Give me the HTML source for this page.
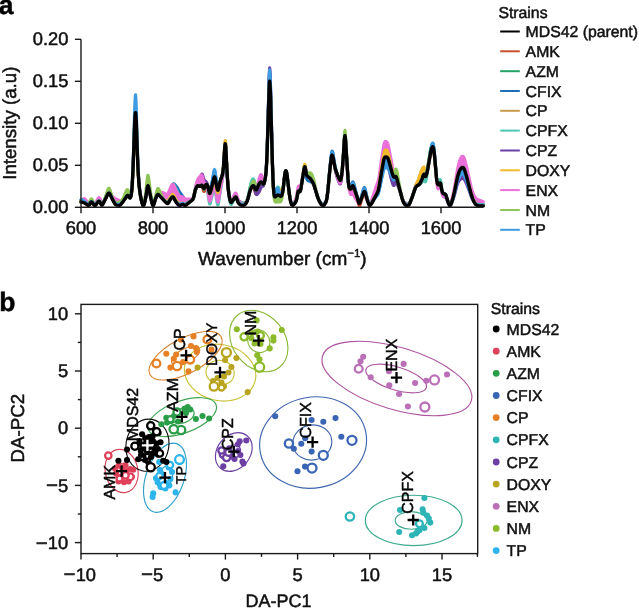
<!DOCTYPE html>
<html lang="en">
<head>
<meta charset="utf-8">
<title>Raman spectra and DAPC of resistant strains</title>
<style>
html,body{margin:0;padding:0;background:#fff;}
body{width:639px;height:608px;overflow:hidden;}
svg{display:block;will-change:transform;}
text{font-family:"Liberation Sans", Arial, Helvetica, sans-serif;text-rendering:geometricPrecision;stroke:#111;stroke-width:0.5px;stroke-linejoin:round;}
</style>
</head>
<body>
<svg width="639" height="608" viewBox="0 0 639 608">
<rect width="639" height="608" fill="#fff"/>
<g stroke-linejoin="round" stroke-linecap="round">
<path fill="#c8502a" stroke="none" d="M83.1,202.1 85.2,202.9 87.6,204.6 88.5,205 88.8,204.9 89.4,204.3 90.9,201.9 90.9,202.3 89.4,204.8 88.8,205.5 88.5,205.6 87.6,205.2 84.9,203.2 83.1,202.5ZM92.1,202 93.9,204.4 94.5,204.9 94.8,205 95.4,204.8 96,204.3 97.8,201.9 97.8,202.2 96,204.8 95.4,205.4 94.8,205.6 94.5,205.5 93.9,205 92.1,202.3ZM99.9,201.8 101.1,204 101.7,204.6 102,204.6 102.6,204.1 103.8,202 103.8,202.4 102.6,204.6 102,205.2 101.7,205.2 101.1,204.6 99.9,202.1ZM114,202 114.9,203.4 115.8,204.3 116.4,204.5 119.1,204.8 120,204.6 120.6,204.2 122.7,201.8 122.7,202.1 120.6,204.7 120,205.2 119.1,205.4 116.4,205.1 115.8,204.8 114.9,203.9 114,202.3ZM141.6,201.2 142.5,204 143.1,205.1 143.4,205.2 143.7,205 144,204.4 144.9,201.4 144.9,201.7 144,205 143.7,205.6 143.4,205.9 143.1,205.8 142.5,204.6 141.6,201.4ZM151.8,202.2 152.4,204.1 152.7,204.7 153,205 153.3,205 153.6,204.6 154.5,202 154.5,202.3 153.6,205.1 153.3,205.6 153,205.6 152.7,205.3 152.4,204.6 151.8,202.5ZM165.9,202.1 167.1,203 167.7,203.2 168.3,202.7 168.9,201.8 168.9,202.1 168.3,203.1 167.7,203.6 167.1,203.5 165.9,202.5ZM176.1,201.9 178.2,204.2 179.1,204.8 179.7,204.9 180.3,204.8 181.8,204 182.4,203.9 183,204 184.5,204.8 185.4,204.9 186.3,204.4 189.3,202.1 189.3,202.5 186.3,204.9 185.4,205.5 185.1,205.6 184.5,205.4 183,204.5 182.4,204.4 181.8,204.6 180.3,205.4 179.7,205.6 179.1,205.4 178.2,204.7 176.1,202.2ZM201.3,185.7 201.6,185.7 201.9,185.9 202.2,186.5 203.4,190.7 203.7,191.4 204,191.6 204.3,191.5 204.6,191 205.8,187.2 206.4,185.8 206.7,185.4 207,185.3 207.3,185.5 207.9,186.6 207.9,186.3 207.3,184.9 206.7,184.3 206.4,184.3 205.8,185 204.3,188.3 204,188.6 203.7,188.6 203.4,188.2 202.2,185.5 201.9,185.2 201.6,185.2 201.3,185.4ZM209.4,193.3 209.7,193.8 210,193.7 210.3,193.2 212.7,186.2 213.9,182.1 214.5,180.8 214.8,180.8 215.1,181.5 216.6,188 217.2,190.1 217.5,190.7 217.8,190.9 218.1,190.6 218.7,188.5 218.7,188.2 218.1,190.1 217.8,190.3 217.5,189.9 216.6,186.2 215.1,178.1 214.8,177.1 214.5,176.9 214.2,177.3 213.6,179.2 210.3,192.5 210,193.2 209.7,193.4 209.4,193ZM237.9,201.7 238.5,202.8 239.7,203.9 241.2,204.7 242.4,205 243.6,204.8 244.5,204.4 245.7,203.3 246.6,202 246.6,202.4 245.7,203.8 244.5,205 243.6,205.4 242.4,205.6 241.2,205.3 239.7,204.4 238.5,203.2 237.9,202ZM250.8,189 251.4,188 252,187.3 252.6,187 253.2,187.1 253.8,187.8 254.1,188.6 255.6,193.5 255.9,194 256.2,194.3 256.5,194.2 257.1,193.3 259.2,188.4 260.4,185.9 261,185 261.6,184.6 263.1,185.3 263.4,185.2 263.7,184.8 264.3,183.2 265.2,178.9 265.2,178.6 264.3,182.6 263.7,184 263.4,184.2 263.1,184.1 261.9,182.6 261.3,182 261,182 260.4,182.3 259.5,183.3 258.6,184.8 256.8,189.3 256.2,190.1 255.9,190.1 255.6,189.8 254.1,186.4 253.5,185.7 252.9,185.8 252.3,186.3 251.4,187.5 250.8,188.7ZM290.7,201.7 291.6,204.1 291.9,204.5 292.5,204.8 293.1,204.6 294,203.9 295.5,202.1 295.5,202.4 294.9,203.4 294,204.5 293.1,205.2 292.5,205.4 291.9,205.1 291.6,204.7 290.7,202ZM319.8,201.9 320.7,203.3 321.3,204 322.2,204.7 323.1,204.9 323.7,204.8 324.3,204.3 325.2,203.1 325.8,202 325.8,202.4 325.2,203.5 324.3,204.8 323.7,205.3 323.1,205.5 322.2,205.3 321.3,204.6 320.7,203.8 319.8,202.2ZM355.8,193.5 358.5,203.9 359.1,205.6 359.4,205.8 359.7,205.7 360,205.2 360.6,203.7 363.3,194 363.9,192.3 364.2,191.8 364.2,191.5 363.9,191.9 363.3,193.2 360.3,201.9 359.7,203.1 359.4,203.4 359.1,203.3 358.5,202 355.8,193.1ZM367.8,201.5 368.7,203.7 369.3,204.7 369.6,204.9 369.9,204.9 370.5,204.5 371.4,203.4 372.3,202 372.3,202.3 370.8,204.7 370.2,205.4 369.9,205.5 369.6,205.5 369.3,205.2 368.7,204.2 367.8,201.8ZM376.8,193.4 378,190.5 378.6,188.2 379.2,185 383.4,158.1 384,155.3 384.3,154.4 384.9,153.3 385.2,153.1 385.8,153 386.7,153.2 387.3,153.8 387.9,154.9 388.8,157.8 391.5,169.3 393,174.8 393.6,176.3 393.9,176.7 394.2,176.8 394.8,176.5 394.8,176.9 394.2,177.2 393.9,177.1 393.6,176.8 393,175.6 391.5,170.7 388.8,160.7 387.9,158.3 387.3,157.4 386.7,157.1 385.5,157 384.9,157.2 384.3,158.1 384,159 383.4,161.5 378.6,189 378,191.1 376.8,193.8ZM403.5,202 404.4,203.4 405.6,204.5 406.8,205 408,205 408.6,204.7 409.2,204 410.7,200.9 410.7,201.2 409.2,204.6 408.6,205.3 408,205.6 406.8,205.6 405.6,205.1 404.4,203.9 403.5,202.3ZM412.8,195.1 414.9,188.1 416.1,184.8 417,183.2 418.5,181.2 419.4,179.7 422.1,174.2 423.3,171.4 423.6,170.9 423.9,170.8 424.2,171 425.1,173.6 425.4,174.3 425.7,174.5 426,174.4 426.6,173 427.8,168.6 427.8,168.8 426.9,173 426,176 425.7,176.4 425.4,176.5 424.2,174.3 423.9,174.3 423.6,174.7 421.8,179.6 419.7,183.8 418.8,184.8 416.7,186 415.8,187.2 414.6,190 412.8,195.4ZM428.4,165.8 430.2,155.9 431.1,151.9 431.7,150.1 432.3,148.9 432.6,148.7 432.9,148.8 433.2,149.3 433.8,151.9 434.4,156.5 436.2,176 436.8,181.1 437.1,182.8 437.7,184.6 438,185 438.3,185.1 438.6,185.1 438.6,184.8 438.3,184.8 438,184.6 437.7,184.1 437.1,182.1 436.8,180.3 436.2,175 434.4,154.8 433.8,150 433.2,147.4 432.9,146.8 432.6,146.7 432.3,147 431.7,148.2 431.1,150.2 430.2,154.6 428.4,165.7ZM447.9,201.5 449.1,204.3 449.7,205 450,205.1 450.3,205 450.9,204.1 451.8,201.8 451.8,202.1 450.9,204.6 450.3,205.6 450,205.7 449.7,205.6 449.1,204.8 447.9,201.8ZM474.3,202 475.2,203.3 475.8,204 477,204.7 478.2,205.1 479.4,205.3 483.3,205.3 483.3,205.9 479.4,205.9 478.2,205.7 477,205.3 476.1,204.8 475.5,204.2 474.3,202.4Z"/>
<path fill="none" stroke="#c8502a" stroke-width="3.0" d="M81,201.7 82.5,202 84.6,202.6 85.5,203.1 87.6,204.6 88.2,205 88.5,205 88.8,204.9 89.4,204.3 90.3,202.8 90.9,201.9 91.2,201.7 91.5,201.7 91.8,201.8 92.4,202.3 93.9,204.4 94.5,204.9 94.8,205 95.1,205 95.7,204.6 98.1,201.5 98.7,201.1 99,201 99.3,201.1 99.9,201.8 101.1,204 101.4,204.4 101.7,204.6 102,204.6 102.3,204.4 102.9,203.6 104.7,200.4 105.9,198.1 107.7,194.2 108.3,193.4 108.6,193.1 108.9,193.1 109.2,193.2 109.8,193.8 112.5,199.4 114.3,202.5 115.2,203.8 115.8,204.3 116.4,204.5 119.1,204.8 119.7,204.7 120.3,204.4 121.5,203.3 123.9,200.3 126.6,196.3 127.2,195.6 127.5,195.5 127.8,195.5 128.1,195.7 129.3,197.5 129.6,197.9 129.9,198 130.2,197.8 130.5,197.4 131.1,195.5 131.4,193.8 132,188.1 132.3,183.8 133.2,165 134.7,122.4 135,116.6 135.3,113.2 135.6,112.7 135.9,115.1 136.2,120.1 137.4,154.7 138,169.5 138.9,183.3 139.8,191.6 140.7,197.1 141.3,200 141.9,202.2 142.5,204 142.8,204.7 143.1,205.1 143.4,205.2 143.7,205 144,204.4 144.9,201.4 145.8,197.2 147.3,187.4 147.6,186.2 147.9,185.7 148.2,186 148.8,188.1 150.9,198.3 151.8,202.2 152.4,204.1 152.7,204.7 153,205 153.3,205 153.6,204.6 153.9,203.9 155.4,199.2 156.6,196.1 157.2,194.9 157.5,194.6 157.8,194.4 158.1,194.4 158.7,194.8 165.3,201.6 166.5,202.6 167.4,203.1 167.7,203.2 168,203 168.3,202.7 170.1,199.7 171.6,197.5 172.2,197 172.5,196.9 172.8,196.9 173.1,197 173.7,197.7 175.5,201 176.1,201.9 177.6,203.6 178.8,204.6 179.4,204.9 180,204.9 180.6,204.7 181.8,204 182.4,203.9 183,204 184.5,204.8 185.1,205 185.4,204.9 186.3,204.4 192,200.1 192.9,199.3 193.5,197.9 195,191.3 195.6,189.3 196.2,187.7 196.8,186.6 197.4,185.9 197.7,185.7 198.3,185.8 199.2,186.3 199.8,186.5 200.4,186.3 201.3,185.7 201.6,185.7 201.9,185.9 202.2,186.5 202.5,187.4 203.4,190.7 203.7,191.4 204,191.6 204.3,191.5 204.6,191 205.8,187.2 206.4,185.8 206.7,185.4 207,185.3 207.3,185.5 207.6,185.8 207.9,186.6 208.2,187.7 209.1,192.2 209.4,193.3 209.7,193.8 210,193.7 210.6,192.4 212.7,186.2 213.9,182.1 214.2,181.2 214.5,180.8 214.8,180.8 215.1,181.5 216.9,189.1 217.5,190.7 217.8,190.9 218.1,190.6 218.4,189.7 219.9,182.4 220.5,180.3 222.3,175.1 222.9,172.1 223.5,166.4 224.7,148.3 225,144.9 225.3,143.8 225.6,145.5 225.9,149.8 227.1,173.3 228,186.6 228.9,194.2 229.5,197.7 230.1,200.3 230.7,201.8 231,202.1 231.3,202.1 231.9,201.6 234.9,197.5 235.5,197 235.8,197 236.1,197.2 236.4,197.8 237.6,201 238.2,202.3 239.1,203.4 240.6,204.4 241.5,204.8 242.1,205 243.3,204.9 243.9,204.7 244.5,204.4 245.4,203.6 246,202.9 246.6,202 247.2,200.9 248.1,198.2 249.6,192.4 250.2,190.4 250.8,189 251.7,187.6 252.3,187.1 252.6,187 252.9,186.9 253.2,187.1 253.5,187.3 254.1,188.6 255.6,193.5 255.9,194 256.2,194.3 256.5,194.2 257.1,193.3 259.2,188.4 260.4,185.9 261,185 261.3,184.7 261.6,184.6 261.9,184.7 262.8,185.2 263.1,185.3 263.4,185.2 263.7,184.8 264.3,183.2 264.9,180.5 265.5,177 266.1,171.6 266.7,162 267.3,146.9 269.1,89.8 269.4,83.5 269.7,81.2 270,83.6 270.6,98.2 272.4,163.5 273,180.3 273.3,186.1 273.9,193.2 274.2,195.1 274.5,196.2 274.8,196.8 275.1,196.9 275.4,196.8 276.9,195.4 277.5,195.1 277.8,195 278.1,195 278.7,195.2 280.2,196.2 280.8,196.4 281.1,196.3 281.4,196.1 281.7,195.6 282.3,193.7 282.9,190.6 283.5,186 284.4,177.6 285,173.3 285.3,171.9 285.6,171.1 285.9,170.8 286.2,171.1 286.5,172 287.1,175.2 289.2,193.1 290.1,198.9 290.7,201.7 291.3,203.5 291.6,204.1 291.9,204.5 292.2,204.8 292.5,204.8 293.1,204.6 294.3,203.6 295.5,202.1 296.1,200.9 296.4,200.1 297,197.5 297.9,192.4 298.2,191.3 298.5,190.9 298.8,190.9 299.7,191.7 300,191.6 300.3,191 300.6,189.9 301.2,186.7 303.9,170 304.5,167.2 304.8,166.8 305.1,167.2 305.4,168.5 306.3,173.6 306.6,174.8 306.9,175.5 307.5,176.3 309.3,177.6 310.2,178.5 312,181 313.2,183.2 314.1,185.3 314.7,187.2 317.4,196.4 318.3,198.8 319.2,200.8 320.4,202.9 321,203.7 321.6,204.3 322.2,204.7 322.8,204.9 323.4,204.9 324,204.6 324.9,203.5 325.8,202 326.4,200.5 327,197.8 327.9,190.5 329.4,174.3 330.6,163.1 331.5,156.8 331.8,155.6 332.1,155.1 332.4,155.3 332.7,156 333,157.1 334.8,166.6 335.4,169.1 336.3,171.9 338.1,176.6 339.6,179.8 339.9,180.2 340.2,180.4 340.5,180.3 340.8,179.6 341.4,176.9 342.3,169.5 343.2,158 344.4,139.4 344.7,136.5 345,135.7 345.3,137.3 345.6,140.8 348,178.7 348.3,182.1 348.9,186.5 349.2,187.6 349.5,188.3 349.8,188.7 350.4,189.2 350.7,189.1 351,188.9 351.3,188.5 352.5,185.9 352.8,185.7 353.1,185.9 353.4,186.3 354.3,188.7 355.8,193.5 357,197.8 358.5,203.9 359.1,205.6 359.4,205.8 359.7,205.7 360,205.2 360.6,203.7 363.3,194 363.9,192.3 364.2,191.8 364.5,191.7 364.8,191.9 365.1,192.5 366.6,197.8 368.1,202.3 369,204.3 369.3,204.7 369.6,204.9 369.9,204.9 370.5,204.5 371.7,203 373.5,199.8 376.2,194.7 377.4,192.1 378,190.5 378.9,186.7 382.2,165.4 383.7,156.6 384,155.3 384.6,153.7 384.9,153.3 385.2,153.1 385.8,153 386.7,153.2 387.3,153.8 387.9,154.9 388.2,155.7 389.1,159 391.8,170.5 392.7,173.8 393.3,175.6 393.6,176.3 393.9,176.7 394.2,176.8 394.5,176.7 395.4,176.2 395.7,176.3 396,176.6 396.6,178 401.7,196.9 402.6,199.8 403.2,201.3 403.8,202.5 404.4,203.4 405,204.1 405.6,204.5 406.5,204.9 407.4,205 408,205 408.6,204.7 409.2,204 409.8,203 411.3,199.4 412.8,195.1 415.2,187.2 416.1,184.8 417,183.2 418.5,181.2 419.4,179.7 422.1,174.2 423.3,171.4 423.6,170.9 423.9,170.8 424.2,171 425.1,173.6 425.4,174.3 425.7,174.5 426,174.4 426.3,173.8 427.2,171 428.1,167.3 430.2,155.9 430.8,153.1 431.7,150.1 432.3,148.9 432.6,148.7 432.9,148.8 433.2,149.3 433.5,150.3 434.1,154 434.7,159.3 436.5,178.8 436.8,181.1 437.4,183.9 437.7,184.6 438,185 438.3,185.1 438.6,185.1 438.9,184.8 439.8,183.3 440.1,183 440.4,183.1 440.7,183.9 441.6,189.1 442.2,191.7 442.8,192.9 443.4,193.6 444,193.9 444.9,194 445.2,194.1 445.5,194.4 445.8,195 447.9,201.5 448.8,203.7 449.4,204.7 449.7,205 450,205.1 450.3,205 450.6,204.6 451.5,202.7 452.4,199.9 453.3,196.7 454.5,191.7 457.5,177 458.7,172.9 459.6,170.7 460.8,168.6 461.7,167.7 462.3,167.4 462.6,167.4 463.2,167.6 463.8,168.3 464.4,169.5 465,171.2 466.8,177.3 470.1,190.3 471.3,194.6 472.8,199 474,201.5 474.9,202.9 475.5,203.7 476.1,204.2 477,204.7 478.2,205.1 479.4,205.3 481.5,205.3 483.3,205.3"/>
<path fill="#21a366" stroke="none" d="M81,201.5 82.5,201.7 84.6,202.4 85.5,202.8 87.6,204.3 88.5,204.6 88.8,204.5 89.4,203.9 90.9,201.7 91.5,201.5 91.8,201.6 92.4,202.1 94.2,204.3 94.8,204.6 95.1,204.5 95.7,204.2 98.1,201.3 98.7,200.9 99,200.9 99.3,200.9 99.9,201.5 101.4,203.9 101.7,204.1 102,204 102.3,203.8 102.9,202.8 104.4,199.8 105.6,196.9 107.7,191.4 108.3,190.4 108.6,190.1 108.9,190.1 109.5,190.5 110.1,191.6 112.2,197.2 114,201.1 114.9,202.7 115.8,203.7 116.7,204.1 118.8,204.4 119.4,204.4 120,204.2 121.2,203.3 123.6,200.5 123.6,200.9 121.2,204.1 120,205.2 119.4,205.4 118.8,205.4 116.4,205.1 115.8,204.8 114.9,203.9 114,202.3 111.9,198.3 109.8,193.8 109.2,193.2 108.9,193.1 108.3,193.4 107.7,194.2 105.6,198.8 103.5,202.9 102.6,204.6 102,205.2 101.7,205.2 101.4,205 99.9,202.1 99.3,201.4 99,201.3 98.7,201.3 98.1,201.8 95.7,205.1 95.1,205.6 94.8,205.6 94.5,205.5 93.9,205 92.4,202.7 91.8,202.1 91.5,202 90.9,202.3 89.4,204.8 88.8,205.5 88.5,205.6 87.6,205.2 85.5,203.6 84.6,203 82.5,202.3 81,202ZM141.3,199.9 142.5,203.7 143.1,204.7 143.4,204.8 143.7,204.6 144.3,203.3 145.2,200 145.2,200.3 144.3,204.1 143.7,205.6 143.4,205.9 143.1,205.8 142.5,204.6 141.3,200.1ZM151.2,199.6 152.1,202.9 152.7,204.3 153,204.6 153.3,204.6 153.9,203.5 155.1,199.9 155.1,200.2 153.9,204.4 153.3,205.6 153,205.6 152.7,205.3 152.1,203.7 151.2,199.8ZM164.4,200.5 166.5,202.4 167.1,202.7 167.7,202.9 168,202.7 168.6,202.1 169.8,200.1 169.8,200.3 168.6,202.7 168,203.5 167.7,203.6 167.1,203.5 166.5,203 164.4,200.9ZM175.2,200.3 176.1,201.7 177.6,203.3 178.8,204.2 179.7,204.5 180.3,204.4 181.8,203.7 182.4,203.5 183,203.6 184.5,204.4 185.4,204.5 186.3,204 191.4,200.4 191.4,200.8 186.3,204.9 185.4,205.5 185.1,205.6 184.5,205.4 183,204.5 182.4,204.4 181.8,204.6 180.3,205.4 179.7,205.6 178.8,205.2 177.6,204.1 176.1,202.2 175.2,200.6ZM202.8,187.1 203.4,188.7 203.7,189.1 204,189.3 204.3,189.2 204.6,188.8 205.8,186.8 206.1,186.7 206.4,186.8 206.7,187.1 207.3,188.2 207.9,190.2 209.4,197.9 209.7,198.4 210,198.2 210.6,196.4 211.2,193.7 213.9,180.3 214.5,178.5 214.8,178.5 215.4,180.5 217.2,189.2 217.2,189 215.1,178.1 214.8,177.1 214.5,176.9 214.2,177.3 213.9,178.1 210.6,191.5 210,193.2 209.7,193.4 209.4,193 207.9,186.3 207.6,185.4 207,184.5 206.7,184.3 206.4,184.3 206.1,184.5 205.5,185.6 204.6,187.8 204,188.6 203.7,188.6 203.4,188.2 202.8,186.8ZM229.8,199 230.4,200.9 230.7,201.4 231,201.7 231.3,201.7 232.2,200.8 235.2,196.2 235.5,195.9 235.8,195.8 236.1,196 236.4,196.4 237.9,199.8 238.8,200.9 240.9,202.2 242.4,202.9 243.6,203.1 244.8,202.8 245.7,202.2 246.3,201.5 246.9,200.5 247.5,199.1 248.4,195.7 249.9,188.3 250.8,184.6 251.7,181.8 252.6,180 252.9,179.8 253.2,179.7 253.5,179.8 253.8,180.3 254.4,182 255.6,186.3 256.2,187.5 256.5,187.5 257.1,187 258.3,184.8 259.2,183.5 259.2,183.8 258.3,185.4 256.8,189.3 256.2,190.1 255.9,190.1 255.6,189.8 254.1,186.4 253.5,185.7 253.2,185.7 252.6,186 251.7,187 250.8,188.7 250.2,190.3 248.1,198.2 247.2,201.1 246.6,202.4 245.7,203.8 244.8,204.7 243.9,205.3 242.7,205.6 241.5,205.4 240.3,204.8 239.1,203.9 238.2,202.7 236.4,197.8 235.8,197 235.5,197 234.9,197.5 231.9,201.9 231.3,202.5 231,202.4 230.7,202.1 230.4,201.4 229.8,199.2ZM290.4,200.3 291.3,203.2 291.9,204.1 292.5,204.4 293.4,204 294.9,202.7 295.8,201.4 296.4,200 296.4,200.3 295.8,201.8 294.6,203.8 293.4,205 292.5,205.4 291.9,205.1 291.3,204 290.4,200.6ZM318.9,200 320.1,202.2 321,203.4 321.9,204.1 322.5,204.4 323.1,204.5 324,204.2 324.9,203.2 325.8,201.8 326.4,200.3 326.4,200.7 325.8,202.4 324.9,204 324,205.1 323.7,205.3 323.1,205.5 322.5,205.4 321.9,205.1 321,204.2 320.1,202.8 318.9,200.3ZM357.9,199.7 358.8,202.2 359.1,202.6 359.4,202.7 360,202 360.9,199.9 360.9,200.2 360,202.6 359.7,203.1 359.4,203.4 359.1,203.3 358.8,202.8 357.9,199.9ZM367.5,200.5 368.4,202.8 369,203.9 369.6,204.4 369.9,204.5 370.5,204.1 371.7,202.6 374.4,197.9 374.4,198.3 371.4,203.9 370.5,205.1 369.9,205.5 369.6,205.5 369.3,205.2 369,204.8 368.4,203.5 367.5,200.8ZM374.4,197.9 377.4,191.8 378,190.2 378.6,187.9 383.4,158.8 384,156.1 384.3,155.2 384.9,154.3 385.2,154.1 385.8,154 386.7,154.1 387.3,154.6 387.9,155.6 388.8,158.3 391.8,170.3 393.3,175.4 393.9,176.4 394.2,176.5 395.4,176 395.7,176.1 396.3,177 396.3,177.3 396,176.7 395.7,176.5 395.4,176.5 394.2,177.2 393.9,177.1 393.6,176.8 393,175.6 392.1,172.8 389.1,161.8 388.2,159 387.6,157.8 387,157.2 386.4,157 385.8,157 384.9,157.2 384.3,158.1 384,159 383.4,161.5 378.6,189 378,191.1 377.4,192.6 374.4,198.3ZM402.6,199.7 403.5,201.7 404.7,203.4 405.9,204.3 407.4,204.6 408.3,204.5 408.9,204.1 409.8,202.7 411,200.1 411,200.4 410.1,202.7 409.2,204.6 408.9,205 408.3,205.5 407.4,205.7 405.9,205.3 405.3,204.9 404.7,204.3 403.5,202.3 402.6,200ZM419.1,184.8 422.4,181.7 423.9,178.9 424.2,178.8 425.1,179.5 425.4,179.3 426,177.6 426.6,174.4 426.6,174.2 426,176 425.7,176.4 425.4,176.5 425.1,176.1 424.2,174.3 423.9,174.3 423.6,174.7 422.4,178.1 421.5,180.3 420,183.3 419.1,184.5ZM426.6,174.4 429.9,153.7 430.8,149.2 431.4,147.3 432,146 432.3,145.7 432.6,145.7 432.9,145.9 433.2,146.6 433.8,149.6 434.4,154.5 434.4,154.8 433.8,150 433.2,147.4 432.9,146.8 432.6,146.7 432.3,147 431.7,148.2 431.1,150.2 430.5,153 428.1,167.3 426.6,174.2ZM447.6,200.5 449.1,203.9 449.7,204.6 450,204.7 450.3,204.5 450.9,203.7 451.5,202.4 452.4,199.8 452.4,200.1 451.5,203.1 450.9,204.6 450.3,205.6 450,205.7 449.7,205.6 449.1,204.8 448.5,203.4 447.6,200.8ZM473.4,200.2 474.9,202.6 475.8,203.6 476.7,204.2 477.9,204.6 479.4,204.8 483.3,204.9 483.3,205.9 481.2,206 479.1,205.9 477.9,205.6 476.7,205.2 475.8,204.5 475.2,203.8 474.3,202.4 473.4,200.5Z"/>
<path fill="none" stroke="#21a366" stroke-width="3.0" d="M81,201.5 82.5,201.7 84.6,202.4 85.5,202.8 87.6,204.3 88.2,204.5 88.5,204.6 88.8,204.5 89.4,203.9 90.3,202.5 90.9,201.7 91.2,201.5 91.5,201.5 91.8,201.6 92.4,202.1 93.6,203.7 94.2,204.3 94.8,204.6 95.1,204.5 95.7,204.2 98.1,201.3 98.7,200.9 99,200.9 99.3,200.9 99.9,201.5 100.8,203.1 101.4,203.9 101.7,204.1 102,204 102.3,203.8 102.9,202.8 104.4,199.8 105.6,196.9 107.7,191.4 108.3,190.4 108.6,190.1 108.9,190.1 109.2,190.2 109.5,190.5 110.1,191.6 112.2,197.2 114.3,201.7 114.9,202.7 115.5,203.5 115.8,203.7 116.4,204 119.1,204.4 120,204.2 120.6,203.8 121.8,202.6 123.3,200.9 124.5,199.3 126.9,195.9 127.5,195.5 127.8,195.5 128.1,195.7 129.3,197.5 129.6,197.8 129.9,197.9 130.2,197.8 130.5,197.4 131.1,195.5 131.4,193.8 132,188.1 132.3,183.8 133.2,165 134.7,122.4 135,116.6 135.3,113.2 135.6,112.7 135.9,115.1 136.2,120.1 137.4,154.7 138,169.5 138.9,183.3 139.8,191.6 140.7,197.1 141.3,199.9 141.9,202 142.5,203.7 143.1,204.7 143.4,204.8 143.7,204.6 144,204 144.9,201.2 145.8,197.1 147.3,187.4 147.6,186.2 147.9,185.7 148.2,186 148.8,188.1 150.6,196.9 151.5,200.8 152.4,203.7 152.7,204.3 153,204.6 153.3,204.6 153.6,204.2 154.2,202.7 155.4,199.1 156.6,196.1 157.2,194.9 157.5,194.6 157.8,194.4 158.1,194.4 158.7,194.8 165,201.1 166.5,202.4 167.4,202.8 167.7,202.9 168,202.7 168.3,202.5 170.1,199.6 171.6,197.5 172.2,197 172.5,196.8 172.8,196.8 173.1,197 173.7,197.6 175.5,200.8 176.1,201.7 177.6,203.3 178.8,204.2 179.4,204.5 180,204.5 180.6,204.3 181.8,203.7 182.4,203.5 183,203.6 184.8,204.5 185.1,204.5 185.7,204.4 192,200 192.9,199.2 193.5,197.8 195,191.3 195.6,189.3 196.2,187.7 196.8,186.6 197.4,185.9 197.7,185.7 198.3,185.8 199.2,186.3 199.8,186.5 200.4,186.2 201.3,185.4 201.6,185.3 201.9,185.3 202.2,185.7 202.5,186.3 203.4,188.7 203.7,189.1 204,189.3 204.3,189.2 204.6,188.8 205.5,187.2 205.8,186.8 206.1,186.7 206.4,186.8 206.7,187.1 207.3,188.2 207.9,190.2 209.1,196.7 209.4,197.9 209.7,198.4 210,198.2 210.6,196.4 211.2,193.7 213.9,180.3 214.2,179.1 214.5,178.5 214.8,178.5 215.1,179.3 216.9,188.1 217.5,190.1 217.8,190.5 218.1,190.3 218.4,189.5 219.9,182.4 220.5,180.3 222.3,175.1 222.9,172.1 223.5,166.4 224.7,148.3 225,144.9 225.3,143.8 225.6,145.5 225.9,149.7 227.1,173.3 228,186.5 228.9,194.1 229.5,197.6 230.1,200.1 230.7,201.4 231,201.7 231.3,201.7 231.6,201.5 232.5,200.3 234.9,196.5 235.5,195.9 235.8,195.8 236.1,196 236.4,196.4 237.6,199.2 238.2,200.3 239.1,201.1 241.2,202.4 242.7,203 243.9,203.1 244.5,202.9 245.1,202.6 246,201.9 246.6,201.1 247.5,199.1 248.4,195.7 249.9,188.3 250.8,184.6 251.7,181.8 252.3,180.5 252.6,180 252.9,179.8 253.2,179.7 253.5,179.8 253.8,180.3 254.4,182 255.6,186.3 255.9,187.1 256.2,187.5 256.5,187.5 256.8,187.4 257.1,187 258.3,184.8 258.9,183.9 259.8,182.8 260.7,182 261,181.9 261.3,182 261.6,182.2 262.8,183.9 263.1,184.1 263.4,184.2 263.7,184 264,183.5 264.3,182.6 264.9,180.2 265.5,176.8 266.1,171.5 266.7,161.9 267.3,146.8 269.1,89.8 269.4,83.5 269.7,81.2 270,83.6 270.6,98.2 272.4,163.5 273,180.3 273.3,186.1 273.9,193.2 274.2,195.1 274.5,196.2 274.8,196.8 275.1,196.9 275.4,196.8 276.9,195.4 277.5,195 277.8,195 278.1,195 278.7,195.2 280.2,196.2 280.8,196.4 281.1,196.3 281.4,196.1 281.7,195.6 282.3,193.7 282.9,190.6 283.5,186 284.4,177.6 285,173.3 285.3,171.9 285.6,171.1 285.9,170.8 286.2,171.1 286.5,172 287.1,175.2 289.2,193.1 290.1,198.9 290.7,201.5 291.3,203.2 291.6,203.7 291.9,204.1 292.2,204.4 292.5,204.4 293.1,204.2 294.3,203.3 295.5,201.9 296.1,200.8 296.4,200 297,197.5 297.9,192.4 298.2,191.3 298.5,190.9 298.8,190.9 299.7,191.7 300,191.6 300.3,191 300.6,189.9 301.2,186.7 303.9,170 304.5,167.2 304.8,166.8 305.1,167.2 305.4,168.5 306.3,173.6 306.6,174.8 306.9,175.5 307.5,176.3 309.3,177.6 310.2,178.5 312,181 313.2,183.2 314.4,186.2 317.4,196.4 318.3,198.7 319.2,200.6 320.4,202.6 321,203.4 321.6,203.9 322.2,204.3 322.8,204.5 323.4,204.5 324,204.2 324.6,203.6 325.2,202.8 326.1,201.2 326.7,199.2 327,197.7 327.9,190.5 329.4,174.3 330.6,163.1 331.5,156.8 331.8,155.6 332.1,155.1 332.4,155.3 332.7,156 333,157.1 334.8,166.6 335.4,169.1 336.3,171.9 338.1,176.6 339.6,179.8 339.9,180.2 340.2,180.4 340.5,180.3 340.8,179.6 341.4,176.9 342.3,169.5 343.2,158 344.4,139.4 344.7,136.5 345,135.7 345.3,137.3 345.6,140.8 348,178.7 348.3,182.1 348.9,186.5 349.2,187.6 349.5,188.3 349.8,188.7 350.4,189.2 350.7,189.1 351,188.9 351.3,188.5 352.5,185.9 352.8,185.7 353.1,185.9 353.4,186.3 354.6,189.5 358.5,201.5 358.8,202.2 359.1,202.6 359.4,202.7 359.7,202.4 360.3,201.4 361.5,198.3 363.3,193.2 363.9,191.9 364.2,191.5 364.5,191.4 364.8,191.8 365.1,192.4 366.6,197.8 367.5,200.5 368.4,202.8 369,203.9 369.3,204.3 369.6,204.4 369.9,204.5 370.2,204.3 370.8,203.8 372,202.2 373.5,199.6 376.8,193.2 377.7,191.1 378.3,189.2 379.2,184.8 381.3,171.2 383.7,157.4 384,156.1 384.6,154.6 384.9,154.3 385.2,154.1 386.1,154 386.7,154.1 387.3,154.6 387.9,155.6 388.2,156.3 389.1,159.4 391.8,170.3 392.7,173.6 393.3,175.4 393.6,176 393.9,176.4 394.2,176.5 394.5,176.4 395.4,176 395.7,176.1 396,176.4 396.3,177 396.9,178.8 401.7,196.8 402.6,199.7 403.2,201.2 403.8,202.3 404.4,203.1 405,203.7 405.6,204.1 406.5,204.5 407.4,204.6 408,204.6 408.6,204.4 408.9,204.1 409.5,203.2 411,200.1 412.5,196.2 414.9,189.2 415.5,187.8 416.1,186.7 417,185.8 418.5,185.2 419.1,184.8 420.9,183.1 422.1,182 422.7,181.2 423.6,179.3 423.9,178.9 424.2,178.8 425.1,179.5 425.4,179.3 425.7,178.7 426,177.6 426.6,174.4 429.6,155.5 430.5,150.5 431.1,148.1 431.7,146.6 432,146 432.3,145.7 432.6,145.7 432.9,145.9 433.2,146.6 433.5,147.8 434.1,151.8 434.7,157.5 436.5,177.9 436.8,180.3 437.4,183.3 437.7,184.1 438,184.6 438.3,184.8 438.6,184.8 438.9,184.6 439.2,184.2 439.8,183.2 440.1,182.9 440.4,183 440.7,183.9 441,185.4 441.9,190.6 442.5,192.4 443.1,193.3 443.7,193.8 444,193.9 444.9,194 445.2,194.1 445.5,194.4 446.1,195.7 447.9,201.3 448.8,203.3 449.4,204.3 449.7,204.6 450,204.7 450.3,204.5 450.9,203.7 451.8,201.6 452.7,198.8 454.5,191.7 457.5,177 458.7,172.9 459.6,170.7 460.8,168.6 461.7,167.7 462.3,167.4 462.6,167.4 463.2,167.6 463.8,168.3 464.4,169.5 465,171.2 467.1,178.4 471,193.6 472.5,198.2 473.7,200.8 474.3,201.8 475.2,203 475.8,203.6 476.7,204.2 477.9,204.6 479.4,204.8 481.5,204.9 483.3,204.9"/>
<path fill="#1f6fb8" stroke="none" d="M81,200.1 81.9,200 83.1,200.5 87,203.6 88.2,204.3 88.8,204.3 89.1,204.1 90.6,201.9 91.2,201.4 91.5,201.4 91.8,201.5 92.4,202 94.2,204.1 94.8,204.4 95.1,204.3 95.7,204 98.1,201.3 98.7,200.8 99,200.8 99.3,200.9 99.9,201.5 101.4,203.9 101.7,204.1 102,204.1 102.3,203.9 102.9,203.1 105,199.7 105,200 102.9,204.1 102.3,205 102,205.2 101.7,205.2 101.4,205 99.9,202.1 99.3,201.4 99,201.3 98.7,201.3 98.1,201.8 95.7,205.1 95.1,205.6 94.8,205.6 94.5,205.5 93.9,205 92.4,202.7 91.8,202.1 91.5,202 90.9,202.3 89.4,204.8 88.8,205.5 88.5,205.6 87.6,205.2 85.5,203.6 84.6,203 82.5,202.3 81,202ZM112.8,199.7 114.6,202.5 115.5,203.5 116.4,203.9 119.1,204.2 120,204 120.9,203.4 122.4,201.8 124.2,199.7 124.2,200 120.9,204.4 120,205.2 119.1,205.4 116.4,205.1 115.5,204.6 114.6,203.4 112.8,200.1ZM141.3,199.8 142.5,203.5 143.1,204.5 143.4,204.6 143.7,204.4 144.3,203.1 145.2,200 145.2,200.3 144.3,204.1 143.7,205.6 143.4,205.9 143.1,205.8 142.5,204.6 141.3,200.1ZM151.2,199.5 152.1,202.7 152.7,204.1 153,204.4 153.3,204.4 153.9,203.3 155.1,199.9 155.1,200.2 153.9,204.4 153.3,205.6 153,205.6 152.7,205.3 152.1,203.7 151.2,199.8ZM161.7,197.7 163.5,199.1 165,199.9 166.2,200.1 166.8,200 167.4,199.6 168,198.7 168.6,197.2 172.2,185.6 172.8,184.4 173.1,184 173.7,183.7 174,183.8 174.6,184.2 176.7,186.7 177.6,188.1 179.7,192.1 182.4,195.6 184.5,199.4 185.4,200.4 186.3,200.7 188.1,200.7 189.9,200.3 191.7,199.6 192.9,198.7 193.5,197.5 193.8,196.4 193.8,196.8 193.2,198.8 192.6,199.8 186.3,204.9 185.7,205.4 185.1,205.6 184.5,205.4 183,204.5 182.4,204.4 181.8,204.6 180,205.5 179.4,205.5 178.8,205.2 177.9,204.4 176.4,202.6 175.5,201.2 173.7,197.7 173.1,197 172.8,196.9 172.2,197 171.3,198 170.1,199.8 168.6,202.7 168,203.5 167.7,203.6 167.1,203.5 166.2,202.7 161.7,198ZM209.4,192.7 209.7,193 210,192.7 210.6,190.5 213.6,173.7 214.2,171.3 214.5,170.9 214.8,171.3 215.1,172.4 216.9,185 217.5,188.1 217.8,188.9 218.1,189 218.4,188.6 219.3,184.9 219.3,185.2 218.4,189.4 218.1,190.1 217.8,190.3 217.5,189.9 216.6,186.2 215.1,178.1 214.8,177.1 214.5,176.9 214.2,177.3 213.6,179.2 210.3,192.5 210,193.2 209.7,193.4 209.4,193ZM229.8,199 230.4,200.9 231,201.7 231.3,201.8 231.6,201.6 233.1,199.8 233.1,200.1 231.6,202.3 231.3,202.5 231,202.4 230.7,202.1 230.4,201.4 229.8,199.2ZM237.3,200 238.2,201.9 239.1,202.9 240.9,204 241.8,204.3 242.7,204.4 243.6,204.2 244.2,204 245.4,203.1 246.6,201.7 247.5,199.9 247.5,200.3 246.6,202.4 245.4,204.1 244.2,205.2 243.6,205.4 242.7,205.6 241.8,205.5 240.9,205.2 239.1,203.9 238.2,202.7 237.3,200.3ZM265.8,174.1 266.4,166.5 267,153 269.1,80.5 269.4,73.6 269.7,71.1 270,73.6 270.6,89.6 272.7,170.1 273.3,183.8 273.9,190.7 274.2,192.3 274.5,193.1 274.8,193.3 275.4,192.6 276.9,189.8 277.5,189.1 278.1,189 278.4,189.1 279,189.7 280.5,192.1 281.1,192.8 281.4,192.9 281.7,192.8 282,192.3 282.6,190.4 283.2,187.2 284.7,174.7 285.3,171.6 285.3,171.9 284.7,175.2 282.9,190.6 282.3,193.7 281.7,195.6 281.4,196.1 281.1,196.4 280.8,196.4 280.2,196.2 278.7,195.2 277.8,195 276.9,195.4 275.7,196.6 275.1,196.9 274.8,196.8 274.5,196.3 274.2,195.1 273.6,190.3 273.3,186.1 272.7,172.7 270.6,98.2 270,83.6 269.7,81.2 269.4,83.5 269.1,89.8 267,155 266.4,167.4 265.8,174.5ZM290.1,198.8 290.7,201.4 291.3,203 291.9,204 292.5,204.2 293.4,203.9 294.9,202.5 295.8,201.3 296.4,199.9 296.4,200.3 295.8,201.8 294.6,203.8 293.4,205 292.5,205.4 291.9,205.1 291.3,204 290.7,202 290.1,199ZM301.2,187 303.9,171.5 304.5,169.2 304.8,169 305.1,169.7 305.4,171.2 306.3,177 306.6,178.4 307.2,179.8 308.1,180.7 310.5,181.7 312.3,182.9 313.5,184.6 314.7,187.5 314.7,187.2 313.5,183.8 312.6,182 311.7,180.6 309.9,178.2 307.5,176.3 306.9,175.5 306.3,173.6 305.4,168.5 305.1,167.2 304.8,166.8 304.5,167.2 303.9,170 301.2,186.7ZM318.9,200 320.1,202.1 321,203.2 321.9,203.9 322.5,204.2 323.1,204.3 324,204 325.2,202.6 326.1,201.1 326.7,199.1 326.7,199.4 326.1,201.6 325.2,203.5 324,205.1 323.7,205.3 323.1,205.5 322.5,205.4 321.9,205.1 321,204.2 320.1,202.8 318.9,200.3ZM327.6,193.1 330.3,163.3 331.2,155.1 331.8,151.8 332.1,151.1 332.4,151.3 333,153.3 335.1,166.4 336,170.3 336.9,173.2 336.9,173.5 335.7,170.1 335.1,167.9 333.3,158.4 332.7,156 332.4,155.3 332.1,155.1 331.8,155.6 331.2,158.6 330.3,165.7 327.6,193.4ZM347.4,169.8 348.3,181.4 348.6,183.8 348.9,185.4 349.2,186.3 349.5,186.8 349.8,186.9 350.4,186.8 350.7,186.5 351.3,185.3 352.5,182 352.8,181.7 353.1,181.9 353.4,182.4 354,184.1 357.6,197.8 358.2,199.9 358.8,201.4 359.1,201.7 359.4,201.7 360,200.8 360.9,198.2 363.3,189.5 363.9,187.9 364.2,187.5 364.5,187.5 364.8,187.9 365.1,188.7 367.2,197.6 368.1,200.8 369,203.1 369.6,203.9 370.2,204 371.1,203.3 372.6,201.5 372.6,201.7 371.4,203.9 370.5,205.1 369.9,205.5 369.6,205.5 369.3,205.2 368.7,204.2 368.1,202.7 366.6,197.9 365.1,192.4 364.8,191.8 364.5,191.4 364.2,191.5 363.6,192.5 360,202.6 359.7,203.1 359.4,203.4 359.1,203.3 358.5,202 355.5,192.2 353.4,186.3 353.1,185.9 352.8,185.7 352.5,185.9 351.3,188.5 350.7,189.1 350.4,189.2 349.8,188.7 349.2,187.6 348.6,184.7 348.3,182.1 347.4,170.1ZM373.8,199.7 377.7,194.4 378.6,192.3 379.2,189.9 381,180.8 383.4,169.6 384,167.5 384.3,166.8 384.9,166.1 387,165.9 387.6,166.2 388.2,166.9 389.1,168.9 391.8,176 393.3,179.1 393.6,179.4 393.9,179.5 394.2,179.3 395.1,178.1 395.7,177.7 396,177.8 396.3,178.2 396.9,179.8 398.7,186.2 398.7,185.8 396.9,179 396.3,177.3 396,176.7 395.7,176.5 395.4,176.5 394.2,177.2 393.9,177.1 393.6,176.8 393,175.6 391.5,170.7 388.8,160.7 387.9,158.3 387.3,157.4 386.7,157.1 385.5,157 384.9,157.2 384.3,158.1 384,159 383.4,161.5 381,175 379.2,186 378.3,190.2 377.1,193.2 373.8,199.4ZM402.6,199.7 403.5,201.7 404.7,203.3 405.9,204.1 406.8,204.4 407.7,204.4 408.6,204.2 409.2,203.5 410.1,202 411.3,199.4 411.3,199.6 410.1,202.7 409.2,204.6 408.6,205.3 408.3,205.5 407.7,205.7 406.8,205.6 405.9,205.3 405.3,204.9 404.7,204.3 403.5,202.3 402.6,200ZM428.4,165.3 431.1,147.8 432,144.3 432.3,143.6 432.6,143.3 432.9,143.3 433.2,143.9 433.5,145.1 434.1,149.4 436.2,174.2 437.1,181.7 437.1,182.1 436.2,175 434.4,154.8 433.8,150 433.2,147.4 432.9,146.8 432.6,146.7 432.3,147 431.7,148.2 431.1,150.2 430.2,154.6 428.4,165.7ZM447.6,200.5 448.8,203.3 449.7,204.6 450,204.7 450.3,204.6 450.6,204.4 451.5,202.8 451.5,203.1 450.6,205.2 450.3,205.6 450,205.7 449.7,205.6 449.4,205.3 448.8,204.2 447.6,200.8ZM452.1,201.3 453,198.6 454.2,194.4 456.9,182.5 458.1,178.2 459,176.1 460.2,174.1 461.4,172.8 462,172.5 462.6,172.4 463.2,172.5 463.8,173.1 464.4,174.1 465.3,176.3 467.4,182.5 471,194.7 472.8,199.4 472.8,199.1 471.9,196.5 470.7,192.6 467.1,178.4 465,171.2 464.4,169.5 463.8,168.3 463.2,167.6 462.9,167.4 462.3,167.4 461.4,167.9 460.2,169.5 459,172.1 458.1,174.7 456.9,179.7 454.5,191.7 452.1,201.1ZM474,201.6 475.5,203.3 476.1,203.8 477,204.2 479.4,204.6 483.3,204.7 483.3,205.9 479.4,205.9 478.2,205.7 477,205.3 476.1,204.8 475.5,204.2 474,201.8Z"/>
<path fill="none" stroke="#1f6fb8" stroke-width="3.0" d="M81,200.1 81.9,200 82.5,200.2 83.1,200.5 84.6,201.6 87,203.6 88.2,204.3 88.5,204.4 88.8,204.3 89.1,204.1 90.6,201.9 91.2,201.4 91.5,201.4 91.8,201.5 92.4,202 93.6,203.5 94.2,204.1 94.8,204.4 95.1,204.3 95.4,204.2 96,203.7 98.1,201.3 98.7,200.8 99,200.8 99.3,200.9 99.9,201.5 101.4,203.9 101.7,204.1 102,204.1 102.3,203.9 102.9,203.1 105,199.7 105.9,198 107.7,194.2 108.3,193.4 108.6,193.1 108.9,193.1 109.2,193.2 109.8,193.8 112.5,199.2 114,201.7 115.2,203.3 115.8,203.7 116.4,203.9 119.1,204.2 119.7,204.1 120.3,203.8 121.8,202.5 124.2,199.7 126.6,196.3 127.2,195.6 127.5,195.5 127.8,195.5 128.1,195.7 129.3,197.5 129.6,197.8 129.9,197.9 130.2,197.8 130.5,197.4 131.1,195.5 131.4,193.8 132,188.1 132.3,183.8 133.2,165 134.7,122.4 135,116.6 135.3,113.2 135.6,112.7 135.9,115.1 136.2,120.1 137.4,154.7 138,169.5 138.9,183.3 139.8,191.6 140.7,197.1 141.3,199.8 141.9,201.9 142.5,203.5 143.1,204.5 143.4,204.6 143.7,204.4 144,203.9 144.9,201.1 145.8,197.1 147.3,187.4 147.6,186.2 147.9,185.7 148.2,186 148.8,188.1 150.6,196.9 151.5,200.7 152.4,203.5 152.7,204.1 153,204.4 153.3,204.4 153.6,204 154.2,202.5 155.4,199.1 156.6,196.1 157.2,194.9 157.5,194.6 157.8,194.4 158.1,194.4 158.7,194.7 162,197.9 163.2,198.9 164.4,199.6 165.3,200 166.2,200.1 166.8,200 167.4,199.6 168,198.7 168.6,197.2 171.3,188.2 172.2,185.6 172.8,184.4 173.1,184 173.4,183.8 173.7,183.7 174,183.8 174.6,184.2 176.7,186.7 177.6,188.1 179.7,192.1 180.3,193 182.4,195.6 184.5,199.4 185.1,200.1 185.4,200.4 186,200.6 187.5,200.7 189.3,200.4 191.7,199.6 192.6,199 192.9,198.7 193.2,198.3 193.5,197.5 195,191.1 195.6,189.2 196.2,187.6 196.8,186.5 197.4,185.8 197.7,185.6 198.3,185.7 199.2,186.2 199.8,186.4 200.4,186.2 201.3,185.3 201.6,185.2 201.9,185.2 202.2,185.5 202.5,186.1 203.4,188.2 203.7,188.6 204,188.6 204.3,188.3 204.6,187.8 205.5,185.6 206.1,184.5 206.4,184.3 206.7,184.3 207,184.5 207.6,185.4 207.9,186.3 209.1,191.7 209.4,192.7 209.7,193 210,192.7 210.6,190.5 213.6,173.7 214.2,171.3 214.5,170.9 214.8,171.3 215.1,172.4 217.2,186.7 217.5,188.1 217.8,188.9 218.1,189 218.4,188.6 218.7,187.6 220.2,181.2 222.3,175.1 222.9,172.1 223.5,166.4 224.7,148.3 225,144.9 225.3,143.8 225.6,145.5 225.9,149.8 227.1,173.3 228,186.6 228.9,194.1 229.5,197.6 230.1,200.1 230.7,201.5 231,201.7 231.3,201.8 231.6,201.6 232.2,201 234.9,197.4 235.5,196.9 235.8,196.9 236.1,197.2 236.4,197.7 237.6,200.8 238.2,201.9 238.8,202.7 239.4,203.1 240.9,204 241.8,204.3 242.4,204.4 243.6,204.2 244.8,203.6 246,202.5 246.6,201.7 247.2,200.6 248.1,198.1 249.6,192.3 250.2,190.3 251.1,188.1 251.7,187 252.3,186.3 252.9,185.8 253.2,185.7 253.5,185.7 253.8,186 254.1,186.4 255.3,189.3 255.6,189.8 255.9,190.1 256.2,190.1 256.5,189.8 256.8,189.3 258.6,184.8 259.2,183.8 260.1,182.6 260.7,182.1 261,182 261.3,182 261.9,182.6 262.8,183.9 263.1,184.1 263.4,184.2 263.7,184 264,183.5 264.3,182.6 264.9,180.1 265.5,176.6 266.1,170.9 266.7,160.6 267.3,144.1 269.1,80.5 269.4,73.6 269.7,71.1 270,73.6 270.6,89.6 272.4,160.4 273,177.9 273.3,183.8 273.6,187.9 273.9,190.7 274.2,192.3 274.5,193.1 274.8,193.3 275.1,193.1 275.4,192.6 276.9,189.8 277.5,189.1 277.8,189 278.1,189 278.4,189.1 279,189.7 280.5,192.1 281.1,192.8 281.4,192.9 281.7,192.8 282,192.3 282.6,190.4 283.2,187.2 284.4,177 285,172.9 285.3,171.6 285.6,170.8 285.9,170.6 286.2,171 286.5,171.9 287.1,175.2 289.2,193.1 289.8,197.2 290.4,200.2 291,202.3 291.6,203.6 291.9,204 292.2,204.2 292.5,204.2 293.1,204 293.7,203.6 294.6,202.8 295.5,201.7 296.1,200.7 296.4,199.9 297,197.5 297.9,192.4 298.2,191.3 298.5,190.9 298.8,190.9 299.7,191.8 300,191.7 300.3,191.1 300.9,188.6 303.9,171.5 304.5,169.2 304.8,169 305.1,169.7 305.4,171.2 306.3,177 306.6,178.4 306.9,179.3 307.2,179.8 307.8,180.5 308.4,180.9 310.2,181.6 311.4,182.2 312.3,182.9 312.9,183.6 313.8,185.2 314.4,186.6 317.4,196.4 318.3,198.7 319.2,200.6 320.4,202.5 321,203.2 321.6,203.7 322.2,204.1 322.8,204.3 323.4,204.3 324,204 324.6,203.4 325.2,202.6 326.1,201.1 326.7,199.1 327,197.6 327.9,190.2 329.7,169.6 330.9,157.6 331.5,153.1 331.8,151.8 332.1,151.1 332.4,151.3 332.7,152 333,153.3 335.1,166.4 335.7,169.2 336.3,171.4 337.8,175.7 339.3,179.2 339.9,180.2 340.2,180.4 340.5,180.3 340.8,179.6 341.4,176.9 342.3,169.5 343.2,158 344.4,139.4 344.7,136.4 345,135.6 345.3,137.2 345.6,140.7 347.4,169.8 348,178.2 348.3,181.4 348.6,183.8 348.9,185.4 349.2,186.3 349.5,186.8 349.8,186.9 350.1,187 350.4,186.8 351,186 352.2,182.6 352.5,182 352.8,181.7 353.1,181.9 353.7,183.1 354.3,185.1 356.7,194.5 358.2,199.9 358.8,201.4 359.1,201.7 359.4,201.7 359.7,201.4 360.3,200 361.2,197.1 363.3,189.5 363.9,187.9 364.2,187.5 364.5,187.5 364.8,187.9 365.1,188.7 367.2,197.6 368.1,200.8 369,203.1 369.6,203.9 369.9,204.1 370.2,204 371.1,203.3 372,202.3 375.3,197.6 377.4,194.8 378.3,193.2 379.2,189.9 381,180.8 383.7,168.4 384,167.5 384.3,166.8 384.6,166.4 385.2,166 386.7,165.9 387.3,166 387.6,166.2 387.9,166.5 388.5,167.5 391.5,175.3 392.7,178.1 393.3,179.1 393.6,179.4 393.9,179.5 394.2,179.3 395.1,178.1 395.4,177.8 395.7,177.7 396,177.8 396.3,178.2 397.2,180.8 402,197.9 402.9,200.4 403.5,201.7 404.1,202.6 404.7,203.3 405.3,203.8 405.9,204.1 406.8,204.4 407.7,204.4 408.3,204.3 408.6,204.2 409.5,203.1 411,200.1 412.5,196.2 414.9,189.2 415.8,187.2 416.7,186 418.8,184.8 419.7,183.8 420.6,182.2 421.8,179.6 422.4,178.1 423.3,175.4 423.6,174.7 423.9,174.3 424.2,174.3 424.5,174.7 425.1,176.1 425.4,176.5 425.7,176.4 426,176 426.9,172.9 428.1,167.1 429,161.5 430.5,151.2 431.1,147.8 432,144.3 432.3,143.6 432.6,143.3 432.9,143.3 433.2,143.9 433.5,145.1 434.1,149.4 434.7,155.5 436.5,177.3 436.8,179.8 437.4,183.1 437.7,184 438,184.5 438.3,184.7 438.6,184.7 438.9,184.6 439.2,184.2 439.8,183.2 440.1,182.9 440.4,183 440.7,183.9 441,185.4 441.9,190.6 442.5,192.4 443.1,193.3 443.7,193.8 444,193.9 444.9,194 445.2,194.1 445.5,194.4 446.1,195.7 447.9,201.3 448.8,203.3 449.4,204.3 449.7,204.6 450,204.7 450.3,204.6 450.9,203.9 451.8,202.1 452.7,199.6 454.5,193.2 457.2,181.3 457.8,179.1 458.4,177.4 459.3,175.5 460.5,173.7 461.1,173 461.7,172.6 462.6,172.4 463.2,172.5 463.8,173.1 464.4,174.1 465,175.5 467.1,181.6 470.1,191.8 471.3,195.6 472.5,198.8 473.7,201.1 474.3,202 475.2,203 475.8,203.6 476.7,204.1 477.9,204.4 479.4,204.6 481.5,204.7 483.3,204.7"/>
<path fill="#4fc7b0" stroke="none" d="M81,201.2 82.5,201.4 84.6,202 85.8,202.5 87.9,203.8 88.5,204 89.1,203.7 90.9,201.4 91.5,201.2 91.8,201.2 92.4,201.7 94.2,203.7 94.8,204 95.1,203.9 95.7,203.6 98.1,201.1 98.7,200.7 99,200.6 99.3,200.7 99.9,201.3 101.4,203.5 101.7,203.7 102,203.7 102.3,203.5 102.9,202.8 105.3,199.1 105.3,199.4 102.9,204.1 102.3,205 102,205.2 101.7,205.2 101.4,205 99.9,202.1 99.3,201.4 99,201.3 98.7,201.3 98.1,201.8 95.7,205.1 95.1,205.6 94.8,205.6 94.5,205.5 93.9,205 92.4,202.7 91.8,202.1 91.5,202 90.9,202.3 89.4,204.8 88.8,205.5 88.5,205.6 87.6,205.2 85.5,203.6 84.6,203 82.5,202.3 81,202ZM112.5,199.2 114.3,201.8 115.5,203.2 116.4,203.6 119.1,203.8 120,203.6 120.9,203 122.7,201.3 124.5,199.2 124.5,199.6 122.1,202.9 120.9,204.4 120,205.2 119.1,205.4 116.4,205.1 115.5,204.6 114.6,203.4 112.5,199.5ZM132.6,178.2 133.2,164.2 134.7,118.4 135.3,108.3 135.6,107.7 135.9,110.3 136.2,115.9 137.7,161.8 138.3,174.6 138.3,174.9 137.7,162.7 136.2,120.1 135.9,115.1 135.6,112.7 135.3,113.2 134.7,122.4 133.2,165 132.6,178.5ZM141,198.5 141.6,200.7 142.2,202.4 142.8,203.7 143.1,204.1 143.4,204.2 143.7,204 144.3,202.8 145.5,198.6 145.5,198.8 144.3,204.1 143.7,205.6 143.4,205.9 143.1,205.8 142.5,204.6 141.9,202.6 141,198.7ZM150.9,198.2 152.1,202.4 152.7,203.7 153,204 153.3,203.9 153.9,203 155.4,199 155.4,199.3 153.9,204.4 153.3,205.6 153,205.6 152.7,205.3 152.1,203.7 150.9,198.4ZM160.2,196 162.3,197.6 164.1,198.3 165,198.4 165.6,198.3 166.5,197.9 167.1,197.5 167.7,196.7 168.3,195.5 170.4,189.1 171.6,185.9 172.5,184.4 173.1,184.1 173.7,184.4 174.3,185.3 179.1,195.6 180,197.2 180.6,197.9 182.4,199.6 184.5,202.3 185.1,202.7 186,202.8 187.8,202.2 189.9,201.1 192,199.7 192.9,198.9 193.5,197.4 195.3,188.9 196.2,185.5 197.1,182.7 197.7,181.3 198.3,180.4 199.8,179.1 201,177.7 201.3,177.4 201.6,177.4 201.9,177.7 202.2,178.3 203.4,182.9 204,184.6 204.6,185.3 205.5,185.6 205.5,185.6 204.6,187.8 204,188.6 203.7,188.6 203.4,188.2 202.5,186.1 201.9,185.2 201.6,185.2 201.3,185.4 200.4,186.2 199.8,186.4 198,185.7 197.4,185.9 197.1,186.1 196.2,187.7 195.3,190.2 193.5,197.9 192.9,199.4 192,200.3 186.3,204.9 185.4,205.5 185.1,205.6 184.5,205.4 183,204.5 182.4,204.4 181.8,204.6 180,205.5 179.4,205.5 178.8,205.2 177.9,204.4 176.4,202.6 175.5,201.2 173.7,197.7 173.1,197 172.8,196.9 172.2,197 171.6,197.6 170.1,199.8 168.3,203.1 168,203.5 167.4,203.6 166.8,203.3 165.6,202.2 160.2,196.3ZM205.5,185.6 206.1,186.3 206.4,187 207.3,190.4 207.9,193.5 209.1,201.8 209.4,203.3 209.7,204.1 210,204.1 210.6,202.5 213.3,190.4 213.9,188.4 214.2,187.8 214.5,187.8 214.8,188.4 215.1,189.8 216.6,200.3 217.2,203.6 217.5,204.6 217.8,205 218.1,204.8 218.7,202.3 220.2,192.1 222.3,180.2 222.9,175.9 223.5,169.1 224.7,149.5 225,145.9 225.3,144.6 225.6,146.2 225.9,150.4 227.7,183.8 228.6,193.5 229.5,199.9 230.4,203.6 230.7,204.2 231,204.5 231.3,204.5 231.6,204.3 232.2,203.3 234.9,197.8 234.9,197.5 231.9,201.9 231.3,202.5 231,202.4 230.7,202.1 230.4,201.4 229.5,197.7 228.6,192 227.7,182.9 227.1,173.3 225.9,149.8 225.6,145.5 225.3,143.8 225,144.9 224.7,148.3 223.5,166.4 222.9,172.1 222.3,175.1 219.9,182.4 218.7,188.2 218.1,190.1 217.8,190.3 217.5,189.9 217.2,189 215.1,178.1 214.8,177.1 214.5,176.9 214.2,177.3 213.9,178.1 210.6,191.5 210,193.2 209.7,193.4 209.4,193 207.9,186.3 207.3,184.9 206.7,184.3 206.4,184.3 206.1,184.5 205.5,185.6ZM237,199.1 237.6,200.6 238.2,201.7 239.1,202.6 240.3,203.3 241.5,203.8 242.7,204 243.9,203.7 244.8,203.2 245.7,202.4 246.3,201.7 246.9,200.7 247.5,199.2 248.4,195.7 249.9,188 250.8,184 251.7,180.9 252.6,179.1 252.9,178.8 253.2,178.7 253.5,178.9 253.8,179.3 254.4,181.1 255.6,185.8 256.2,187 256.5,187.2 256.8,187 257.1,186.7 258.3,184.7 259.2,183.5 259.2,183.8 258.3,185.4 256.8,189.3 256.2,190.1 255.9,190.1 255.6,189.8 254.1,186.4 253.5,185.7 253.2,185.7 252.6,186 251.7,187 250.8,188.7 250.2,190.3 248.1,198.2 247.2,201.1 246,203.3 245.4,204.1 244.5,205 243.6,205.4 242.4,205.6 241.2,205.3 240,204.6 238.8,203.6 238.2,202.7 237,199.4ZM271.5,129.6 272.4,162.8 273,179.2 273.6,188.6 274.2,192.6 274.5,193.2 274.8,193.2 275.4,192.1 276.9,188.1 277.5,187.2 277.8,187 278.1,187 278.4,187.2 279,188 281.1,192.6 281.4,192.9 281.7,192.9 282,192.6 282.6,190.8 283.2,187.6 284.4,177.3 284.4,177.6 282.9,190.6 282.3,193.7 281.7,195.6 281.4,196.1 281.1,196.4 280.8,196.4 280.2,196.2 278.7,195.2 277.8,195 276.9,195.4 275.7,196.6 275.1,196.9 274.8,196.8 274.5,196.3 273.9,193.2 273.6,190.3 273,180.3 272.4,163.5 271.5,129.9ZM290.1,198.8 290.7,201.2 291.3,202.7 291.9,203.6 292.5,203.8 293.1,203.7 293.7,203.3 295.2,201.9 296.1,200.5 296.7,198.8 296.7,199.1 296.1,201.2 295.2,202.9 293.7,204.7 293.1,205.2 292.5,205.4 291.9,205.1 291.3,204 290.7,202 290.1,199ZM318.6,199.3 319.8,201.4 321,202.9 321.9,203.6 323.1,203.9 324,203.6 325.2,202.3 326.1,200.9 326.7,199.1 326.7,199.4 326.1,201.6 325.2,203.5 324,205.1 323.7,205.3 323.1,205.5 322.5,205.4 321.9,205.1 321,204.2 319.8,202.2 318.6,199.6ZM357.6,198.6 358.5,201.2 359.1,202.1 359.4,202.2 360,201.6 361.2,199 361.2,199.3 360,202.6 359.7,203.1 359.4,203.4 359.1,203.3 358.8,202.8 357.6,198.8ZM366.9,198.6 368.4,202.3 369,203.3 369.6,203.9 370.2,203.8 371.1,203 372.3,201.5 373.8,199.2 373.8,199.4 371.4,203.9 370.5,205.1 369.9,205.5 369.6,205.5 369.3,205.2 368.7,204.2 366.9,198.9ZM376.5,194.7 377.7,192.6 378.6,190.1 383.1,167.2 384,163.5 384.6,162.4 385.2,162 386.7,161.9 387.3,162.1 387.9,162.6 388.8,164.5 391.8,173.3 393.3,177.1 393.6,177.6 393.9,177.8 394.2,177.7 395.1,176.9 395.1,176.6 394.5,177.1 394.2,177.2 393.9,177.1 393.6,176.8 393,175.6 391.5,170.7 388.8,160.7 387.9,158.3 387.3,157.4 386.7,157.1 385.5,157 384.9,157.2 384.3,158.1 384,159 383.4,161.5 378.6,189 377.7,191.9 376.5,194.4ZM402.3,198.7 403.2,200.9 404.4,202.6 405,203.2 405.9,203.7 407.4,204 408.3,203.9 409.2,203.2 410.1,201.8 411.3,199.3 411.3,199.6 410.1,202.7 409.2,204.6 408.9,205 408.3,205.5 407.4,205.7 406.5,205.5 405.6,205.1 404.4,203.9 403.2,201.6 402.3,199ZM419.7,184.1 420.9,182.8 422.4,181.6 423.6,180.1 423.9,180 424.2,180.2 425.1,181.8 425.4,181.9 425.7,181.5 426.3,179.2 426.9,175.9 429.3,160.6 429.3,160.2 427.5,170.3 426.6,174.2 426,176 425.7,176.4 425.4,176.5 425.1,176.1 424.5,174.7 424.2,174.3 423.9,174.3 423.3,175.4 421.8,179.6 419.7,183.8ZM437.1,181.8 437.4,182.9 437.7,183.5 438,183.7 438.3,183.6 438.9,182.6 439.8,180 440.1,179.5 440.4,179.6 440.7,180.4 441,182.1 442.2,189.8 443.1,192.5 443.4,193 444,193.7 444,193.9 443.7,193.8 443.1,193.3 442.5,192.4 442.2,191.6 441.6,189.1 440.7,183.9 440.4,183 440.1,182.9 438.9,184.6 438.6,184.8 438.3,184.8 438,184.6 437.7,184.1 437.1,182.1ZM447,198.6 447.9,201 448.8,202.8 449.4,203.7 450,204.1 450.6,203.6 451.2,202.6 452.1,200.5 452.7,198.7 452.7,199 451.2,203.9 450.6,205.2 450.3,205.6 450,205.7 449.7,205.6 449.4,205.3 448.8,204.2 447.9,201.8 447,198.8ZM472.8,198.8 473.7,200.6 474.6,201.9 475.5,202.8 476.4,203.5 477.6,203.9 479.1,204.2 481.2,204.3 483.3,204.2 483.3,205.9 481.2,206 479.1,205.9 477.6,205.5 476.4,205 475.5,204.2 474.6,202.9 473.7,201.2 472.8,199.1Z"/>
<path fill="none" stroke="#4fc7b0" stroke-width="3.0" d="M81,201.2 82.5,201.4 84.6,202 85.8,202.5 87.9,203.8 88.5,204 89.1,203.7 90.9,201.4 91.2,201.2 91.5,201.2 91.8,201.2 92.4,201.7 94.2,203.7 94.8,204 95.1,203.9 95.7,203.6 98.1,201.1 98.7,200.7 99,200.6 99.3,200.7 99.9,201.3 101.4,203.5 101.7,203.7 102,203.7 102.3,203.5 102.9,202.8 105,199.6 105.9,198 107.4,194.8 108,193.7 108.6,193.1 108.9,193.1 109.2,193.2 109.8,193.8 111.9,198.1 114,201.4 115.2,202.9 115.8,203.4 116.4,203.6 119.1,203.8 120,203.6 120.6,203.3 121.8,202.2 123.6,200.3 124.8,198.8 126.9,195.9 127.5,195.4 127.8,195.5 128.1,195.7 129.3,197.5 129.6,197.8 129.9,197.9 130.2,197.7 130.5,197.3 130.8,196.6 131.1,195.5 131.4,193.8 132,188 132.3,183.6 133.2,164.2 134.7,118.4 135,112 135.3,108.3 135.6,107.7 135.9,110.3 136.2,115.9 137.4,153.3 138,168.9 138.9,183.2 139.8,191.5 140.7,197.1 141.3,199.7 141.9,201.6 142.5,203.2 143.1,204.1 143.4,204.2 143.7,204 144,203.5 144.6,201.9 145.2,199.8 146.1,195.4 147.3,187.4 147.6,186.2 147.9,185.7 148.2,186 148.8,188.1 150.6,196.8 151.5,200.6 152.4,203.2 152.7,203.7 153,204 153.3,203.9 153.6,203.6 153.9,203 155.4,199 156.6,196.1 157.2,194.9 157.5,194.5 157.8,194.3 158.1,194.3 158.4,194.4 161.4,197 162.3,197.6 163.5,198.2 164.4,198.4 165.3,198.4 166.2,198.1 167.1,197.5 167.7,196.7 168.3,195.5 170.4,189.1 171.6,185.9 172.2,184.8 172.5,184.4 172.8,184.1 173.1,184.1 173.4,184.2 173.7,184.4 174.3,185.3 177,191 179.1,195.6 179.7,196.7 180.3,197.6 182.4,199.6 184.2,201.9 185.1,202.7 185.4,202.8 186,202.8 187.8,202.2 189.3,201.4 191.1,200.4 192.3,199.5 192.9,198.9 193.5,197.4 193.8,196.2 195,190.2 195.9,186.6 196.8,183.6 197.4,182 198.3,180.4 199.8,179.1 201,177.7 201.3,177.4 201.6,177.4 201.9,177.7 202.2,178.3 203.4,182.9 204,184.6 204.3,185.1 204.6,185.3 205.5,185.6 205.8,185.8 206.1,186.3 206.7,188 207.6,191.8 209.1,201.8 209.4,203.3 209.7,204.1 210,204.1 210.3,203.5 210.6,202.5 213.3,190.4 213.9,188.4 214.2,187.8 214.5,187.8 214.8,188.4 215.1,189.8 216.9,202.1 217.5,204.6 217.8,205 218.1,204.8 218.4,203.8 218.7,202.3 220.2,192.1 222.3,180.2 222.9,175.9 223.5,169.1 224.7,149.5 225,145.9 225.3,144.6 225.6,146.2 225.9,150.4 227.1,173.9 228,187.6 228.6,193.5 229.2,198 229.8,201.4 230.4,203.6 230.7,204.2 231,204.5 231.3,204.5 231.6,204.3 232.2,203.3 234.6,198.3 235.2,197.4 235.5,197.1 235.8,197.1 236.1,197.3 236.4,197.7 237.9,201.2 238.5,202.1 239.1,202.6 240.6,203.5 242.1,203.9 243.3,203.9 244.5,203.4 245.4,202.7 246.3,201.7 246.9,200.7 247.5,199.2 248.4,195.7 249.9,188 250.8,184 251.7,180.9 252.3,179.5 252.6,179.1 252.9,178.8 253.2,178.7 253.5,178.9 253.8,179.3 254.4,181.1 255.6,185.8 255.9,186.5 256.2,187 256.5,187.2 256.8,187 257.1,186.7 258.3,184.7 258.9,183.8 260.1,182.5 260.7,182 261,181.9 261.3,182 261.6,182.2 262.8,183.9 263.1,184.1 263.4,184.2 263.7,184 264,183.5 264.3,182.6 264.9,180.2 265.5,176.8 266.1,171.5 266.7,161.9 267.3,146.8 269.1,89.8 269.4,83.5 269.7,81.2 270,83.5 270.6,98.1 272.7,171.9 273.3,184.7 273.6,188.6 273.9,191.1 274.2,192.6 274.5,193.2 274.8,193.2 275.4,192.1 276.9,188.1 277.5,187.2 277.8,187 278.1,187 278.4,187.2 279,188 280.5,191.5 281.1,192.6 281.4,192.9 281.7,192.9 282,192.6 282.6,190.8 283.2,187.6 284.4,177.3 285,173.1 285.3,171.8 285.6,171 285.9,170.7 286.2,171.1 286.5,171.9 287.1,175.2 288.9,190.8 289.5,195.2 290.1,198.8 290.4,200.1 291,202 291.6,203.2 292.2,203.8 292.8,203.8 293.7,203.3 294.9,202.2 295.8,201.1 296.4,199.8 296.7,198.8 297.9,192.4 298.2,191.3 298.5,190.9 298.8,190.9 299.7,191.7 300,191.6 300.3,191 300.6,189.9 301.2,186.7 303.9,170 304.5,167.2 304.8,166.8 305.1,167.2 305.4,168.5 306.3,173.6 306.6,174.8 306.9,175.5 307.5,176.3 309.3,177.6 310.2,178.5 312,181 313.2,183.2 314.4,186.2 317.4,196.4 318.3,198.6 319.2,200.4 320.1,201.8 321,202.9 321.6,203.4 322.5,203.8 323.1,203.9 323.7,203.8 324.3,203.3 325.2,202.3 325.8,201.5 326.4,200.2 327,197.7 327.3,195.8 327.9,190.5 329.7,171.3 330.6,163.1 331.5,156.8 331.8,155.6 332.1,155.1 332.4,155.3 332.7,156 333,157.1 334.8,166.6 335.4,169.1 336.3,171.9 338.1,176.6 339.6,179.8 339.9,180.2 340.2,180.4 340.5,180.3 340.8,179.6 341.4,176.9 342.3,169.5 343.2,158 344.4,139.4 344.7,136.5 345,135.7 345.3,137.3 345.6,140.8 348,178.7 348.3,182.1 348.9,186.5 349.2,187.6 349.5,188.3 349.8,188.7 350.4,189.2 350.7,189.1 351,188.9 351.3,188.5 352.5,185.9 352.8,185.7 353.1,185.9 353.4,186.3 354.6,189.5 358.2,200.4 358.8,201.8 359.1,202.1 359.4,202.2 359.7,202 360.3,201.1 361.5,198.3 363.6,192.5 363.9,191.9 364.2,191.5 364.5,191.4 364.8,191.8 365.1,192.4 366.3,196.7 367.2,199.5 368.1,201.7 369,203.3 369.6,203.9 369.9,203.9 370.2,203.8 371.1,203 372.6,201 377.1,193.7 377.7,192.6 378.3,191.1 379.2,187.4 381,177.5 383.7,164.5 384,163.5 384.3,162.8 384.6,162.4 385.2,162 386.7,161.9 387.3,162.1 387.6,162.3 387.9,162.6 388.5,163.7 389.1,165.3 392.1,174.1 393.3,177.1 393.6,177.6 393.9,177.8 394.2,177.7 395.4,176.7 395.7,176.7 396,176.9 396.3,177.4 397.2,180.2 401.7,196.8 402.6,199.6 403.2,200.9 403.8,201.9 404.4,202.6 405,203.2 405.6,203.6 406.5,203.9 407.4,204 408,204 408.6,203.8 409.2,203.2 409.8,202.3 411.3,199.3 412.5,196.2 414.9,189.2 415.5,187.8 416.1,186.7 417,185.8 418.5,185.1 419.1,184.7 420.9,182.8 422.4,181.6 423.6,180.1 423.9,180 424.2,180.2 425.1,181.8 425.4,181.9 425.7,181.5 426.3,179.2 426.9,175.9 430.5,153.1 431.1,150.3 431.7,148.2 432.3,147 432.6,146.7 432.9,146.8 433.2,147.4 433.5,148.4 434.1,152.2 434.7,157.7 436.5,177.8 436.8,180.1 437.1,181.8 437.4,182.9 437.7,183.5 438,183.7 438.3,183.6 438.9,182.6 439.8,180 440.1,179.5 440.4,179.6 440.7,180.4 441,182.1 441.9,188.3 442.2,189.8 442.8,191.8 443.1,192.5 443.7,193.4 444,193.7 445.2,194.1 445.8,194.9 447.6,200.3 448.5,202.3 449.4,203.7 449.7,204 450,204.1 450.3,203.9 450.9,203.2 451.8,201.3 452.7,198.7 453.6,195.5 454.5,191.7 457.5,177 458.7,172.9 459.6,170.7 460.8,168.6 461.7,167.7 462.3,167.4 462.6,167.4 463.2,167.6 463.8,168.3 464.4,169.5 465,171.2 467.1,178.4 471,193.6 472.2,197.3 473.4,200 474,201 474.9,202.2 475.8,203.1 476.7,203.6 477.9,204 479.4,204.2 481.5,204.3 483.3,204.2"/>
<path fill="#6b3fa5" stroke="none" d="M81,201.5 82.5,201.7 84.6,202.4 85.5,202.8 87.6,204.3 88.5,204.6 88.8,204.5 89.4,203.9 90.9,201.7 91.5,201.5 91.8,201.6 92.4,202.1 94.2,204.3 94.8,204.6 95.1,204.5 95.7,204.2 98.1,201.4 98.7,200.9 99,200.9 99.3,201 99.9,201.6 101.4,204.1 101.7,204.3 102,204.3 102.3,204.1 102.9,203.3 104.7,200.3 104.7,200.6 102.9,204.1 102.3,205 102,205.2 101.7,205.2 101.4,205 99.9,202.1 99.3,201.4 99,201.3 98.7,201.3 98.1,201.8 95.7,205.1 95.1,205.6 94.8,205.6 94.5,205.5 93.9,205 92.4,202.7 91.8,202.1 91.5,202 90.9,202.3 89.4,204.8 88.8,205.5 88.5,205.6 87.6,205.2 85.5,203.6 84.6,203 82.5,202.3 81,202ZM113.1,200.3 114.9,203.1 115.8,203.9 116.4,204.1 119.1,204.4 120,204.2 120.9,203.5 123.6,200.5 123.6,200.9 120.9,204.4 120,205.2 119.1,205.4 116.4,205.1 115.5,204.6 114.6,203.4 113.1,200.6ZM141.3,199.9 142.5,203.7 143.1,204.7 143.4,204.8 143.7,204.6 144.3,203.3 145.2,200 145.2,200.3 144.3,204.1 143.7,205.6 143.4,205.9 143.1,205.8 142.5,204.6 141.3,200.1ZM151.2,199.6 152.4,203.7 152.7,204.2 153,204.5 153.3,204.4 153.9,203.3 155.4,198.5 157.2,193.4 157.8,192.4 158.4,192.1 159,192.3 159.9,192.7 161.4,194.1 162.6,195.7 165.6,200.6 167.1,202.3 167.7,202.6 168.3,202.3 169.8,200 169.8,200.3 168.3,203.1 167.7,203.6 167.1,203.5 165.3,201.9 159,195.1 158.4,194.6 157.8,194.4 157.2,195 156.6,196.2 155.4,199.3 153.9,204.4 153.3,205.6 153,205.6 152.7,205.3 152.1,203.7 151.2,199.8ZM175.2,200.3 176.1,201.7 177.6,203.3 178.8,204.2 179.7,204.5 180.3,204.4 181.8,203.7 182.4,203.5 183,203.6 184.5,204.4 185.4,204.5 186.3,204 191.4,200.4 191.4,200.8 186.3,204.9 185.4,205.5 185.1,205.6 184.5,205.4 183,204.5 182.4,204.4 181.8,204.6 180.3,205.4 179.7,205.6 178.8,205.2 177.6,204.1 176.1,202.2 175.2,200.6ZM196.5,186.8 197.4,185.1 198.6,183.5 199.2,182.5 200.1,180 201.3,175.4 201.9,174.1 202.2,174.1 202.5,174.6 202.8,175.4 203.7,178.7 204.3,180.1 204.9,180.7 205.8,181.2 206.1,181.5 207,183.1 207.9,185.7 208.5,188.7 208.5,188.9 207.6,185.4 207.3,184.9 206.7,184.3 206.4,184.3 206.1,184.5 205.8,185 204.6,187.8 204,188.6 203.7,188.6 203.4,188.2 202.5,186.1 201.9,185.2 201.6,185.2 201.3,185.4 200.4,186.2 199.8,186.4 199.2,186.3 198.3,185.8 197.7,185.7 197.1,186.1 196.5,187.1ZM210.3,192.8 213.3,182.8 213.9,181.3 214.2,180.8 214.5,180.9 214.8,181.7 215.1,183.1 216.6,193.4 217.2,196.7 217.5,197.8 217.8,198.3 218.1,198.1 218.4,197.3 220.2,187.4 222.3,177.9 222.9,174.2 223.5,167.9 225,145.4 225.3,144.2 225.6,145.8 225.6,145.5 225.3,143.8 225,144.9 223.5,166.4 222.9,172.1 222.3,175.1 219.9,182.4 218.4,189.4 218.1,190.1 217.8,190.3 217.5,189.9 217.2,189 215.1,178.1 214.8,177.1 214.5,176.9 214.2,177.3 213.6,179.2 210.3,192.5ZM230.1,200.2 230.7,201.6 231,201.9 231.3,201.9 231.9,201.4 232.8,200.2 232.8,200.6 231.9,201.9 231.3,202.5 231,202.4 230.7,202.1 230.1,200.5ZM237.3,200 238.2,202.1 239.1,203.1 240.9,204.2 241.8,204.5 242.7,204.6 243.6,204.4 244.2,204.2 245.4,203.3 246.6,201.8 247.5,200 247.5,200.3 246.6,202.4 245.4,204.1 244.2,205.2 243.6,205.4 242.7,205.6 241.8,205.5 240.9,205.2 239.1,203.9 238.2,202.7 237.3,200.3ZM252.6,186.3 253.2,186.2 253.8,186.9 254.4,188.6 255.9,193.8 256.2,194.4 256.5,194.6 256.8,194.7 257.1,194.5 258,193.5 259.2,191.8 261.3,187.2 261.9,186.6 263.1,186.2 263.7,185.4 264.3,183.5 265.2,178.8 265.2,178.6 264.3,182.6 263.7,184 263.4,184.2 263.1,184.1 261.9,182.6 261.3,182 261,182 260.4,182.3 259.5,183.3 258.6,184.8 256.8,189.3 256.2,190.1 255.9,190.1 255.6,189.8 253.8,186 253.5,185.7 253.2,185.7 252.6,186ZM265.8,174.2 266.4,166.3 267,152.4 269.1,77.3 269.4,70.3 269.7,67.7 270,70.4 270.6,87 272.7,170.9 273.3,185.3 273.9,192.9 273.9,193.2 273.3,186.1 272.7,172.7 270.6,98.2 270,83.6 269.7,81.2 269.4,83.5 269.1,89.8 267,155 266.4,167.4 265.8,174.5ZM290.4,200.3 291.3,203.2 291.9,204.1 292.5,204.4 293.4,204 294.6,202.9 295.5,201.7 296.1,200.5 296.7,198.4 297.9,191.2 298.2,190 298.5,189.4 298.8,189.2 299.7,189.8 300,189.6 300.6,188 303.9,169.7 303.9,170 300.6,189.9 300.3,191 300,191.6 299.7,191.8 298.8,190.9 298.5,190.9 298.2,191.3 297.6,193.9 296.7,199.1 296.4,200.3 295.8,201.8 294.9,203.4 294,204.5 293.1,205.2 292.5,205.4 291.9,205.1 291.3,204 290.4,200.6ZM318.9,200 320.1,202.2 321,203.4 321.9,204.1 322.5,204.4 323.1,204.5 324,204.2 324.9,203.2 325.8,201.8 326.4,200.3 326.4,200.7 325.8,202.4 324.9,204 324,205.1 323.7,205.3 323.1,205.5 322.5,205.4 321.9,205.1 321,204.2 320.1,202.8 318.9,200.3ZM332.1,155.4 332.4,155.6 333,157.6 335.1,169.7 336.3,174.6 337.8,179.5 338.7,181.9 339.6,183.7 339.9,184 340.2,184.1 340.5,183.8 340.8,183 341.1,181.6 341.7,177.5 342.3,171.7 342.9,164 344.4,140.2 344.7,137.1 345,136.2 345.3,137.7 345.9,145.6 345.9,145.4 345.3,137.3 345,135.7 344.7,136.5 344.4,139.4 343.2,158 342.3,169.5 341.4,176.9 340.8,179.6 340.5,180.3 340.2,180.4 339.9,180.2 339,178.6 337.8,175.8 336,171 334.8,166.6 333,157.1 332.4,155.3 332.1,155.1ZM357.9,199.7 358.8,202.2 359.1,202.6 359.4,202.7 360,202 360.9,199.9 360.9,200.2 360,202.6 359.7,203.1 359.4,203.4 359.1,203.3 358.8,202.8 357.9,199.9ZM367.5,200.5 368.4,202.8 369,203.9 369.6,204.5 369.9,204.5 370.5,204.1 371.1,203.5 373.2,200.3 373.2,200.6 371.1,204.3 370.5,205.1 369.9,205.5 369.6,205.5 369.3,205.2 369,204.8 368.4,203.5 367.5,200.8ZM376.2,195.3 377.7,192.7 378.6,190.3 379.2,187.7 381,178 383.4,166.8 384,164.8 384.3,164.1 384.6,163.8 384.9,163.7 385.5,163.8 386.7,164.5 387.3,165.1 387.9,166.2 388.8,169.1 391.5,180.1 393,184.7 393.6,185.6 393.9,185.6 394.5,184.9 395.7,182.7 396,182.5 396.3,182.6 396.6,182.9 397.5,184.8 399,188.8 401.7,197.2 401.7,196.9 397.2,180.1 396.3,177.3 396,176.7 395.7,176.5 395.4,176.5 394.2,177.2 393.9,177.1 393.3,176.3 391.8,171.7 388.5,159.8 387.6,157.8 387,157.2 386.4,157 385.5,157 384.9,157.2 384.3,158.1 384,159 382.8,164.8 379.2,186 378.6,189 377.7,191.9 376.2,194.9ZM403.2,201.3 404.1,202.8 405.3,204 406.5,204.5 408,204.6 408.6,204.4 409.2,203.7 410.1,202.1 411,200.1 411,200.4 410.1,202.7 409.2,204.6 408.6,205.3 408,205.6 406.5,205.5 405.3,204.9 404.1,203.4 403.2,201.6ZM438.6,185.1 439.2,184.7 439.8,183.9 440.1,183.8 440.4,184.1 441,186.8 441.9,192.7 442.5,194.9 443.1,196.1 443.7,196.8 444.3,196.9 445.2,196.8 445.8,197.3 448.2,203 448.2,202.6 445.8,195 445.2,194.1 444.9,194 444,193.9 443.4,193.6 442.8,192.9 442.2,191.6 441.6,189.1 440.7,183.9 440.4,183 440.1,182.9 439.8,183.2 439.2,184.2 438.6,184.8ZM451.2,204.1 452.4,201.4 453.6,197.9 454.8,193.9 456.9,185.8 458.1,182.5 459,180.9 460.2,179.6 461.4,178.7 462.6,178.4 463.2,178.4 463.8,178.8 464.4,179.6 465.3,181.3 467.7,186.9 471.6,197.5 472.8,200.1 474,202 474,201.8 472.5,198.3 471,193.6 467.1,178.4 465,171.2 464.4,169.5 463.8,168.3 463.2,167.6 462.9,167.4 462.3,167.4 461.4,167.9 460.2,169.5 459,172.1 458.1,174.7 456.9,179.7 454.2,193 452.4,200.1 451.2,203.9ZM474.9,203.1 476.1,204.1 477.9,204.7 480,204.9 483.3,204.9 483.3,205.9 479.7,205.9 477.6,205.5 476.7,205.2 476.1,204.8 474.9,203.4Z"/>
<path fill="none" stroke="#6b3fa5" stroke-width="3.0" d="M81,201.5 82.5,201.7 84.6,202.4 85.5,202.8 87.6,204.3 88.2,204.5 88.5,204.6 88.8,204.5 89.4,203.9 90.3,202.5 90.9,201.7 91.2,201.5 91.5,201.5 91.8,201.6 92.4,202.1 93.6,203.7 94.2,204.3 94.8,204.6 95.1,204.5 95.7,204.2 98.1,201.4 98.7,200.9 99,200.9 99.3,201 99.9,201.6 101.4,204.1 101.7,204.3 102,204.3 102.3,204.1 102.9,203.3 105,199.8 105.9,198 107.7,194.2 108.3,193.4 108.6,193.1 108.9,193.1 109.2,193.2 109.8,193.8 112.2,198.7 114.3,202.2 114.9,203.1 115.5,203.7 115.8,203.9 116.4,204.1 119.1,204.4 120,204.2 120.6,203.8 121.8,202.6 123.3,200.9 124.5,199.3 126.9,195.9 127.5,195.5 127.8,195.5 128.1,195.7 129.3,197.5 129.6,197.8 129.9,197.9 130.2,197.8 130.5,197.4 131.1,195.5 131.4,193.8 132,188.1 132.3,183.8 133.2,165 134.7,122.4 135,116.6 135.3,113.2 135.6,112.7 135.9,115.1 136.2,120.1 137.4,154.7 138,169.5 138.9,183.3 139.8,191.6 140.7,197.1 141.3,199.9 141.9,202 142.5,203.7 143.1,204.7 143.4,204.8 143.7,204.6 144,204 144.9,201.2 145.8,197.1 147.3,187.4 147.6,186.2 147.9,185.7 148.2,186 148.8,188.1 150.6,196.9 151.5,200.8 152.4,203.7 152.7,204.2 153,204.5 153.3,204.4 153.6,204 153.9,203.3 155.4,198.5 157.2,193.4 157.8,192.4 158.1,192.2 158.4,192.1 159,192.3 159.9,192.7 160.5,193.2 161.4,194.1 162.6,195.7 165.6,200.6 166.5,201.7 167.4,202.5 167.7,202.6 168,202.5 168.3,202.3 168.9,201.5 170.4,199.1 171.6,197.5 172.2,197 172.5,196.8 172.8,196.8 173.1,197 173.7,197.6 175.5,200.8 176.1,201.7 177.6,203.3 178.8,204.2 179.4,204.5 180,204.5 180.6,204.3 181.8,203.7 182.4,203.5 183,203.6 184.8,204.5 185.1,204.5 185.7,204.4 192.3,199.8 192.9,199.2 193.2,198.7 193.8,196.7 195,191.3 195.9,188.4 197.1,185.6 197.7,184.6 198.9,183.1 199.5,181.9 200.1,180 201.3,175.4 201.6,174.6 201.9,174.1 202.2,174.1 202.5,174.6 203.7,178.7 204.3,180.1 204.9,180.7 205.8,181.2 206.1,181.5 206.7,182.5 207.3,183.8 207.9,185.7 209.1,191.9 209.4,193 209.7,193.5 210,193.4 210.3,192.8 212.4,185.6 213.6,181.9 213.9,181.3 214.2,180.8 214.5,180.9 214.8,181.7 215.1,183.1 216.6,193.4 217.2,196.7 217.5,197.8 217.8,198.3 218.1,198.1 218.4,197.3 218.7,196 219.9,188.9 222.3,177.9 222.9,174.2 223.5,167.9 224.7,149 225,145.4 225.3,144.2 225.6,145.8 225.9,150 227.1,173.4 228,186.6 228.9,194.2 229.5,197.6 230.1,200.2 230.7,201.6 231,201.9 231.3,201.9 231.6,201.7 232.2,201.1 234.9,197.4 235.5,196.9 235.8,197 236.1,197.2 236.4,197.7 237.6,200.8 238.2,202.1 238.8,202.8 239.4,203.3 240.9,204.2 241.8,204.5 242.4,204.6 243.6,204.4 244.8,203.8 246,202.6 246.6,201.8 247.2,200.7 248.1,198.1 249.6,192.3 250.2,190.3 251.1,188.1 252,186.8 252.6,186.3 252.9,186.2 253.2,186.2 253.5,186.4 253.8,186.9 254.4,188.6 255.3,192 255.9,193.8 256.2,194.4 256.5,194.6 256.8,194.7 257.1,194.5 257.7,193.9 259.2,191.8 261.3,187.2 261.9,186.6 262.8,186.4 263.1,186.2 263.4,185.9 264,184.5 264.9,180.6 265.5,176.8 266.1,170.9 266.7,160.2 267.3,143.1 269.1,77.3 269.4,70.3 269.7,67.7 270,70.4 270.6,87 272.4,160.8 273,179.1 273.3,185.3 273.9,192.9 274.2,195 274.5,196.1 274.8,196.7 275.1,196.9 275.4,196.8 276.9,195.4 277.5,195 277.8,195 278.1,195 278.7,195.2 280.2,196.2 280.8,196.4 281.1,196.3 281.4,196.1 281.7,195.6 282.3,193.7 282.9,190.6 283.5,186 284.4,177.6 285,173.3 285.3,171.9 285.6,171.1 285.9,170.8 286.2,171.1 286.5,172 287.1,175.2 289.2,193.1 290.1,198.9 290.7,201.5 291.3,203.2 291.6,203.7 291.9,204.1 292.2,204.4 292.5,204.4 293.1,204.2 294.3,203.3 295.5,201.7 296.1,200.5 296.4,199.6 297,196.8 297.9,191.2 298.2,190 298.5,189.4 298.8,189.2 299.7,189.8 300,189.6 300.3,189 300.6,188 301.2,185 303.9,169.7 304.5,167 304.8,166.7 305.1,167.1 305.4,168.4 306.3,173.6 306.6,174.8 306.9,175.5 307.5,176.3 309.3,177.6 310.2,178.5 312,181 313.2,183.2 314.4,186.2 317.4,196.4 318.3,198.7 319.2,200.6 320.4,202.6 321,203.4 321.6,203.9 322.2,204.3 322.8,204.5 323.4,204.5 324,204.2 324.6,203.6 325.2,202.8 326.1,201.2 326.7,199.2 327,197.7 327.9,190.5 329.4,174.3 330.6,163.2 331.5,157 331.8,155.9 332.1,155.4 332.4,155.6 333,157.6 335.1,169.7 336,173.5 337.5,178.6 338.7,181.9 339.6,183.7 339.9,184 340.2,184.1 340.5,183.8 340.8,183 341.4,179.8 342.3,171.7 342.9,164 344.4,140.2 344.7,137.1 345,136.2 345.3,137.7 345.6,141.1 348,178.7 348.3,182.1 348.9,186.5 349.2,187.6 349.5,188.3 349.8,188.7 350.4,189.2 350.7,189.1 351,188.9 351.3,188.5 352.5,185.9 352.8,185.7 353.1,185.9 353.4,186.3 354.6,189.5 358.5,201.5 358.8,202.2 359.1,202.6 359.4,202.7 359.7,202.4 360.3,201.4 361.2,199.1 363.6,192.5 363.9,191.9 364.2,191.5 364.5,191.4 364.8,191.8 365.1,192.4 366.6,197.8 367.5,200.5 368.4,202.8 369,203.9 369.3,204.3 369.6,204.5 369.9,204.5 370.2,204.4 371.1,203.5 372,202.2 377.4,193.3 378.3,191.3 379.2,187.7 381,178 383.4,166.8 384,164.8 384.3,164.1 384.6,163.8 384.9,163.7 385.5,163.8 386.7,164.5 387.3,165.1 387.9,166.2 388.8,169.1 390.9,177.8 391.8,181.2 392.7,184 393.3,185.3 393.6,185.6 393.9,185.6 394.2,185.4 395.7,182.7 396,182.5 396.3,182.6 396.6,182.9 397.5,184.8 398.7,188 399.9,191.5 402.3,199.1 402.9,200.6 403.5,201.8 404.1,202.8 404.7,203.4 405.3,204 405.9,204.3 406.8,204.6 407.7,204.6 408.3,204.5 408.6,204.4 408.9,204.1 409.5,203.2 411,200.1 412.5,196.2 414.9,189.2 415.8,187.2 416.7,186 418.8,184.8 419.7,183.8 420.6,182.2 421.8,179.6 422.4,178.1 423.3,175.4 423.6,174.7 423.9,174.3 424.2,174.3 424.5,174.7 425.1,176.1 425.4,176.5 425.7,176.4 426,176 426.9,173 427.8,168.8 430.8,151.5 431.7,148.2 432.3,147 432.6,146.7 432.9,146.8 433.2,147.4 433.5,148.4 434.1,152.2 434.7,157.8 436.5,178 436.8,180.3 437.4,183.4 437.7,184.3 438,184.8 438.3,185 438.6,185.1 438.9,185 439.8,183.9 440.1,183.8 440.4,184.1 440.7,185.1 441,186.8 441.9,192.7 442.5,194.9 443.1,196.1 443.7,196.8 444.3,196.9 445.2,196.8 445.5,197 445.8,197.3 446.4,198.6 447.9,202.4 448.8,204.1 449.4,205 449.7,205.3 450,205.4 450.3,205.3 450.6,205 451.5,203.5 452.4,201.4 453.3,198.8 454.5,195 457.2,184.8 458.1,182.5 459,180.9 460.2,179.6 461.4,178.7 462,178.5 462.6,178.4 463.2,178.4 463.8,178.8 464.4,179.6 465.3,181.3 466.5,183.9 467.7,186.9 471.6,197.5 472.8,200.1 473.4,201.2 474.3,202.4 475.2,203.4 475.8,203.9 477,204.5 479.4,204.9 481.5,204.9 483.3,204.9"/>
<path fill="#ea6fd8" stroke="none" d="M81,200.3 83.4,198.8 84.3,198.6 84.9,198.9 85.5,199.4 87.6,202.4 88.5,203.2 89.1,203.1 90.6,201.4 91.2,201 91.5,201 92.4,201.5 93.9,203 94.5,203.3 94.8,203.2 95.4,202.8 96,202 98.1,198.2 98.7,197.6 99,197.5 99.3,197.6 99.9,198.3 101.4,201.6 101.7,202.1 102,202.3 102.3,202.3 103.2,201.7 104.4,200.3 105.6,198.4 106.5,196.4 106.5,196.8 103.2,203.5 102.6,204.6 102,205.2 101.7,205.2 101.4,205 99.9,202.1 99.3,201.4 99,201.3 98.7,201.3 98.1,201.8 95.7,205.1 95.1,205.6 94.8,205.6 94.5,205.5 93.9,205 92.4,202.7 91.8,202.1 91.5,202 90.9,202.3 89.4,204.8 88.8,205.5 88.5,205.6 87.6,205.2 85.5,203.6 84.6,203 82.5,202.3 81,202ZM106.5,196.4 108,193.2 108.6,192.4 109.2,192.2 109.5,192.4 110.1,193 111.3,194.9 112.2,196 114.9,198.4 115.8,199 117.6,199.6 119.7,200.7 120.3,200.8 121.2,200.7 123,199.9 124.5,198.7 126,196.9 126,197.3 123.9,200.4 121.2,204.1 120,205.2 119.1,205.4 116.4,205.1 115.8,204.8 115.2,204.3 114.3,202.9 112.2,198.9 110.1,194.4 109.5,193.4 109.2,193.2 108.9,193.1 108.6,193.1 108,193.7 106.5,196.8ZM138,169.2 138.6,179 139.2,185.8 140.1,192.3 140.7,195.4 141.3,197.7 142.8,201.5 143.4,202.2 143.7,202.2 144.3,201.4 144.9,200.1 145.5,198.1 146.1,195.1 146.1,195.4 144.9,201.7 144,205 143.7,205.6 143.4,205.9 143.1,205.8 142.8,205.3 142.2,203.7 141.3,200.1 140.7,197.2 139.5,189.2 138.6,179.5 138,169.5ZM150.9,198.1 151.5,200.4 152.1,202.1 152.7,203.3 153,203.6 153.3,203.5 153.6,203.2 154.2,201.9 156.9,194.8 157.8,193.2 158.4,192.9 162.3,192.5 163.5,192.8 165.9,194.1 166.8,194.2 167.4,194 168,193.4 168.3,192.9 170.4,187.7 171.6,185.2 172.2,184.4 172.8,184.2 173.4,184.6 174,185.6 175.8,189.9 177.6,193.3 178.8,195.2 179.7,196.2 180.3,196.4 181.8,196.5 182.7,196.8 184.8,198.5 185.4,198.8 189.3,199 191.1,198.8 192,198.6 192.6,198.2 193.2,197.3 193.5,196.5 195.6,186.6 196.8,182 197.7,179.5 198.6,177.9 201,175.1 201.3,174.9 201.6,174.9 201.9,175.2 202.2,175.8 203.4,180.6 204,182.4 204.6,183.1 205.5,183.5 206.1,184.2 206.1,184.5 205.5,185.6 204.6,187.8 204,188.6 203.7,188.6 203.4,188.2 202.5,186.1 201.9,185.2 201.6,185.2 201.3,185.4 200.4,186.2 199.8,186.4 198,185.7 197.4,185.9 197.1,186.1 196.2,187.7 195.3,190.2 193.5,197.9 192.9,199.4 192,200.3 186.3,204.9 185.4,205.5 185.1,205.6 184.5,205.4 183,204.5 182.4,204.4 181.8,204.6 180,205.5 179.4,205.5 178.8,205.2 177.9,204.4 176.4,202.6 175.5,201.2 173.7,197.7 173.1,197 172.8,196.9 172.2,197 171.6,197.6 170.1,199.8 168.3,203.1 168,203.5 167.4,203.6 166.8,203.3 165.6,202.2 159,195.1 158.4,194.6 157.8,194.4 157.2,195 156.6,196.2 155.4,199.3 153.9,204.4 153.3,205.6 153,205.6 152.7,205.3 152.1,203.7 150.9,198.4ZM206.1,184.2 206.7,185.8 207.6,189.4 209.1,199.2 209.4,200.6 209.7,201.3 210,201.3 210.6,199.7 213.6,186.4 214.2,184.8 214.5,184.7 214.8,185.4 215.1,186.8 216.6,197.3 217.2,200.7 217.5,201.8 217.8,202.3 218.1,202.2 218.7,199.9 220.2,190.4 222.3,179.4 222.9,175.3 223.5,168.7 225,145.7 225.3,144.4 225.6,146 226.2,155.7 226.2,155.4 225.6,145.5 225.3,143.8 225,144.9 223.5,166.4 222.9,172.1 222.3,175.1 219.9,182.4 218.7,188.2 218.1,190.1 217.8,190.3 217.5,189.9 217.2,189 215.1,178.1 214.8,177.1 214.5,176.9 214.2,177.3 213.9,178.1 210.6,191.5 210,193.2 209.7,193.4 209.4,193 208.2,187.5 207.6,185.4 207.3,184.9 206.7,184.3 206.4,184.3 206.1,184.5ZM229.2,195.8 230.1,199.5 230.4,200.1 230.7,200.4 231,200.5 231.3,200.3 231.9,199.5 234.9,193.5 235.5,192.9 235.8,192.9 236.4,193.9 237.9,198.5 238.8,200.4 239.7,201.7 240.6,202.6 241.5,203.2 242.4,203.5 243.3,203.5 244.2,203.2 245.1,202.7 246,201.9 247.2,200.3 248.1,198 248.1,198.2 247.5,200.3 246.9,201.8 245.7,203.8 245.1,204.4 244.2,205.2 243.3,205.5 242.4,205.6 241.5,205.4 240.3,204.8 239.1,203.9 238.5,203.2 237.9,202 236.4,197.8 235.8,197 235.5,197 234.9,197.5 231.9,201.9 231.3,202.5 231,202.4 230.7,202.1 230.1,200.5 229.2,196ZM255.3,189 255.6,189.4 255.9,189.5 256.2,189.3 256.5,188.7 257.1,186.8 259.2,178.3 260.1,175.7 260.7,174.6 261,174.5 261.3,174.6 261.6,175 263.1,179.2 263.7,180.2 264,180.3 264.3,180 264.6,179.3 265.2,177.2 265.8,173.6 266.4,166.9 266.7,161.6 266.7,161.9 266.4,167.4 265.8,174.5 264.9,180.2 264,183.5 263.7,184 263.4,184.2 263.1,184.1 261.6,182.2 261.3,182 260.7,182.1 259.8,183 258.6,184.8 256.5,189.8 256.2,190.1 255.9,190.1 255.3,189.3ZM290.1,198.7 291,201.7 291.6,202.8 292.2,203.3 292.8,203.2 293.4,202.8 294.3,201.7 294.9,200.6 295.8,198.5 296.4,196.5 297.9,187.5 298.2,186.4 298.5,185.9 298.8,185.9 299.7,187.4 300,187.6 300.3,187.4 300.6,186.7 301.8,181.4 303.6,171.4 303.6,171.8 300.6,189.9 300.3,191 300,191.6 299.7,191.8 298.8,190.9 298.5,190.9 298.2,191.3 297.6,193.9 296.7,199.1 296.4,200.3 295.8,201.8 294.9,203.4 293.7,204.7 292.8,205.4 292.2,205.4 291.6,204.7 291,203.1 290.1,199ZM318.3,198.6 319.5,200.7 320.7,202.2 321.9,203.2 323.1,203.5 323.7,203.4 324.3,203 325.8,201.3 326.4,200 327,197.6 327,197.8 326.4,200.7 325.5,203 324.3,204.8 323.7,205.3 323.1,205.5 322.5,205.4 321.9,205.1 321.3,204.6 320.7,203.8 319.5,201.6 318.3,198.9ZM332.7,156.3 333.3,158.9 335.1,169.2 336.3,173.9 337.8,178.6 339,181.6 339.9,183.1 340.2,183.2 340.5,182.9 340.8,182.1 341.4,179.1 342.3,171.1 342.9,163.6 344.4,140.1 344.7,137.1 345,136.2 345.3,137.8 345.6,141.3 348,180.2 348.6,186.8 349.2,190.4 349.8,192.4 350.7,194.3 351,194.6 351.3,194.6 352.5,193.5 352.8,193.5 353.1,193.8 355.5,198.6 358.2,202.6 358.8,203.2 359.1,203.3 359.1,203.3 358.5,202 355.5,192.2 353.4,186.3 353.1,185.9 352.8,185.7 352.5,185.9 351.3,188.5 351,188.9 350.7,189.1 350.4,189.2 349.8,188.7 349.5,188.3 348.9,186.5 348.3,182.1 348,178.7 345.6,140.8 345.3,137.3 345,135.7 344.7,136.5 344.4,139.4 343.2,158 342.3,169.5 341.4,176.9 340.8,179.6 340.5,180.3 340.2,180.4 339.9,180.2 339,178.6 337.5,175.1 335.7,170.1 334.8,166.6 333.3,158.4 332.7,156ZM360.9,200.4 363.3,195.4 363.9,194.5 364.2,194.3 364.5,194.3 364.8,194.7 366.6,199.8 367.8,201.7 367.8,201.8 365.1,192.4 364.8,191.8 364.5,191.4 364.2,191.5 363.6,192.5 360.9,200.2ZM367.8,201.7 369,202.9 369.6,202.9 370.2,202.4 371.1,200.9 372.9,196.4 375.6,188.1 378,181.3 378.6,178.9 379.2,175.5 382.5,152.9 383.7,145.4 384,144.1 384.6,142.3 384.9,141.8 385.5,141.5 386.4,141.6 387,142.1 387.6,143.2 388.2,145 389.1,149 392.1,164.9 393.3,170.3 393.6,171.3 394.2,172.5 394.5,172.8 395.4,173.2 395.7,173.5 396.3,174.9 401.1,194.4 401.1,194.7 397.2,180.1 396.3,177.3 396,176.7 395.7,176.5 395.4,176.5 394.2,177.2 393.9,177.1 393.3,176.3 391.8,171.7 389.1,161.8 388.2,159 387.6,157.8 387,157.2 386.4,157 385.5,157 384.9,157.2 384.6,157.6 384,159 383.7,160.1 381.3,173.3 378.9,187.6 378.3,190.2 377.7,191.9 372,202.9 370.5,205.1 369.9,205.5 369.6,205.5 369.3,205.2 368.7,204.2 367.8,201.8ZM401.7,196.6 402.6,199.3 403.5,201.1 404.1,201.9 405,202.8 405.6,203.2 406.5,203.5 408,203.6 408.9,203.1 409.5,202.4 410.4,201 411.6,198.5 411.6,198.8 410.1,202.7 408.9,205 408.6,205.3 408,205.6 406.8,205.6 405.9,205.3 405.3,204.9 404.1,203.4 402.9,200.8 401.7,196.9ZM433.5,148.7 434.1,152.8 434.7,158.8 436.5,181 436.8,183.6 437.4,187.2 437.7,188.2 438,188.7 438.3,188.9 438.6,188.8 439.2,187.9 440.1,185.8 440.4,185.8 440.7,186.4 441,187.8 441.9,192.9 442.5,194.8 443.1,195.9 443.7,196.6 444.3,196.8 445.2,196.8 445.8,197.3 447.6,201 447.6,200.8 446.1,195.7 445.5,194.4 444.9,194 444,193.9 443.4,193.6 442.8,192.9 442.2,191.6 441.6,189.1 440.7,183.9 440.4,183 440.1,182.9 439.8,183.2 439.2,184.2 438.6,184.8 438.3,184.8 438,184.6 437.4,183.3 436.8,180.3 436.5,177.9 434.4,154.8 433.5,148.4ZM447.9,201.4 449.1,202.6 449.7,202.8 450,202.7 450.3,202.3 450.9,201.3 451.8,198.9 453,194.5 454.2,188.8 457.2,170.8 458.4,165 459.3,161.8 460.5,158.5 461.1,157.4 461.7,156.6 462.3,156.2 462.6,156.2 463.2,156.4 463.8,157.1 464.4,158.5 465,160.4 466.8,167.4 471.3,187.4 472.5,191.6 473.7,194.7 475.2,197.3 476.1,198.3 476.7,198.8 478.2,199.6 483.3,201.6 483.3,205.9 479.4,205.9 478.2,205.7 477,205.3 476.1,204.8 475.5,204.2 474.3,202.4 472.8,199.1 471.3,194.6 470.1,190.3 466.8,177.3 465,171.2 464.4,169.5 463.8,168.3 463.2,167.6 462.6,167.4 461.7,167.7 461.1,168.2 460.5,169 459.3,171.3 458.4,173.8 457.2,178.3 455.1,188.9 453.9,194.3 452.1,201.1 450.9,204.6 450.3,205.6 450,205.7 449.7,205.6 449.4,205.3 448.8,204.2 447.9,201.8Z"/>
<path fill="none" stroke="#ea6fd8" stroke-width="3.0" d="M81,200.3 83.4,198.8 84,198.6 84.3,198.6 84.9,198.9 85.5,199.4 87.6,202.4 88.2,203 88.5,203.2 88.8,203.2 89.1,203.1 90.6,201.4 91.2,201 91.5,201 91.8,201 92.4,201.5 93.9,203 94.5,203.3 94.8,203.2 95.4,202.8 96,202 98.1,198.2 98.7,197.6 99,197.5 99.3,197.6 99.9,198.3 101.4,201.6 101.7,202.1 102,202.3 102.3,202.3 102.6,202.2 103.2,201.7 104.7,199.8 105.9,197.8 108,193.2 108.6,192.4 108.9,192.2 109.2,192.2 109.8,192.6 111.9,195.7 113.1,196.9 114.9,198.4 115.8,199 117.6,199.6 119.1,200.4 120,200.8 120.6,200.8 121.5,200.6 122.7,200.1 123.6,199.5 124.8,198.4 126.9,195.8 127.5,195.4 127.8,195.4 128.1,195.6 129.3,197.4 129.6,197.7 129.9,197.8 130.2,197.7 130.5,197.3 130.8,196.6 131.1,195.4 131.4,193.8 132,188.1 132.3,183.8 133.2,165 134.7,122.4 135,116.6 135.3,113.2 135.6,112.6 135.9,115 136.2,120.1 137.4,154.6 138,169.2 138.9,182.7 139.8,190.5 140.7,195.4 141.6,198.6 142.5,200.9 143.1,202 143.4,202.2 143.7,202.2 144,201.9 144.6,200.8 145.2,199.2 146.1,195.1 147.3,187.3 147.6,186.1 147.9,185.7 148.2,186 148.8,188.1 150.6,196.8 151.5,200.4 152.4,202.8 152.7,203.3 153,203.6 153.3,203.5 153.6,203.2 153.9,202.6 156.9,194.8 157.5,193.6 157.8,193.2 158.4,192.9 161.4,192.6 162.3,192.5 163.5,192.8 165.9,194.1 166.8,194.2 167.4,194 168,193.4 168.6,192.3 170.1,188.5 171.3,185.8 171.9,184.8 172.5,184.2 172.8,184.2 173.1,184.3 173.7,185.1 175.8,189.9 177,192.2 178.5,194.8 179.1,195.6 179.7,196.2 180.3,196.4 181.8,196.5 182.7,196.8 183.3,197.2 184.8,198.5 185.4,198.8 189.6,199 190.8,198.9 192,198.6 192.6,198.2 192.9,197.9 193.2,197.3 193.5,196.5 195.6,186.6 196.5,183.1 197.4,180.2 198,178.9 198.6,177.9 199.8,176.6 201,175.1 201.3,174.9 201.6,174.9 201.9,175.2 202.2,175.8 203.4,180.6 204,182.4 204.3,182.9 204.6,183.1 205.5,183.5 205.8,183.7 206.1,184.2 206.7,185.8 207.6,189.4 209.1,199.2 209.4,200.6 209.7,201.3 210,201.3 210.3,200.7 210.6,199.7 212.7,190.1 213.6,186.4 213.9,185.4 214.2,184.8 214.5,184.7 214.8,185.4 215.1,186.8 216.6,197.3 217.2,200.7 217.5,201.8 217.8,202.3 218.1,202.2 218.4,201.3 218.7,199.9 220.2,190.4 222.3,179.4 222.9,175.3 223.5,168.7 224.7,149.3 225,145.7 225.3,144.4 225.6,146 225.9,150.1 227.1,173.4 228,186.6 228.9,194 229.5,197.3 230.1,199.5 230.4,200.1 230.7,200.4 231,200.5 231.3,200.3 231.6,200 232.2,198.9 234.6,194 235.2,193.1 235.5,192.9 235.8,192.9 236.1,193.3 236.4,193.9 238.2,199.2 239.1,200.9 240,202 241.2,203 241.8,203.3 242.4,203.5 243,203.5 243.6,203.4 244.8,202.9 245.7,202.2 246.3,201.6 246.9,200.8 247.5,199.7 248.1,198 250.2,190.3 251.1,188.1 252,186.6 252.9,185.8 253.2,185.6 253.5,185.7 253.8,185.9 254.1,186.4 255.3,189 255.6,189.4 255.9,189.5 256.2,189.3 256.5,188.7 257.1,186.8 258.3,181.6 259.2,178.3 260.1,175.7 260.7,174.6 261,174.5 261.3,174.6 261.6,175 262.2,176.4 263.1,179.2 263.4,179.8 263.7,180.2 264,180.3 264.3,180 264.6,179.3 265.2,177.2 265.8,173.6 266.1,170.8 266.7,161.6 267.3,146.7 269.1,89.8 269.4,83.5 269.7,81.2 270,83.6 270.6,98.2 272.4,163.5 273,180.3 273.3,186.1 273.9,193.2 274.2,195.1 274.5,196.2 274.8,196.7 275.1,196.8 275.4,196.7 276.9,195.4 277.5,195 277.8,195 278.4,195.1 280.2,196.2 280.8,196.3 281.1,196.3 281.4,196 281.7,195.6 282.3,193.7 282.9,190.6 283.5,186 284.4,177.6 285,173.3 285.3,171.9 285.6,171.1 285.9,170.8 286.2,171.1 286.5,172 287.1,175.2 288.9,190.8 289.5,195.2 290.1,198.7 290.7,200.9 291,201.7 291.6,202.8 291.9,203.1 292.2,203.3 292.5,203.3 292.8,203.2 293.4,202.8 294.3,201.7 294.9,200.6 295.5,199.3 296.1,197.6 296.7,195.2 297.6,189.3 298.2,186.4 298.5,185.9 298.8,185.9 299.7,187.4 300,187.6 300.3,187.4 300.6,186.7 301.2,184.3 301.8,181.4 304.2,168.2 304.5,167.1 304.8,166.7 305.1,167.2 305.4,168.4 306.3,173.6 306.6,174.8 306.9,175.5 307.5,176.3 309.3,177.6 310.2,178.5 312,181 313.2,183.2 314.4,186.2 317.4,196.3 318,197.9 318.9,199.8 320.1,201.6 321,202.5 321.6,203 322.5,203.4 323.1,203.5 323.7,203.4 324.3,203 325.5,201.7 326.1,200.7 326.7,199 327,197.6 327.9,190.5 329.4,174.3 330.6,163.2 331.5,156.9 331.8,155.8 332.1,155.3 332.4,155.5 332.7,156.3 333,157.5 335.1,169.2 336,172.9 337.2,176.8 338.4,180.2 339,181.6 339.6,182.7 339.9,183.1 340.2,183.2 340.5,182.9 340.8,182.1 341.4,179.1 342.3,171.1 342.9,163.6 344.4,140.1 344.7,137.1 345,136.2 345.3,137.8 345.6,141.3 348,180.2 348.6,186.8 349.2,190.4 349.8,192.4 350.4,193.8 350.7,194.3 351,194.6 351.3,194.6 352.5,193.5 352.8,193.5 353.1,193.8 354.6,197 355.5,198.6 358.2,202.6 358.8,203.2 359.1,203.3 359.4,203.2 359.7,202.8 360.3,201.7 363.3,195.4 363.9,194.5 364.2,194.3 364.5,194.3 364.8,194.7 365.1,195.4 366.3,199.1 366.9,200.4 367.8,201.7 368.7,202.7 369.3,203 369.6,202.9 369.9,202.7 370.8,201.4 371.7,199.6 373.2,195.6 375.6,188.1 377.7,182.2 378.3,180.2 379.2,175.5 382.5,152.9 383.7,145.4 384,144.1 384.6,142.3 384.9,141.8 385.2,141.6 385.8,141.5 386.4,141.6 387,142.1 387.6,143.2 388.2,145 389.1,149 392.4,166.4 393,169.1 393.6,171.3 394.2,172.5 394.5,172.8 395.4,173.2 395.7,173.5 396.3,174.9 399.6,188.6 402,197.6 402.6,199.3 403.5,201.1 404.4,202.2 405.3,203 406.5,203.5 408,203.6 408.6,203.4 409.5,202.4 410.7,200.4 411.9,197.8 414.6,190 415.5,187.8 416.1,186.7 416.7,186 418.8,184.8 419.7,183.8 420.6,182.2 421.8,179.6 423.6,174.7 423.9,174.3 424.2,174.3 424.5,174.7 425.1,176.1 425.4,176.5 425.7,176.4 426,176 426.9,173 427.8,168.8 428.7,163.9 430.2,154.6 430.8,151.5 431.7,148.3 432.3,147.1 432.6,146.8 432.9,147 433.2,147.6 433.5,148.7 434.1,152.8 434.7,158.8 436.5,181 436.8,183.6 437.4,187.2 437.7,188.2 438,188.7 438.3,188.9 438.6,188.8 438.9,188.4 439.2,187.9 440.1,185.8 440.4,185.8 440.7,186.4 441,187.8 441.9,192.9 442.2,194 442.8,195.4 443.4,196.3 443.7,196.6 444.3,196.8 445.2,196.8 445.5,197 445.8,197.3 447.3,200.5 448.2,201.8 448.8,202.4 449.4,202.8 449.7,202.8 450,202.7 450.3,202.3 450.9,201.3 452.1,197.9 453,194.5 454.2,188.8 455.1,183.8 457.2,170.8 458.4,165 459.3,161.8 460.5,158.5 461.1,157.4 461.7,156.6 462.3,156.2 462.6,156.2 463.2,156.4 463.8,157.1 464.4,158.5 465,160.4 466.8,167.4 470.1,182.4 471.3,187.4 472.5,191.6 473.7,194.7 474.3,195.9 475.2,197.3 476.1,198.3 476.7,198.8 478.2,199.6 480.9,200.6 483.3,201.6"/>
<path fill="#c99a4e" stroke="none" d="M81,201.5 82.5,201.7 84.6,202.4 85.5,202.8 87.6,204.3 88.5,204.6 88.8,204.5 89.4,203.9 90.9,201.7 91.5,201.5 91.8,201.6 92.4,202.1 94.2,204.3 94.8,204.6 95.1,204.5 95.7,204.2 98.1,201.4 98.7,200.9 99,200.9 99.3,201 99.9,201.6 101.4,204.1 101.7,204.3 102,204.3 102.3,204.1 102.9,203.3 104.7,200.3 104.7,200.6 102.9,204.1 102.3,205 102,205.2 101.7,205.2 101.4,205 99.9,202.1 99.3,201.4 99,201.3 98.7,201.3 98.1,201.8 95.7,205.1 95.1,205.6 94.8,205.6 94.5,205.5 93.9,205 92.4,202.7 91.8,202.1 91.5,202 90.9,202.3 89.4,204.8 88.8,205.5 88.5,205.6 87.6,205.2 85.5,203.6 84.6,203 82.5,202.3 81,202ZM113.1,200.3 114.9,203.1 115.8,203.9 116.4,204.1 119.1,204.4 120,204.2 120.9,203.5 123.6,200.5 123.6,200.9 120.9,204.4 120,205.2 119.1,205.4 116.4,205.1 115.5,204.6 114.6,203.4 113.1,200.6ZM141.3,199.9 142.5,203.7 143.1,204.7 143.4,204.8 143.7,204.6 144.3,203.3 145.2,200 145.2,200.3 144.3,204.1 143.7,205.6 143.4,205.9 143.1,205.8 142.5,204.6 141.3,200.1ZM151.2,199.6 152.1,202.9 152.7,204.3 153,204.6 153.3,204.6 153.9,203.5 155.1,199.9 155.1,200.2 153.9,204.4 153.3,205.6 153,205.6 152.7,205.3 152.1,203.7 151.2,199.8ZM164.4,200.5 166.5,202.4 167.1,202.7 167.7,202.9 168,202.7 168.6,202.1 169.8,200.1 169.8,200.3 168.6,202.7 168,203.5 167.7,203.6 167.1,203.5 166.5,203 164.4,200.9ZM175.2,200.3 176.1,201.7 177.6,203.3 178.8,204.2 179.7,204.5 180.3,204.4 181.8,203.7 182.4,203.5 183,203.6 184.5,204.4 185.4,204.5 186.3,204 191.4,200.4 191.4,200.8 186.3,204.9 185.4,205.5 185.1,205.6 184.5,205.4 183,204.5 182.4,204.4 181.8,204.6 180.3,205.4 179.7,205.6 178.8,205.2 177.6,204.1 176.1,202.2 175.2,200.6ZM222,175.8 222.6,173.2 223.2,168.6 224.7,145.5 225,142 225.3,140.8 225.6,142.6 225.9,147 227.7,182.1 228.6,191.8 228.6,192 227.7,182.9 227.1,173.3 225.9,149.8 225.6,145.5 225.3,143.8 225,144.9 224.7,148.3 223.8,162.4 223.2,169.7 222.6,173.8 222,176.1ZM230.1,200.1 230.7,201.6 231,201.9 231.3,201.9 231.9,201.4 232.8,200.2 232.8,200.6 231.9,201.9 231.3,202.5 231,202.4 230.7,202.1 230.1,200.5ZM237.3,200 238.2,202.1 239.1,203.1 240.9,204.2 241.8,204.5 242.7,204.6 243.6,204.4 244.2,204.2 245.4,203.3 246.6,201.8 247.5,200 247.5,200.3 246.6,202.4 245.4,204.1 244.2,205.2 243.6,205.4 242.7,205.6 241.8,205.5 240.9,205.2 239.1,203.9 238.2,202.7 237.3,200.3ZM274.2,194.8 274.5,195.8 274.8,196.2 275.1,196.1 275.7,195.2 277.5,191.3 278.1,190.5 278.4,190.3 278.7,190.3 279.3,190.7 281.1,193.4 281.4,193.6 281.7,193.6 282,193.2 282.3,192.4 282.9,189.8 283.8,183 283.8,183.3 283.2,188.5 282.6,192.3 282,194.8 281.4,196.1 281.1,196.4 280.5,196.4 278.7,195.2 277.8,195 276.9,195.4 275.7,196.6 275.1,196.9 274.8,196.8 274.5,196.3 274.2,195.1ZM290.4,200.3 291.3,203.2 291.9,204.1 292.5,204.4 293.4,204 294.9,202.7 295.8,201.4 296.4,200 296.4,200.3 295.8,201.8 294.6,203.8 293.4,205 292.5,205.4 291.9,205.1 291.3,204 290.4,200.6ZM301.5,184.5 303.9,168.1 304.5,165.2 304.8,164.8 305.1,165.3 306.6,174 306.9,174.9 307.5,175.9 307.5,176.3 306.9,175.5 306.6,174.8 305.4,168.5 305.1,167.2 304.8,166.8 304.5,167.2 303.9,170 301.5,184.9ZM318.9,200 320.1,202.2 321,203.4 321.9,204.1 322.5,204.4 323.1,204.5 324,204.2 324.9,203.2 325.8,201.8 326.4,200.3 326.4,200.7 325.8,202.4 324.9,204 324,205.1 323.7,205.3 323.1,205.5 322.5,205.4 321.9,205.1 321,204.2 320.1,202.8 318.9,200.3ZM357.9,199.7 358.8,202.2 359.1,202.6 359.4,202.7 360,202 360.9,199.9 360.9,200.2 360,202.6 359.7,203.1 359.4,203.4 359.1,203.3 358.8,202.8 357.9,199.9ZM367.5,200.5 368.4,202.8 369,203.9 369.6,204.5 369.9,204.5 370.5,204.1 371.1,203.5 373.2,200.3 373.2,200.6 371.1,204.3 370.5,205.1 369.9,205.5 369.6,205.5 369.3,205.2 369,204.8 368.4,203.5 367.5,200.8ZM377.7,191.6 378.6,188.5 379.2,185.2 383.7,155.6 384.3,153.1 384.6,152.4 385.2,151.6 386.1,151.4 386.7,151.6 387.3,152.3 387.9,153.6 388.8,156.9 390.9,166.7 392.4,172.8 393.3,175.8 393.6,176.4 393.9,176.8 394.2,176.9 394.2,177.2 393.9,177.1 393.6,176.8 392.7,174.7 391.2,169.6 388.8,160.7 387.9,158.3 387.3,157.4 386.7,157.1 385.5,157 384.9,157.2 384.3,158.1 384,159 383.4,161.5 381,175 379.2,186 378.6,189 377.7,191.9ZM402.9,200.5 403.8,202.3 405,203.7 406.2,204.4 407.7,204.6 408.6,204.4 409.2,203.7 410.1,202.1 411,200.1 411,200.4 410.1,202.7 409.2,204.6 408.6,205.3 408.3,205.5 407.7,205.7 406.2,205.4 405.6,205.1 405,204.6 403.8,202.9 402.9,200.8ZM413.7,192.4 416.1,184.9 418.5,179.6 421.2,172 423.3,167.9 423.6,167.6 423.9,167.7 424.2,168.3 425.4,172.6 425.7,173.1 426,173.1 426.3,172.7 426.9,171.2 427.8,167.9 429.3,159.9 429.3,160.2 427.5,170.3 426.6,174.2 426,176 425.7,176.4 425.4,176.5 425.1,176.1 424.5,174.7 424.2,174.3 423.9,174.3 423.3,175.4 421.8,179.6 420.3,182.7 419.1,184.5 418.5,185 417,185.8 416.1,186.7 415.2,188.5 413.7,192.7ZM447.6,200.5 449.1,203.9 449.7,204.6 450,204.7 450.3,204.5 450.9,203.7 451.5,202.4 452.4,199.8 452.4,200.1 451.5,203.1 450.9,204.6 450.3,205.6 450,205.7 449.7,205.6 449.1,204.8 448.5,203.4 447.6,200.8ZM473.4,200.2 474.9,202.6 475.8,203.6 476.7,204.2 477.9,204.6 479.4,204.8 483.3,204.9 483.3,205.9 481.2,206 479.1,205.9 477.9,205.6 476.7,205.2 475.8,204.5 475.2,203.8 474.3,202.4 473.4,200.5Z"/>
<path fill="none" stroke="#c99a4e" stroke-width="3.0" d="M81,201.5 82.5,201.7 84.6,202.4 85.5,202.8 87.6,204.3 88.2,204.5 88.5,204.6 88.8,204.5 89.4,203.9 90.3,202.5 90.9,201.7 91.2,201.5 91.5,201.5 91.8,201.6 92.4,202.1 93.6,203.7 94.2,204.3 94.8,204.6 95.1,204.5 95.7,204.2 98.1,201.4 98.7,200.9 99,200.9 99.3,201 99.9,201.6 101.4,204.1 101.7,204.3 102,204.3 102.3,204.1 102.9,203.3 105,199.8 105.9,198 107.7,194.2 108.3,193.4 108.6,193.1 108.9,193.1 109.2,193.2 109.8,193.8 112.2,198.7 114.3,202.2 114.9,203.1 115.5,203.7 115.8,203.9 116.4,204.1 119.1,204.4 120,204.2 120.6,203.8 121.8,202.6 123.3,200.9 124.5,199.3 126.9,195.9 127.5,195.5 127.8,195.5 128.1,195.7 129.3,197.5 129.6,197.8 129.9,197.9 130.2,197.8 130.5,197.4 131.1,195.5 131.4,193.8 132,188.1 132.3,183.8 133.2,165 134.7,122.4 135,116.6 135.3,113.2 135.6,112.7 135.9,115.1 136.2,120.1 137.4,154.7 138,169.5 138.9,183.3 139.8,191.6 140.7,197.1 141.3,199.9 141.9,202 142.5,203.7 143.1,204.7 143.4,204.8 143.7,204.6 144,204 144.9,201.2 145.8,197.1 147.3,187.4 147.6,186.2 147.9,185.7 148.2,186 148.8,188.1 150.6,196.9 151.5,200.8 152.4,203.7 152.7,204.3 153,204.6 153.3,204.6 153.6,204.2 154.2,202.7 155.4,199.1 156.6,196.1 157.2,194.9 157.5,194.6 157.8,194.4 158.1,194.4 158.7,194.8 165,201.1 166.5,202.4 167.4,202.8 167.7,202.9 168,202.7 168.3,202.5 170.1,199.6 171.6,197.5 172.2,197 172.5,196.8 172.8,196.8 173.1,197 173.7,197.6 175.5,200.8 176.1,201.7 177.6,203.3 178.8,204.2 179.4,204.5 180,204.5 180.6,204.3 181.8,203.7 182.4,203.5 183,203.6 184.8,204.5 185.1,204.5 185.7,204.4 192,200 192.9,199.2 193.5,197.8 195,191.3 195.6,189.3 196.2,187.7 196.8,186.6 197.4,185.9 197.7,185.7 198.3,185.8 199.2,186.3 199.8,186.4 200.4,186.2 201.3,185.4 201.6,185.2 201.9,185.2 202.2,185.5 202.5,186.1 203.4,188.2 203.7,188.6 204,188.6 204.3,188.3 204.6,187.8 205.8,185 206.1,184.5 206.4,184.3 206.7,184.3 207,184.5 207.3,184.9 207.9,186.3 209.1,191.9 209.4,193 209.7,193.4 210,193.2 210.6,191.5 213.9,178.1 214.2,177.3 214.5,176.9 214.8,177.1 215.1,178.1 216.6,186.2 217.2,189 217.5,189.9 217.8,190.3 218.1,190.1 218.4,189.4 218.7,188.2 219.6,183.7 220.2,181.3 221.7,176.8 222.3,174.7 222.9,171.3 223.5,165 224.7,145.5 225,142 225.3,140.8 225.6,142.6 225.9,147 227.1,171.9 228,186 228.9,194 229.5,197.6 230.1,200.1 230.7,201.6 231,201.9 231.3,201.9 231.6,201.7 232.2,201 234.9,197.4 235.5,196.9 235.8,197 236.1,197.2 236.4,197.7 237.9,201.5 238.5,202.5 239.1,203.1 240.6,204 241.5,204.4 242.1,204.5 243.3,204.5 244.5,204 245.4,203.3 246,202.6 246.6,201.8 247.2,200.7 248.1,198.1 249.6,192.3 250.2,190.3 251.1,188.1 251.7,187 252.3,186.3 252.9,185.8 253.2,185.7 253.5,185.7 253.8,186 254.1,186.4 255.3,189.3 255.6,189.8 255.9,190.1 256.2,190.1 256.5,189.8 256.8,189.3 258.6,184.8 259.2,183.8 260.1,182.6 260.7,182.1 261,182 261.3,182 261.9,182.6 262.8,183.9 263.1,184.1 263.4,184.2 263.7,184 264,183.5 264.3,182.6 264.9,180.2 265.5,176.8 266.1,171.5 266.7,161.9 267.3,146.8 269.1,89.8 269.4,83.5 269.7,81.2 270,83.6 270.6,98.2 272.4,163.5 273,180.2 273.3,186 273.9,193 274.2,194.8 274.5,195.8 274.8,196.2 275.1,196.1 275.4,195.8 277.5,191.3 278.1,190.5 278.4,190.3 278.7,190.3 279.3,190.7 281.1,193.4 281.4,193.6 281.7,193.6 282,193.2 282.6,191.3 283.2,187.9 284.4,177.5 285,173.2 285.3,171.9 285.6,171 285.9,170.8 286.2,171.1 286.5,172 287.1,175.2 289.2,193.1 290.1,198.9 290.7,201.5 291.3,203.2 291.6,203.7 291.9,204.1 292.2,204.4 292.5,204.4 293.1,204.2 293.7,203.8 294.6,203 295.2,202.3 295.8,201.4 296.4,200 297,197.5 297.9,192.4 298.2,191.3 298.5,190.9 298.8,190.9 299.7,191.7 300,191.6 300.3,190.9 300.6,189.8 301.2,186.4 303.9,168.1 304.5,165.2 304.8,164.8 305.1,165.3 305.4,166.7 306.3,172.6 306.9,174.9 307.2,175.5 307.8,176.3 309.6,177.9 310.5,178.9 312,181 313.2,183.2 314.4,186.2 317.4,196.4 318.9,200 320.4,202.6 321,203.4 321.6,203.9 322.2,204.3 322.8,204.5 323.4,204.5 324,204.2 324.6,203.6 325.2,202.8 326.1,201.2 326.7,199.2 327,197.7 327.9,190.5 329.4,174.3 330.6,163.1 331.5,156.8 331.8,155.6 332.1,155.1 332.4,155.3 332.7,156 333,157.1 334.8,166.6 335.4,169.1 336.3,171.9 338.1,176.6 339.6,179.8 339.9,180.2 340.2,180.4 340.5,180.3 340.8,179.6 341.4,176.9 342.3,169.5 343.2,158 344.4,139.4 344.7,136.5 345,135.7 345.3,137.3 345.6,140.8 348,178.7 348.3,182.1 348.9,186.5 349.2,187.6 349.5,188.3 349.8,188.7 350.4,189.2 350.7,189.1 351,188.9 351.3,188.5 352.5,185.9 352.8,185.7 353.1,185.9 353.4,186.3 354.6,189.5 358.5,201.5 358.8,202.2 359.1,202.6 359.4,202.7 359.7,202.4 360.3,201.4 361.5,198.3 363.3,193.2 363.9,191.9 364.2,191.5 364.5,191.4 364.8,191.8 365.1,192.4 366.6,197.8 367.8,201.3 368.7,203.4 369.3,204.3 369.6,204.5 369.9,204.5 370.5,204.1 371.7,202.7 373.5,199.8 376.2,194.8 377.4,192.3 378,190.7 378.9,187 383.1,159.1 384,154.2 384.3,153.1 384.9,151.9 385.5,151.5 386.1,151.4 386.7,151.6 387.3,152.3 387.9,153.6 388.2,154.5 389.1,158.2 391.5,169.3 392.7,173.9 393.3,175.8 393.6,176.4 393.9,176.8 394.2,176.9 394.5,176.8 395.4,176.3 395.7,176.4 396,176.7 396.6,178 401.4,195.8 402.3,198.8 402.9,200.5 403.5,201.8 404.1,202.7 404.7,203.4 405.3,203.9 406.2,204.4 407.1,204.6 408,204.6 408.6,204.4 409.2,203.7 409.8,202.7 411.3,199.4 412.8,195.2 415.8,185.7 418.5,179.6 421.2,172 423,168.4 423.3,167.9 423.6,167.6 423.9,167.7 424.2,168.3 425.4,172.6 425.7,173.1 426,173.1 426.3,172.7 426.6,172 427.2,170.2 428.1,166.5 430.8,151.4 431.7,148.2 432.3,147 432.6,146.7 432.9,146.8 433.2,147.4 433.5,148.4 434.1,152.2 434.7,157.7 436.5,177.9 436.8,180.3 437.4,183.3 437.7,184.1 438,184.6 438.3,184.8 438.6,184.8 438.9,184.6 439.2,184.2 439.8,183.2 440.1,182.9 440.4,183 440.7,183.9 441,185.4 441.9,190.6 442.5,192.4 443.1,193.3 443.7,193.8 444,193.9 444.9,194 445.2,194.1 445.5,194.4 446.1,195.7 447.9,201.3 448.8,203.3 449.4,204.3 449.7,204.6 450,204.7 450.3,204.5 450.9,203.7 451.8,201.6 452.7,198.8 454.5,191.7 457.5,177 458.7,172.9 459.6,170.7 460.8,168.6 461.7,167.7 462.3,167.4 462.6,167.4 463.2,167.6 463.8,168.3 464.4,169.5 465,171.2 467.1,178.4 471,193.6 472.5,198.2 473.7,200.8 474.3,201.8 475.2,203 475.8,203.6 476.7,204.2 477.9,204.6 479.4,204.8 481.5,204.9 483.3,204.9"/>
<path fill="#f2b92c" stroke="none" d="M81,201.5 82.5,201.7 84.6,202.4 85.5,202.8 87.6,204.3 88.5,204.6 88.8,204.5 89.4,203.9 90.9,201.7 91.5,201.5 91.8,201.6 92.4,202.1 94.2,204.3 94.8,204.6 95.1,204.5 95.7,204.2 98.1,201.4 98.7,200.9 99,200.9 99.3,201 99.9,201.6 101.4,204.1 101.7,204.3 102,204.3 102.3,204.1 102.9,203.3 104.7,200.3 104.7,200.6 102.9,204.1 102.3,205 102,205.2 101.7,205.2 101.4,205 99.9,202.1 99.3,201.4 99,201.3 98.7,201.3 98.1,201.8 95.7,205.1 95.1,205.6 94.8,205.6 94.5,205.5 93.9,205 92.4,202.7 91.8,202.1 91.5,202 90.9,202.3 89.4,204.8 88.8,205.5 88.5,205.6 87.6,205.2 85.5,203.6 84.6,203 82.5,202.3 81,202ZM113.1,200.3 114.9,203.1 115.8,203.9 116.4,204.1 119.1,204.4 120,204.2 120.9,203.5 123.6,200.5 123.6,200.9 120.9,204.4 120,205.2 119.1,205.4 116.4,205.1 115.5,204.6 114.6,203.4 113.1,200.6ZM141.3,199.9 142.5,203.7 143.1,204.7 143.4,204.8 143.7,204.6 144.3,203.3 145.2,200 145.2,200.3 144.3,204.1 143.7,205.6 143.4,205.9 143.1,205.8 142.5,204.6 141.3,200.1ZM151.2,199.6 152.1,202.9 152.7,204.3 153,204.6 153.3,204.6 153.9,203.5 155.1,199.9 155.1,200.2 153.9,204.4 153.3,205.6 153,205.6 152.7,205.3 152.1,203.7 151.2,199.8ZM161.7,197.6 164.1,199.6 165.6,200.6 166.8,201.2 167.4,201.3 167.7,201.2 168,201 168.6,200.2 170.1,197.3 171.3,195.4 172.2,194.4 172.8,194.3 173.1,194.4 173.7,195.1 175.5,198.6 176.4,200.1 177.9,202.1 179.1,203.3 179.7,203.6 180.3,203.7 181.8,203.2 182.4,203.2 183,203.3 184.5,204.3 185.1,204.4 185.7,204.3 186.3,203.9 191.4,200.4 191.4,200.8 186.3,204.9 185.4,205.5 185.1,205.6 184.5,205.4 183,204.5 182.4,204.4 181.8,204.6 180.3,205.4 179.7,205.6 179.1,205.4 178.5,205 176.7,203 175.8,201.7 173.7,197.7 173.1,197 172.8,196.9 172.2,197 171.3,198 170.1,199.8 168.6,202.7 168,203.5 167.7,203.6 167.1,203.5 166.2,202.7 161.7,198ZM209.7,193.7 210,193.6 210.3,193 213.6,181.4 214.2,179.8 214.5,179.5 214.8,179.9 215.1,181 216.3,187.6 217.2,191.7 217.5,192.5 217.8,192.8 218.1,192.5 218.7,190.2 220.2,182.4 221.7,177.3 221.7,177 220.5,180.3 219.9,182.4 218.4,189.4 218.1,190.1 217.8,190.3 217.5,189.9 216.9,187.7 215.1,178.1 214.8,177.1 214.5,176.9 214.2,177.3 213.6,179.2 210.6,191.5 210,193.2 209.7,193.4ZM222.3,175 222.9,171.4 223.2,168.7 224.7,145.4 225,141.8 225.3,140.6 225.6,142.4 225.9,146.8 227.7,182 228.6,191.8 228.6,192 227.7,182.9 227.1,173.3 225.9,149.8 225.6,145.5 225.3,143.8 225,144.9 224.7,148.3 223.8,162.4 223.2,169.7 222.9,172.1 222.3,175.1ZM230.1,200.1 230.7,201.6 231,201.9 231.3,201.9 231.9,201.4 232.8,200.2 232.8,200.6 231.9,201.9 231.3,202.5 231,202.4 230.7,202.1 230.1,200.5ZM237.3,200 238.2,202.1 239.1,203.1 240.9,204.2 241.8,204.5 242.7,204.6 243.6,204.4 244.2,204.2 245.4,203.3 246.6,201.8 247.5,200 247.5,200.3 246.6,202.4 245.4,204.1 244.2,205.2 243.6,205.4 242.7,205.6 241.8,205.5 240.9,205.2 239.1,203.9 238.2,202.7 237.3,200.3ZM278.1,194.7 278.7,194.3 279.3,193.6 280.8,190.4 281.4,189.6 282.3,188.9 282.9,187.5 283.5,184.5 284.7,175 284.7,175.2 283.2,188.5 282.6,192.3 282,194.8 281.4,196.1 281.1,196.4 280.8,196.4 280.2,196.2 278.7,195.2 278.1,195ZM290.4,200.3 291.3,203.2 291.9,204.1 292.5,204.4 293.4,204 294.9,202.7 295.8,201.4 296.4,200 296.4,200.3 295.8,201.8 294.6,203.8 293.4,205 292.5,205.4 291.9,205.1 291.3,204 290.4,200.6ZM301.2,186.4 303.9,167.5 304.5,164.6 304.8,164.2 305.1,164.8 306.6,173.7 307.2,175.4 307.8,176.2 307.8,176.5 307.2,176 306.6,174.8 305.1,167.2 304.8,166.8 304.5,167.2 303.9,170 301.2,186.7ZM318.9,200 320.1,202.2 321,203.4 321.9,204.1 322.5,204.4 323.1,204.5 324,204.2 324.9,203.2 325.8,201.8 326.4,200.3 326.4,200.7 325.8,202.4 324.9,204 324,205.1 323.7,205.3 323.1,205.5 322.5,205.4 321.9,205.1 321,204.2 320.1,202.8 318.9,200.3ZM357.9,199.7 358.8,202.2 359.1,202.6 359.4,202.7 360,202 360.9,199.9 360.9,200.2 360,202.6 359.7,203.1 359.4,203.4 359.1,203.3 358.8,202.8 357.9,199.9ZM367.5,200.5 368.4,202.8 369,203.9 369.6,204.5 369.9,204.5 370.5,204.1 371.1,203.5 373.2,200.3 373.2,200.6 371.1,204.3 370.5,205.1 369.9,205.5 369.6,205.5 369.3,205.2 369,204.8 368.4,203.5 367.5,200.8ZM377.4,192.3 378.3,189.6 379.2,185 383.7,154.3 384.3,151.7 384.6,150.9 385.2,150 385.5,149.9 386.1,149.8 386.7,150.1 387.3,150.8 387.9,152.3 388.8,155.7 391.2,167.5 392.7,173.7 393.6,176.3 393.9,176.7 394.2,176.8 394.5,176.8 394.5,177.1 394.2,177.2 393.9,177.1 393.6,176.8 393,175.6 391.5,170.7 388.8,160.7 387.9,158.3 387.3,157.4 386.7,157.1 385.5,157 384.9,157.2 384.3,158.1 384,159 383.4,161.5 378.9,187.6 378.3,190.2 377.4,192.6ZM402.9,200.5 403.8,202.3 405,203.7 406.2,204.4 407.7,204.6 408.6,204.4 409.2,203.7 410.1,202.1 411,200.1 411,200.4 410.1,202.7 409.2,204.6 408.6,205.3 408.3,205.5 407.7,205.7 406.2,205.4 405.6,205.1 405,204.6 403.8,202.9 402.9,200.8ZM413.7,192.3 415.8,185.5 418.5,179 420.9,171.8 421.8,169.7 423,167.5 423.6,166.9 423.9,167 424.2,167.6 425.4,172.2 425.7,172.7 426,172.7 426.6,171.8 427.8,167.7 429.3,159.9 429.3,160.2 427.5,170.3 426.6,174.2 426,176 425.7,176.4 425.4,176.5 425.1,176.1 424.5,174.7 424.2,174.3 423.9,174.3 423.3,175.4 421.8,179.6 420.3,182.7 419.1,184.5 418.5,185 417,185.8 416.1,186.7 415.2,188.5 413.7,192.7ZM447.6,200.5 449.1,203.9 449.7,204.6 450,204.7 450.3,204.6 450.9,203.8 452.1,200.8 452.1,201.1 450.9,204.6 450.3,205.6 450,205.7 449.7,205.6 449.1,204.8 448.5,203.4 447.6,200.8ZM454.8,190.7 457.2,179.2 458.4,175 459.3,172.8 460.5,170.8 461.1,170.1 461.7,169.6 462.6,169.4 463.2,169.6 463.8,170.1 464.4,171.2 465,172.8 467.1,179.4 469.8,189.5 469.8,189.2 466.8,177.3 464.7,170.3 464.1,168.8 463.5,167.9 462.9,167.4 462.3,167.4 461.4,167.9 460.5,169 459.3,171.3 458.4,173.8 457.2,178.3 454.8,190.3ZM473.4,200.3 474.3,201.8 475.2,203 475.8,203.6 476.7,204.2 477.9,204.6 479.4,204.8 483.3,204.9 483.3,205.9 481.2,206 479.1,205.9 477.9,205.6 476.7,205.2 475.8,204.5 475.2,203.8 474.3,202.4 473.4,200.5Z"/>
<path fill="none" stroke="#f2b92c" stroke-width="3.0" d="M81,201.5 82.5,201.7 84.6,202.4 85.5,202.8 87.6,204.3 88.2,204.5 88.5,204.6 88.8,204.5 89.4,203.9 90.3,202.5 90.9,201.7 91.2,201.5 91.5,201.5 91.8,201.6 92.4,202.1 93.6,203.7 94.2,204.3 94.8,204.6 95.1,204.5 95.7,204.2 98.1,201.4 98.7,200.9 99,200.9 99.3,201 99.9,201.6 101.4,204.1 101.7,204.3 102,204.3 102.3,204.1 102.9,203.3 105,199.8 105.9,198 107.7,194.2 108.3,193.4 108.6,193.1 108.9,193.1 109.2,193.2 109.8,193.8 112.2,198.7 114.3,202.2 114.9,203.1 115.5,203.7 115.8,203.9 116.4,204.1 119.1,204.4 120,204.2 120.6,203.8 121.8,202.6 123.3,200.9 124.5,199.3 126.9,195.9 127.5,195.5 127.8,195.5 128.1,195.7 129.3,197.5 129.6,197.8 129.9,197.9 130.2,197.8 130.5,197.4 131.1,195.5 131.4,193.8 132,188.1 132.3,183.8 133.2,165 134.7,122.4 135,116.6 135.3,113.2 135.6,112.7 135.9,115.1 136.2,120.1 137.4,154.7 138,169.5 138.9,183.3 139.8,191.6 140.7,197.1 141.3,199.9 141.9,202 142.5,203.7 143.1,204.7 143.4,204.8 143.7,204.6 144,204 144.9,201.2 145.8,197.1 147.3,187.4 147.6,186.2 147.9,185.7 148.2,186 148.8,188.1 150.6,196.9 151.5,200.8 152.4,203.7 152.7,204.3 153,204.6 153.3,204.6 153.6,204.2 154.2,202.7 155.4,199.1 156.6,196.1 157.2,194.9 157.5,194.5 157.8,194.3 158.1,194.3 158.7,194.7 162,197.9 164.7,200 166.2,201 166.8,201.2 167.4,201.3 168,201 168.3,200.6 170.1,197.3 171.6,195 172.2,194.4 172.5,194.2 172.8,194.3 173.1,194.4 173.7,195.1 175.5,198.6 176.4,200.1 177.9,202.1 179.1,203.3 179.7,203.6 180.3,203.7 181.8,203.2 182.4,203.2 183,203.3 184.2,204.1 184.8,204.4 185.1,204.4 185.7,204.3 191.7,200.2 192.6,199.5 192.9,199.2 193.5,197.8 195,191.3 195.6,189.3 196.2,187.7 196.8,186.6 197.4,185.9 197.7,185.7 198.3,185.8 199.2,186.3 199.8,186.4 200.4,186.2 201.3,185.4 201.6,185.2 201.9,185.2 202.2,185.5 202.5,186.1 203.4,188.2 203.7,188.6 204,188.6 204.3,188.3 204.6,187.8 205.8,185 206.1,184.5 206.4,184.3 206.7,184.4 207,184.6 207.3,184.9 207.6,185.5 208.2,187.6 209.1,192.1 209.4,193.2 209.7,193.7 210,193.6 210.6,192.1 213.6,181.4 214.2,179.8 214.5,179.5 214.8,179.9 215.1,181 216.9,190.6 217.5,192.5 217.8,192.8 218.1,192.5 218.4,191.6 219.9,183.7 220.5,181.3 222,176.2 222.6,173.5 222.9,171.4 223.5,165 224.7,145.4 225,141.8 225.3,140.6 225.6,142.4 225.9,146.8 227.1,171.8 228,185.9 228.9,194 229.5,197.6 230.1,200.1 230.7,201.6 231,201.9 231.3,201.9 231.6,201.7 232.2,201 234.9,197.4 235.5,196.9 235.8,197 236.1,197.2 236.4,197.7 237.9,201.5 238.5,202.5 239.1,203.1 240.6,204 241.5,204.4 242.1,204.5 243.3,204.5 244.5,204 245.4,203.3 246,202.6 246.6,201.8 247.2,200.7 248.1,198.1 249.6,192.3 250.2,190.3 251.1,188.1 251.7,187 252.3,186.3 252.9,185.8 253.2,185.7 253.5,185.7 253.8,186 254.1,186.4 255.3,189.3 255.6,189.8 255.9,190.1 256.2,190.1 256.5,189.8 256.8,189.3 258.6,184.8 259.2,183.8 260.1,182.6 260.7,182.1 261,182 261.3,182 261.9,182.6 262.8,183.9 263.1,184.1 263.4,184.2 263.7,184 264,183.5 264.3,182.6 264.9,180.2 265.5,176.8 266.1,171.5 266.7,161.9 267.3,146.8 269.1,89.8 269.4,83.5 269.7,81.2 270,83.6 270.6,98.2 272.4,163.5 273,180.3 273.3,186.1 273.9,193.2 274.2,195.1 274.5,196.2 274.8,196.8 275.1,196.9 275.4,196.8 277.2,195.1 278.4,194.5 279,194 279.6,193.1 280.8,190.4 281.4,189.6 282.3,188.9 282.6,188.4 282.9,187.5 283.2,186.3 283.5,184.5 284.4,177.2 285,173.2 285.3,171.8 285.6,171 285.9,170.8 286.2,171.1 286.5,172 287.1,175.2 289.2,193.1 290.1,198.9 290.7,201.5 291.3,203.2 291.6,203.7 291.9,204.1 292.2,204.4 292.5,204.4 293.1,204.2 293.7,203.8 294.6,203 295.2,202.3 295.8,201.4 296.4,200 297,197.5 297.9,192.4 298.2,191.3 298.5,190.9 298.8,190.9 299.4,191.5 299.7,191.7 300,191.6 300.3,190.9 300.6,189.8 301.2,186.4 303.9,167.5 304.5,164.6 304.8,164.2 305.1,164.8 305.4,166.2 306.3,172.3 306.9,174.7 307.2,175.4 307.8,176.2 309.6,177.9 310.8,179.3 312.3,181.5 313.2,183.2 314.4,186.2 317.4,196.4 318.9,200 320.4,202.6 321,203.4 321.6,203.9 322.2,204.3 322.8,204.5 323.4,204.5 324,204.2 324.6,203.6 325.2,202.8 326.1,201.2 326.7,199.2 327,197.7 327.9,190.5 329.4,174.3 330.6,163.1 331.5,156.8 331.8,155.6 332.1,155.1 332.4,155.3 332.7,156 333,157.1 334.8,166.6 335.4,169.1 336.3,171.9 338.1,176.6 339.6,179.8 339.9,180.2 340.2,180.4 340.5,180.3 340.8,179.6 341.4,176.9 342.3,169.5 343.2,158 344.4,139.4 344.7,136.5 345,135.7 345.3,137.3 345.6,140.8 348,178.7 348.3,182.1 348.9,186.5 349.2,187.6 349.5,188.3 349.8,188.7 350.4,189.2 350.7,189.1 351,188.9 351.3,188.5 352.5,185.9 352.8,185.7 353.1,185.9 353.4,186.3 354.6,189.5 358.5,201.5 358.8,202.2 359.1,202.6 359.4,202.7 359.7,202.4 360.3,201.4 361.5,198.3 363.3,193.2 363.9,191.9 364.2,191.5 364.5,191.4 364.8,191.8 365.1,192.4 366.6,197.8 367.8,201.3 368.7,203.4 369.3,204.3 369.6,204.5 369.9,204.5 370.5,204.1 371.7,202.7 373.5,199.8 376.2,194.8 377.4,192.3 378,190.6 378.9,186.8 383.1,158 384,152.8 384.3,151.7 384.9,150.4 385.5,149.9 386.1,149.8 386.7,150.1 387.3,150.8 387.9,152.3 388.2,153.3 389.1,157.2 391.5,168.9 393,174.7 393.6,176.3 393.9,176.7 394.2,176.8 394.5,176.8 395.4,176.3 395.7,176.4 396,176.6 396.3,177.2 396.9,179 401.4,195.8 402.3,198.8 402.9,200.5 403.5,201.8 404.1,202.7 404.7,203.4 405.3,203.9 406.2,204.4 407.1,204.6 408,204.6 408.6,204.4 409.2,203.7 409.8,202.7 410.7,200.8 411.6,198.6 412.8,195.2 415.8,185.5 418.5,179 421.2,171 422.7,168 423.3,167.1 423.6,166.9 423.9,167 424.2,167.6 425.4,172.2 425.7,172.7 426,172.7 426.3,172.4 426.6,171.8 427.2,170.1 428.1,166.4 429,161.7 430.2,154.5 431.1,150.2 432,147.5 432.3,147 432.6,146.7 432.9,146.8 433.2,147.4 433.5,148.4 434.1,152.2 434.7,157.7 436.5,177.9 436.8,180.3 437.4,183.3 437.7,184.1 438,184.6 438.3,184.8 438.6,184.8 438.9,184.6 439.2,184.2 439.8,183.2 440.1,182.9 440.4,183 440.7,183.9 441,185.4 441.9,190.6 442.5,192.4 443.1,193.3 443.7,193.8 444,193.9 444.9,194 445.2,194.1 445.5,194.4 446.1,195.7 447.9,201.3 448.8,203.3 449.4,204.3 449.7,204.6 450,204.7 450.3,204.6 450.6,204.3 451.5,202.5 452.4,199.9 453.3,196.8 454.5,192 457.2,179.2 457.8,176.9 458.7,174.2 459.6,172.3 460.8,170.4 461.7,169.6 462.6,169.4 463.2,169.6 463.8,170.1 464.4,171.2 465,172.8 467.1,179.4 470.1,190.6 471.3,194.8 472.8,199 474,201.4 474.6,202.3 475.5,203.3 476.1,203.8 477,204.3 478.2,204.7 479.4,204.8 481.5,204.9 483.3,204.9"/>
<path fill="#8fc555" stroke="none" d="M81,201.3 82.5,201.5 84.6,202.1 85.5,202.5 87.3,203.6 88.2,203.8 88.8,203.5 89.1,203 90.3,200.2 90.9,199.1 91.2,198.8 91.5,198.8 92.1,199.4 93.9,203.1 94.5,203.8 94.8,204 95.1,204 95.7,203.8 98.1,201.2 98.7,200.8 99,200.7 99.3,200.8 99.9,201.4 101.4,203.7 101.7,203.8 102,203.8 102.3,203.6 102.9,202.8 104.4,200 105.6,196.9 107.7,189.8 108.3,188.5 108.6,188.2 108.9,188.1 109.2,188.3 109.8,189.3 111.9,196.2 112.8,198.6 113.7,200.5 114.6,201.8 115.5,202.7 116.1,202.8 119.7,201.9 120.6,201.4 121.5,200.5 123,198.5 124.2,196 126.3,190.8 126.9,189.8 127.2,189.5 127.5,189.5 127.8,189.8 128.1,190.3 129.3,193.8 129.9,195.2 130.2,195.5 130.5,195.5 130.8,195.1 131.4,192.8 131.7,190.7 132.6,178.1 132.6,178.5 131.7,191.4 131.1,195.5 130.5,197.4 130.2,197.9 129.9,198 129.6,197.9 128.1,195.7 127.8,195.5 127.5,195.5 127.2,195.7 126.6,196.4 124.2,200 121.8,203.3 120.9,204.4 120,205.2 119.4,205.4 118.5,205.4 116.4,205.1 115.5,204.6 114.6,203.4 113.4,201.2 111.9,198.3 110.1,194.4 109.5,193.4 108.9,193.1 108.3,193.4 107.7,194.2 105.6,198.8 103.5,202.9 102.6,204.6 102,205.2 101.7,205.2 101.4,205 99.9,202.1 99.3,201.4 99,201.3 98.7,201.3 98.1,201.8 95.7,205.1 95.1,205.6 94.8,205.6 94.5,205.5 93.9,205 92.4,202.7 91.8,202.1 91.5,202 90.9,202.3 89.4,204.8 88.8,205.5 88.5,205.6 87.6,205.2 85.5,203.6 84.6,203 82.5,202.3 81,202ZM141,198.5 141.9,201.7 142.8,203.6 143.1,203.8 143.4,203.7 144,202.2 144.6,199.6 145.2,196 147.3,177.5 147.6,175.9 147.9,175.2 148.2,175.5 148.8,178.4 150.6,192.3 151.5,198.3 152.4,202.3 152.7,203 153,203.4 153.3,203.4 153.9,202.2 156.9,190.6 157.5,188.9 157.8,188.5 158.1,188.4 158.7,188.9 159.3,189.9 161.4,195.3 162.6,197.8 163.8,199.6 165,200.9 166.8,202.3 167.7,202.6 168,202.4 168.6,201.8 170.1,199.5 170.1,199.8 168.3,203.1 167.7,203.6 167.1,203.5 165.3,201.9 159,195.1 158.4,194.6 157.8,194.4 157.2,195 156.6,196.2 155.4,199.3 153.9,204.4 153.3,205.6 153,205.6 152.7,205.3 152.4,204.6 151.8,202.5 148.8,188.1 148.2,186 147.9,185.7 147.6,186.2 147.3,187.4 146.1,195.4 145.2,200.3 144.3,204.1 143.7,205.6 143.4,205.9 143.1,205.8 142.5,204.6 141.9,202.6 141,198.7ZM174.9,199.6 175.8,201.1 176.4,201.8 177.9,203.2 179.1,204 180,204.1 181.8,203.3 182.4,203.2 183,203.3 184.5,204 185.1,204.1 186,203.8 192.6,199.5 192.6,199.8 186.3,204.9 185.7,205.4 185.1,205.6 184.5,205.4 183,204.5 182.4,204.4 181.8,204.6 180,205.5 179.1,205.4 178.2,204.7 176.7,203 175.8,201.7 174.9,200ZM229.8,199 230.4,200.8 231,201.6 231.3,201.7 231.9,201.2 233.4,199.3 233.4,199.6 231.6,202.3 231.3,202.5 231,202.4 230.7,202.1 230.4,201.4 229.8,199.2ZM237,199.1 237.9,201.3 238.8,202.5 239.7,203.2 240.9,203.8 241.8,204.1 242.7,204.2 243.6,204 244.2,203.8 245.7,202.7 246.9,201.1 247.8,199 247.8,199.3 246.9,201.8 245.7,203.8 245.1,204.4 244.2,205.2 243.6,205.4 242.7,205.6 241.8,205.5 240.9,205.2 239.7,204.4 238.8,203.6 237.9,202 237,199.4ZM249.3,193.1 250.2,189.5 251.4,185.4 252.3,182.8 253.2,181 253.5,180.9 253.8,181 254.1,181.4 255.6,186.2 256.2,187.4 256.5,187.5 256.8,187.4 257.1,187 258.9,184 258.9,184.3 258,186.1 256.8,189.3 256.2,190.1 255.9,190.1 255.6,189.8 253.8,186 253.5,185.7 253.2,185.7 252.6,186 251.7,187 250.8,188.7 250.2,190.3 249.3,193.4ZM269.4,83.9 269.7,81.7 270,84.1 270.3,90.4 272.7,174.9 273.3,188.9 273.6,193.5 274.2,199 274.8,201.3 275.1,201.8 275.7,202.2 277.5,202 279.3,202.1 279.9,202.1 280.5,201.7 281.1,201 281.7,199.6 282,198.4 282.6,195.2 283.2,190.8 284.7,176.3 285.3,172.7 285.6,171.7 285.9,171.3 286.2,171.6 286.8,173.7 286.8,173.4 286.2,171.1 285.9,170.8 285.6,171.1 285.3,171.9 284.7,175.2 282.9,190.6 282.3,193.7 281.7,195.6 281.4,196.1 281.1,196.4 280.8,196.4 280.2,196.2 278.7,195.2 277.8,195 276.9,195.4 275.7,196.6 275.1,196.9 274.8,196.8 274.5,196.3 274.2,195.1 273.6,190.3 273.3,186.1 272.7,172.7 270.3,89.7 270,83.6 269.7,81.2 269.4,83.5ZM290.1,198.8 290.7,201.3 291.3,202.8 291.9,203.8 292.5,204 293.1,203.8 293.7,203.5 295.2,202 296.1,200.6 296.7,198.9 296.7,199.1 296.1,201.2 295.2,202.9 293.7,204.7 293.1,205.2 292.5,205.4 291.9,205.1 291.3,204 290.7,202 290.1,199ZM304.5,166.9 304.8,166.4 305.1,166.7 306.3,172.5 306.6,173.4 306.9,173.8 307.2,174 307.5,173.9 309.3,172.8 310.2,172.7 310.8,173 311.4,173.6 312.3,175.3 312.9,176.8 313.8,179.9 316.5,192.2 317.4,195.7 318.6,199.1 320.1,201.9 321,203 321.9,203.7 322.8,204.1 323.7,204 324.6,203.2 325.5,202.1 326.1,201 326.7,199.2 326.7,199.4 325.8,202.4 324.9,204 324,205.1 323.4,205.5 322.5,205.4 321.6,204.9 320.7,203.8 319.2,201 317.7,197.3 314.7,187.2 313.5,183.8 312.3,181.5 310.5,178.9 309.3,177.6 307.5,176.3 306.9,175.5 306.3,173.6 305.1,167.2 304.8,166.8 304.5,167.2ZM341.1,178.2 341.7,174.2 342.3,168.2 342.9,160 344.4,134.3 344.7,131.1 345,130.2 345.3,131.9 345.6,135.7 348,177.8 348.3,181.5 348.9,186.2 348.9,186.5 348.3,182.1 348,178.7 345.6,140.8 345.3,137.3 345,135.7 344.7,136.5 344.4,139.4 343.2,158 342.3,169.5 341.7,174.8 341.1,178.5ZM357.9,199.6 358.8,201.9 359.1,202.3 359.4,202.4 360,201.7 361.2,199.1 361.2,199.3 360,202.6 359.7,203.1 359.4,203.4 359.1,203.3 358.8,202.8 357.9,199.9ZM367.2,199.5 368.7,203.1 369.3,203.9 369.9,204.1 370.5,203.7 371.4,202.8 373.5,199.7 373.5,200 371.4,203.9 370.5,205.1 369.9,205.5 369.6,205.5 369.3,205.2 368.7,204.2 367.2,199.8ZM377.4,192.9 378.3,190.7 378.9,188.4 383.1,165.5 384,161.7 384.6,160.5 385.2,160.1 386.7,160 387.3,160.2 387.9,160.9 388.8,162.9 391.5,171 391.5,170.7 388.8,160.7 387.9,158.3 387.3,157.4 386.7,157.1 386.1,157 385.2,157.1 384.6,157.6 384,159 383.1,163.1 378.9,187.6 378.3,190.2 377.4,192.6ZM391.8,171.7 392.7,173.3 393.3,173.8 393.6,173.7 394.2,172.7 395.4,169.5 395.7,169.1 396,169 396.3,169.4 396.9,171.2 397.5,174 399.9,187.6 401.4,195 402.6,199.4 403.2,200.9 404.1,202.4 405,203.3 405.9,203.9 407.4,204.2 408.3,204.1 408.9,203.7 409.5,202.9 410.4,201.3 411.3,199.3 411.3,199.6 409.5,204.1 408.9,205 408.3,205.5 407.4,205.7 406.2,205.4 405.3,204.9 404.4,203.9 403.2,201.6 402.3,199 397.2,180.1 396.3,177.3 396,176.7 395.7,176.5 395.4,176.5 394.2,177.2 393.9,177.1 393.6,176.8 393,175.6 391.8,171.7ZM424.8,175.1 425.1,175.6 425.4,175.9 425.7,175.7 426.3,173.9 427.5,167.6 429.9,152.6 430.5,149.6 431.1,147.6 432,145.9 432.3,145.7 432.6,145.7 432.9,146 433.2,146.8 433.8,149.7 433.8,150 433.5,148.4 433.2,147.4 432.9,146.8 432.6,146.7 432.3,147 431.7,148.2 431.1,150.2 430.5,153 428.4,165.7 426.9,173 426.3,175.2 425.7,176.4 425.4,176.5 424.8,175.4ZM447.3,199.5 448.8,203 449.4,203.9 450,204.3 450.6,203.8 451.2,202.8 452.7,198.7 452.7,199 451.2,203.9 450.6,205.2 450.3,205.6 450,205.7 449.7,205.6 449.4,205.3 448.8,204.2 447.3,199.8ZM473.1,199.5 474,201.1 474.9,202.4 475.8,203.2 476.7,203.8 477.9,204.2 479.4,204.4 483.3,204.4 483.3,205.9 481.2,206 479.1,205.9 477.6,205.5 476.4,205 475.8,204.5 474.9,203.4 474,201.8 473.1,199.8Z"/>
<path fill="none" stroke="#8fc555" stroke-width="3.0" d="M81,201.3 82.5,201.5 84.6,202.1 85.5,202.5 87.3,203.6 87.9,203.8 88.2,203.8 88.5,203.7 88.8,203.5 89.1,203 90.3,200.2 90.9,199.1 91.2,198.8 91.5,198.8 91.8,199 92.1,199.4 93.9,203.1 94.5,203.8 94.8,204 95.1,204 95.7,203.8 98.1,201.2 98.7,200.8 99,200.7 99.3,200.8 99.9,201.4 101.4,203.7 101.7,203.8 102,203.8 102.3,203.6 102.9,202.8 104.4,200 105.6,196.9 107.7,189.8 108.3,188.5 108.6,188.2 108.9,188.1 109.2,188.3 109.8,189.3 111.9,196.2 113.1,199.3 113.7,200.5 114.6,201.8 115.2,202.5 115.8,202.8 116.4,202.8 119.7,201.9 120.6,201.4 121.8,200.2 122.7,199 123.6,197.4 126,191.4 126.6,190.2 127.2,189.5 127.5,189.5 127.8,189.8 128.1,190.3 129.3,193.8 129.9,195.2 130.2,195.5 130.5,195.5 130.8,195.1 131.1,194.2 131.4,192.8 131.7,190.7 132.3,183.3 133.2,164.8 134.7,122.4 135,116.6 135.3,113.2 135.6,112.7 135.9,115.1 136.2,120.1 137.4,154.7 138,169.5 138.9,183.3 139.8,191.6 140.7,197.1 141.6,200.8 142.2,202.4 142.8,203.6 143.1,203.8 143.4,203.7 143.7,203.1 144,202.2 144.6,199.6 145.2,196 145.8,191.4 147.3,177.5 147.6,175.9 147.9,175.2 148.2,175.5 148.5,176.7 148.8,178.4 150.6,192.3 151.5,198.3 152.4,202.3 152.7,203 153,203.4 153.3,203.4 153.6,203 153.9,202.2 154.5,200.1 156.9,190.6 157.5,188.9 157.8,188.5 158.1,188.4 158.4,188.5 158.7,188.9 159.3,189.9 161.7,196 162.9,198.3 163.8,199.6 164.7,200.6 165.9,201.6 166.8,202.3 167.4,202.5 167.7,202.6 168.3,202.2 170.1,199.5 171.6,197.5 172.2,196.9 172.5,196.8 172.8,196.8 173.1,197 173.7,197.6 175.5,200.7 176.1,201.5 177.6,202.9 178.8,203.8 179.4,204.1 180,204.1 180.6,203.9 181.8,203.3 182.4,203.2 183,203.3 184.8,204.1 185.1,204.1 185.7,204 192,199.9 192.9,199.1 193.5,197.8 195,191.3 195.6,189.3 196.2,187.7 196.8,186.6 197.4,185.9 197.7,185.7 198.3,185.8 199.2,186.3 199.8,186.4 200.4,186.2 201.3,185.4 201.6,185.2 201.9,185.2 202.2,185.5 202.5,186.1 203.4,188.2 203.7,188.6 204,188.6 204.3,188.3 204.6,187.8 205.8,185 206.1,184.5 206.4,184.3 206.7,184.3 207,184.5 207.3,184.9 207.9,186.3 209.1,191.9 209.4,193 209.7,193.4 210,193.2 210.6,191.5 213.9,178.1 214.2,177.3 214.5,176.9 214.8,177.1 215.1,178.1 216.6,186.2 217.2,189 217.5,189.9 217.8,190.3 218.1,190.1 218.4,189.4 218.7,188.2 219.9,182.4 220.5,180.3 222.3,175.1 222.9,172.1 223.5,166.4 224.7,148.3 225,144.9 225.3,143.8 225.6,145.5 225.9,149.8 227.1,173.3 228,186.6 228.9,194.1 229.5,197.6 230.1,200 230.7,201.4 231,201.6 231.3,201.7 231.6,201.5 232.5,200.5 234.9,197.4 235.5,196.9 235.8,196.9 236.1,197.2 236.4,197.7 237.9,201.3 238.5,202.2 239.1,202.8 240.6,203.7 242.1,204.1 243.3,204.1 244.5,203.6 245.4,203 246.3,202 246.9,201.1 247.5,199.8 248.4,196.9 249.9,190.6 251.1,186.3 252.3,182.8 252.9,181.5 253.2,181 253.5,180.9 253.8,181 254.1,181.4 254.4,182.2 255.6,186.2 255.9,186.9 256.2,187.4 256.5,187.5 256.8,187.4 257.1,187 258.3,184.9 259.2,183.6 260.1,182.6 260.7,182.1 261,182 261.3,182 261.6,182.2 262.8,183.9 263.1,184.1 263.4,184.2 263.7,184 264,183.5 264.3,182.6 264.9,180.2 265.5,176.8 266.1,171.5 266.7,162 267.3,146.9 269.1,90.1 269.4,83.9 269.7,81.7 270,84.1 270.6,99 272.4,165.4 273,182.8 273.3,188.9 273.9,196.7 274.2,199 274.5,200.5 274.8,201.3 275.1,201.8 275.4,202.1 276,202.2 277.5,202 279.3,202.1 279.9,202.1 280.5,201.7 280.8,201.5 281.4,200.4 281.7,199.6 282.3,197 282.9,193.2 283.5,188.1 284.4,178.9 285,174.2 285.3,172.7 285.6,171.7 285.9,171.3 286.2,171.6 286.5,172.3 287.1,175.5 289.2,193.2 290.1,198.8 290.7,201.3 291,202.1 291.6,203.4 291.9,203.8 292.2,204 292.5,204 293.1,203.8 293.7,203.5 295.2,202 296.1,200.6 296.7,198.9 297.9,192.4 298.2,191.3 298.5,190.9 298.8,190.9 299.7,191.7 300,191.6 300.3,191 300.6,189.9 301.2,186.7 303.9,169.8 304.5,166.9 304.8,166.4 305.1,166.7 305.4,167.9 306.3,172.5 306.6,173.4 306.9,173.8 307.2,174 307.5,173.9 309.3,172.8 309.9,172.7 310.2,172.7 310.8,173 311.4,173.6 312.3,175.3 312.9,176.8 313.8,179.9 316.5,192.2 317.4,195.7 318.3,198.3 319.5,200.9 320.4,202.3 321,203 321.6,203.6 322.2,203.9 322.8,204.1 323.4,204.1 324,203.8 324.6,203.2 325.5,202.1 326.1,201 326.7,199.2 327,197.7 327.9,190.5 329.4,174.3 330.6,163.1 331.5,156.8 331.8,155.6 332.1,155.1 332.4,155.3 332.7,156 333,157.1 334.8,166.6 335.4,169.1 336.3,171.9 338.1,176.6 339.6,179.7 339.9,180.2 340.2,180.3 340.5,180.1 340.8,179.5 341.4,176.5 342.3,168.2 342.9,160 344.4,134.3 344.7,131.1 345,130.2 345.3,131.9 345.6,135.7 347.4,168.3 348,177.8 348.3,181.5 348.9,186.2 349.2,187.4 349.5,188.2 349.8,188.6 350.4,189.1 350.7,189.1 351,188.9 351.3,188.5 352.5,185.9 352.8,185.7 353.1,185.9 353.4,186.3 354.6,189.5 358.2,200.5 358.8,201.9 359.1,202.3 359.4,202.4 359.7,202.2 360.3,201.2 361.5,198.3 363.6,192.5 363.9,191.9 364.2,191.5 364.5,191.4 364.8,191.8 365.1,192.4 366.6,197.7 367.5,200.3 368.4,202.5 369,203.5 369.3,203.9 369.6,204.1 369.9,204.1 370.5,203.7 371.7,202.4 372.9,200.6 377.1,193.5 377.7,192.3 378.3,190.7 379.2,186.8 381,176.5 383.7,162.8 384,161.7 384.6,160.5 384.9,160.2 385.2,160.1 386.4,160 387,160.1 387.3,160.2 387.9,160.9 388.2,161.4 388.8,162.9 391.2,170.2 392.1,172.3 392.7,173.3 393,173.6 393.3,173.8 393.6,173.7 393.9,173.3 395.1,170.2 395.4,169.5 395.7,169.1 396,169 396.3,169.4 396.9,171.2 397.5,174 399.6,186 400.8,192.3 401.7,196.2 402.6,199.4 403.2,200.9 403.8,202 404.4,202.7 405,203.3 405.9,203.9 406.8,204.1 408,204.2 408.6,204 409.2,203.3 409.8,202.4 411.3,199.3 412.5,196.2 414.9,189.2 415.8,187.2 416.7,186 418.8,184.8 419.7,183.8 420.6,182.2 421.8,179.6 422.4,178.1 423.3,175.4 423.6,174.6 423.9,174.2 424.2,174.1 424.5,174.5 425.1,175.6 425.4,175.9 425.7,175.7 426,175 426.6,172.6 427.2,169.4 430.2,151 431.1,147.6 431.7,146.3 432,145.9 432.3,145.7 432.6,145.7 432.9,146 433.2,146.8 433.8,149.7 434.7,157.6 436.5,177.9 436.8,180.3 437.4,183.3 437.7,184.1 438,184.6 438.3,184.8 438.6,184.8 438.9,184.6 439.2,184.2 439.8,183.2 440.1,182.9 440.4,183 440.7,183.9 441,185.4 441.9,190.6 442.5,192.4 443.1,193.3 443.7,193.8 444,193.9 444.9,194 445.2,194.1 445.5,194.4 446.1,195.7 447.3,199.5 447.9,201.1 448.8,203 449.4,203.9 449.7,204.2 450,204.3 450.3,204.1 450.9,203.4 451.8,201.4 452.7,198.7 453.6,195.5 454.5,191.7 457.5,177 458.7,172.9 459.6,170.7 460.8,168.6 461.7,167.7 462.3,167.4 462.6,167.4 463.2,167.6 463.8,168.3 464.4,169.5 465,171.2 467.1,178.4 471,193.6 472.5,198.1 473.7,200.6 474.3,201.6 475.2,202.7 475.8,203.2 476.7,203.8 477.9,204.2 479.4,204.4 481.5,204.5 483.3,204.4"/>
<path fill="#3d9be0" stroke="none" d="M81,199.6 81.9,199.5 82.8,199.9 87,203.6 87.9,204.2 88.5,204.4 89.1,204.1 90.9,201.6 91.5,201.4 91.8,201.5 92.4,202 94.2,204.1 94.8,204.4 95.1,204.3 96,203.7 98.1,201.3 98.7,200.8 99,200.8 99.3,200.9 99.9,201.5 101.4,203.9 101.7,204.1 102,204.1 102.3,203.9 102.9,203.1 105,199.7 105,200 102.9,204.1 102.3,205 102,205.2 101.7,205.2 101.4,205 99.9,202.1 99.3,201.4 99,201.3 98.7,201.3 98.1,201.8 95.7,205.1 95.1,205.6 94.8,205.6 94.5,205.5 93.9,205 92.4,202.7 91.8,202.1 91.5,202 90.9,202.3 89.4,204.8 88.8,205.5 88.5,205.6 87.6,205.2 85.5,203.6 84.6,203 82.5,202.3 81,202ZM112.8,199.7 114.6,202.5 115.5,203.5 116.4,203.9 119.1,204.2 120,204 120.9,203.4 122.4,201.8 124.2,199.7 124.2,200 120.9,204.4 120,205.2 119.1,205.4 116.4,205.1 115.5,204.6 114.6,203.4 112.8,200.1ZM130.8,196.4 131.4,193.1 131.7,190.3 132.6,175 133.2,158.6 134.7,106.5 135.3,95.4 135.6,94.7 135.9,97.6 136.2,103.8 137.7,155.8 138.3,171 139.2,185.3 140.1,193.3 140.1,193.6 139.2,186.5 138.3,174.9 137.7,162.7 136.2,120.1 135.9,115.1 135.6,112.7 135.3,113.2 134.7,122.4 133.2,165 132.3,183.8 131.7,191.4 131.4,193.8 130.8,196.7ZM141.3,199.8 142.5,203.5 143.1,204.5 143.4,204.6 143.7,204.4 144.3,203.1 145.2,200 145.2,200.3 144.3,204.1 143.7,205.6 143.4,205.9 143.1,205.8 142.5,204.6 141.3,200.1ZM151.2,199.5 152.1,202.7 152.7,204.1 153,204.4 153.3,204.4 153.9,203.3 155.1,199.9 155.1,200.2 153.9,204.4 153.3,205.6 153,205.6 152.7,205.3 152.1,203.7 151.2,199.8ZM163.8,199.9 166.5,202.2 167.1,202.6 167.7,202.7 168,202.6 168.6,202 169.8,200 169.8,200.3 168.6,202.7 168,203.5 167.7,203.6 167.1,203.5 166.5,203 163.8,200.2ZM174.9,199.7 175.8,201.2 177,202.5 178.5,203.8 179.1,204.2 179.7,204.3 180.3,204.2 181.8,203.5 182.4,203.3 183,203.4 184.5,204.2 185.4,204.3 186.3,203.8 192,200 192,200.3 186.3,204.9 185.4,205.5 185.1,205.6 184.5,205.4 183,204.5 182.4,204.4 181.8,204.6 180.3,205.4 179.7,205.6 178.8,205.2 177.3,203.7 176.1,202.2 174.9,200ZM209.7,193.1 210,192.8 210.6,190.7 211.8,184 213.6,172.4 214.2,169.8 214.5,169.4 214.8,169.8 215.1,171.1 216.9,184.9 217.5,188.2 217.8,189 218.1,189.2 218.4,188.8 219,186.5 219,186.7 218.4,189.4 218.1,190.1 217.8,190.3 217.5,189.9 216.6,186.2 215.1,178.1 214.8,177.1 214.5,176.9 214.2,177.3 213.6,179.2 210.6,191.5 210,193.2 209.7,193.4ZM229.8,199 230.4,200.9 231,201.7 231.3,201.8 231.6,201.6 233.1,199.8 233.1,200.1 231.6,202.3 231.3,202.5 231,202.4 230.7,202.1 230.4,201.4 229.8,199.2ZM237.3,200 238.2,201.9 239.1,202.9 240.9,204 241.8,204.3 242.7,204.4 243.6,204.2 244.2,204 245.4,203.1 246.6,201.7 247.5,199.9 247.5,200.3 246.6,202.4 245.4,204.1 244.2,205.2 243.6,205.4 242.7,205.6 241.8,205.5 240.9,205.2 239.1,203.9 238.2,202.7 237.3,200.3ZM265.5,176.5 266.1,170.8 266.7,160.4 267.3,143.6 269.1,79.2 269.4,72.2 269.7,69.7 270,72.3 270.6,88.6 272.7,170.6 273,178.5 273.6,188.5 273.9,191.2 274.2,192.7 274.5,193.3 274.8,193.3 275.1,192.8 276.6,189 277.2,188.2 277.5,188.1 277.8,188.3 278.4,189.2 279.9,193.2 280.8,195 281.1,195.3 281.4,195.3 281.7,195 282.3,193.4 282.3,193.7 281.7,195.6 281.1,196.4 280.5,196.4 278.7,195.2 277.8,195 276.9,195.4 275.7,196.6 275.1,196.9 274.8,196.8 274.5,196.3 273.9,193.2 273.3,186.1 272.7,172.7 270.6,98.2 270,83.6 269.7,81.2 269.4,83.5 269.1,89.8 267.3,146.8 266.7,161.9 266.1,171.5 265.5,176.8ZM290.1,198.8 290.7,201.4 291.3,203 291.9,204 292.5,204.2 293.4,203.9 294.9,202.5 295.8,201.3 296.4,199.9 296.4,200.3 295.8,201.8 294.6,203.8 293.4,205 292.5,205.4 291.9,205.1 291.3,204 290.7,202 290.1,199ZM318.9,200 320.1,202.1 321,203.2 321.9,203.9 322.5,204.2 323.1,204.3 324,204 325.2,202.6 326.1,201.1 326.7,199.1 326.7,199.4 326.1,201.6 325.2,203.5 324,205.1 323.7,205.3 323.1,205.5 322.5,205.4 321.9,205.1 321,204.2 320.1,202.8 318.9,200.3ZM327.9,190.3 330.3,163.9 331.2,156 331.8,152.7 332.1,152.1 332.4,152.3 333,154.2 335.1,166.8 335.7,169.4 336.6,172.4 336.6,172.7 335.7,170.1 335.1,167.9 333.3,158.4 332.7,156 332.4,155.3 332.1,155.1 331.8,155.6 331.2,158.6 330.3,165.7 327.9,190.5ZM348.6,184.4 349.2,187.1 349.5,187.6 350.1,188 350.4,187.9 350.7,187.6 351,187.1 352.5,183 352.8,182.7 353.1,182.9 353.4,183.4 354.3,186.2 356.4,194.3 357.9,199.4 358.5,201.3 359.1,202.3 359.4,202.3 359.7,202.1 360.3,200.8 361.2,198.1 363.6,189.6 364.2,188.5 364.5,188.5 364.8,188.9 365.1,189.7 366.6,196.3 367.5,199.6 368.4,202.3 369,203.6 369.6,204.2 370.2,204.2 371.1,203.4 372.6,201.5 372.6,201.7 371.4,203.9 370.5,205.1 369.9,205.5 369.6,205.5 369.3,205.2 368.7,204.2 368.1,202.7 366.6,197.9 365.1,192.4 364.8,191.8 364.5,191.4 364.2,191.5 363.6,192.5 360,202.6 359.7,203.1 359.4,203.4 359.1,203.3 358.5,202 355.5,192.2 353.4,186.3 353.1,185.9 352.8,185.7 352.5,185.9 351.3,188.5 351,188.9 350.7,189.1 350.4,189.2 349.8,188.7 349.2,187.6 348.6,184.7ZM373.5,200.3 375.3,197.8 377.7,194.9 378.6,193 379.2,190.8 381,182.1 383.4,171.4 384,169.4 384.3,168.7 384.9,168.1 386.7,167.9 387.3,167.9 387.9,168.3 388.2,168.7 389.1,170.5 391.5,176.3 392.7,178.8 393.3,179.8 393.6,180 393.9,180 394.2,179.8 395.1,178.5 395.7,178 396,178.1 396.3,178.4 397.2,180.9 399,187.3 399,187 396.9,179 396.3,177.3 396,176.7 395.7,176.5 395.4,176.5 394.2,177.2 393.9,177.1 393.6,176.8 393,175.6 391.5,170.7 388.8,160.7 387.9,158.3 387.3,157.4 386.7,157.1 386.1,157 385.2,157.1 384.6,157.6 384.3,158.1 383.4,161.5 381,175 379.2,186 378.3,190.2 377.1,193.2 373.5,200ZM402.6,199.7 403.5,201.7 404.7,203.3 405.9,204.1 406.8,204.4 407.7,204.4 408.6,204.2 409.2,203.5 410.1,202 411.3,199.4 411.3,199.6 410.1,202.7 409.2,204.6 408.6,205.3 408.3,205.5 407.7,205.7 406.8,205.6 405.9,205.3 405.3,204.9 404.7,204.3 403.5,202.3 402.6,200ZM428.4,165.3 431.1,147.6 432,144 432.3,143.3 432.6,143 432.9,143 433.2,143.6 433.5,144.8 434.1,149.1 436.5,177.2 436.8,179.8 437.4,183.1 437.4,183.3 436.8,180.3 436.5,177.9 434.7,157.7 434.1,152.2 433.5,148.4 433.2,147.4 432.9,146.8 432.6,146.7 432.3,147 431.7,148.2 431.1,150.2 430.2,154.6 428.4,165.7ZM447.6,200.5 448.8,203.4 449.7,204.7 450,204.8 450.3,204.7 450.6,204.5 451.5,203 451.5,203.1 450.6,205.2 450.3,205.6 450,205.7 449.7,205.6 449.4,205.3 448.8,204.2 447.6,200.8ZM451.8,202.3 453,199 454.2,194.9 456.9,183.6 458.1,179.6 459,177.7 460.2,175.9 461.4,174.8 462,174.5 462.6,174.4 463.2,174.5 463.8,175 464.4,175.9 465.3,177.9 467.4,183.7 471.3,196 472.5,199 473.4,200.8 473.4,200.5 472.2,197.4 471,193.6 467.1,178.4 465,171.2 464.4,169.5 463.8,168.3 463.2,167.6 462.9,167.4 462.3,167.4 461.4,167.9 460.2,169.5 459,172.1 458.1,174.7 456.9,179.7 454.2,193 451.8,202.1ZM474.3,202.1 475.8,203.6 477,204.2 479.4,204.7 483.3,204.7 483.3,205.9 479.4,205.9 478.2,205.7 477,205.3 476.1,204.8 475.5,204.2 474.3,202.4Z"/>
<path fill="none" stroke="#3d9be0" stroke-width="3.0" d="M81,199.6 81.9,199.5 82.8,199.9 83.7,200.6 86.7,203.3 87.6,204 88.2,204.3 88.5,204.4 88.8,204.3 89.1,204.1 90.6,201.9 91.2,201.4 91.5,201.4 91.8,201.5 92.4,202 93.6,203.5 94.2,204.1 94.8,204.4 95.1,204.3 95.4,204.2 96,203.7 98.1,201.3 98.7,200.8 99,200.8 99.3,200.9 99.9,201.5 101.4,203.9 101.7,204.1 102,204.1 102.3,203.9 102.9,203.1 105,199.7 105.9,198 107.7,194.2 108.3,193.4 108.6,193.1 108.9,193.1 109.2,193.2 109.8,193.8 112.5,199.2 114,201.7 115.2,203.3 115.8,203.7 116.4,203.9 119.1,204.2 119.7,204.1 120.3,203.8 121.8,202.5 124.2,199.7 126.6,196.3 127.2,195.6 127.5,195.5 127.8,195.5 128.1,195.7 129.3,197.5 129.6,197.8 129.9,197.9 130.2,197.7 130.5,197.2 130.8,196.4 131.1,195.1 131.4,193.1 132,186.4 132.3,181.3 133.2,158.6 134.7,106.5 135,99.5 135.3,95.4 135.6,94.7 135.9,97.6 136.2,103.8 137.7,155.8 138.3,171 138.9,181.4 139.8,191.1 140.7,197 141.3,199.8 141.9,201.9 142.5,203.5 143.1,204.5 143.4,204.6 143.7,204.4 144,203.9 144.9,201.1 145.8,197.1 147.3,187.4 147.6,186.2 147.9,185.7 148.2,186 148.8,188.1 150.6,196.9 151.5,200.7 152.4,203.5 152.7,204.1 153,204.4 153.3,204.4 153.6,204 154.2,202.5 155.4,199.1 156.6,196.1 157.2,194.9 157.5,194.6 157.8,194.4 158.1,194.4 158.7,194.8 162,198.1 165.3,201.3 166.5,202.2 167.4,202.7 167.7,202.7 168,202.6 168.3,202.3 170.1,199.5 171.6,197.5 172.2,197 172.5,196.8 172.8,196.8 173.1,197 173.7,197.6 175.5,200.7 176.1,201.6 177.6,203.1 178.8,204 179.4,204.3 180,204.3 180.6,204.1 181.8,203.5 182.4,203.3 183,203.4 184.8,204.3 185.1,204.3 185.7,204.2 192,200 192.9,199.2 193.5,197.8 195,191.3 195.6,189.3 196.2,187.7 196.8,186.6 197.4,185.9 197.7,185.7 198.3,185.8 199.2,186.3 199.8,186.4 200.4,186.2 201.3,185.4 201.6,185.2 201.9,185.2 202.2,185.5 202.5,186.1 203.4,188.2 203.7,188.6 204,188.6 204.3,188.3 204.6,187.8 205.5,185.6 206.1,184.5 206.4,184.3 206.7,184.3 207,184.5 207.6,185.4 207.9,186.3 209.1,191.8 209.4,192.8 209.7,193.1 210,192.8 210.6,190.7 211.8,184 213.6,172.4 214.2,169.8 214.5,169.4 214.8,169.8 215.1,171.1 217.2,186.7 217.5,188.2 217.8,189 218.1,189.2 218.4,188.8 218.7,187.8 220.2,181.2 222.3,175.1 222.9,172.1 223.5,166.4 224.7,148.3 225,144.9 225.3,143.8 225.6,145.5 225.9,149.8 227.1,173.3 228,186.6 228.9,194.1 229.5,197.6 230.1,200.1 230.7,201.5 231,201.7 231.3,201.8 231.6,201.6 232.2,201 234.9,197.4 235.5,196.9 235.8,196.9 236.1,197.2 236.4,197.7 237.6,200.8 238.2,201.9 238.8,202.7 239.4,203.1 240.9,204 241.8,204.3 242.4,204.4 243.6,204.2 244.8,203.6 246,202.5 246.6,201.7 247.2,200.6 248.1,198.1 249.6,192.3 250.2,190.3 251.1,188.1 251.7,187 252.3,186.3 252.9,185.8 253.2,185.7 253.5,185.7 253.8,186 254.1,186.4 255.3,189.3 255.6,189.8 255.9,190.1 256.2,190.1 256.5,189.8 256.8,189.3 258.6,184.8 259.2,183.8 260.1,182.6 260.7,182.1 261,182 261.3,182 261.9,182.6 262.8,183.9 263.1,184.1 263.4,184.2 263.7,184 264,183.5 264.3,182.6 264.9,180.1 265.5,176.5 266.1,170.8 266.7,160.4 267.3,143.6 269.1,79.2 269.4,72.2 269.7,69.7 270,72.3 270.6,88.6 272.4,160.8 273,178.5 273.6,188.5 273.9,191.2 274.2,192.7 274.5,193.3 274.8,193.3 275.1,192.8 276.6,189 276.9,188.5 277.2,188.2 277.5,188.1 277.8,188.3 278.4,189.2 279.9,193.2 280.5,194.5 281.1,195.3 281.4,195.3 281.7,195 282,194.4 282.3,193.4 282.9,190.5 283.5,186 284.4,177.6 285,173.3 285.3,171.9 285.6,171.1 285.9,170.8 286.2,171.1 286.5,172 287.1,175.2 289.2,193.1 289.8,197.2 290.4,200.2 291,202.3 291.6,203.6 291.9,204 292.2,204.2 292.8,204.2 293.4,203.9 294,203.4 294.9,202.5 295.5,201.7 296.1,200.7 296.4,199.9 297,197.4 297.9,192.4 298.2,191.3 298.5,190.9 298.8,190.9 299.7,191.7 300,191.6 300.3,191 300.6,189.9 301.2,186.7 303.9,170 304.5,167.2 304.8,166.8 305.1,167.2 305.4,168.5 306.3,173.6 306.6,174.8 306.9,175.5 307.5,176.3 309.3,177.6 310.2,178.5 312,181 313.2,183.2 314.4,186.2 317.4,196.4 318,198 318.9,200 320.4,202.5 321,203.2 321.6,203.7 322.2,204.1 322.8,204.3 323.4,204.3 324,204 324.6,203.4 325.2,202.6 326.1,201.1 326.7,199.1 327,197.6 327.9,190.3 329.7,170 330.9,158.4 331.5,154 331.8,152.7 332.1,152.1 332.4,152.3 332.7,153 333,154.2 335.1,166.8 335.7,169.4 336.3,171.5 338.1,176.5 339.6,179.8 339.9,180.2 340.2,180.4 340.5,180.3 340.8,179.6 341.4,176.9 342.3,169.5 343.2,158 344.4,139.4 344.7,136.5 345,135.7 345.3,137.3 345.6,140.8 348,178.6 348.3,181.9 348.6,184.4 348.9,186.1 349.2,187.1 349.5,187.6 349.8,187.9 350.1,188 350.4,187.9 350.7,187.6 351,187.1 352.5,183 352.8,182.7 353.1,182.9 353.4,183.4 354,185.1 356.4,194.3 357.9,199.4 358.5,201.3 358.8,201.9 359.1,202.3 359.4,202.3 359.7,202.1 360.3,200.8 361.2,198.1 363.6,189.6 363.9,188.9 364.2,188.5 364.5,188.5 364.8,188.9 365.1,189.7 367.2,198.6 368.1,201.5 368.7,203 369.3,204 369.6,204.2 369.9,204.3 370.5,204 371.7,202.7 375,198.2 377.7,194.9 378.3,193.9 379.2,190.8 381.3,180.7 383.4,171.4 384,169.4 384.3,168.7 384.6,168.3 384.9,168.1 387,167.8 387.6,168 387.9,168.3 388.5,169.2 391.5,176.3 392.7,178.8 393.3,179.8 393.6,180 393.9,180 394.2,179.8 395.1,178.5 395.4,178.1 395.7,178 396,178.1 396.3,178.4 397.2,180.9 402,197.9 402.9,200.5 403.5,201.7 404.1,202.6 404.7,203.3 405.3,203.8 405.9,204.1 406.8,204.4 407.7,204.4 408.3,204.3 408.6,204.2 409.5,203.1 411,200.1 412.5,196.2 414.9,189.2 415.8,187.2 416.7,186 418.8,184.8 419.7,183.8 420.6,182.2 421.8,179.6 422.4,178.1 423.3,175.4 423.6,174.7 423.9,174.3 424.2,174.3 424.5,174.7 425.1,176.1 425.4,176.5 425.7,176.4 426,176 426.9,172.9 428.1,167.1 429,161.5 430.5,151 431.1,147.6 432,144 432.3,143.3 432.6,143 432.9,143 433.2,143.6 433.5,144.8 434.1,149.1 434.7,155.3 436.5,177.2 436.8,179.8 437.4,183.1 437.7,184 438,184.5 438.3,184.7 438.6,184.7 438.9,184.6 439.2,184.2 439.8,183.2 440.1,182.9 440.4,183 440.7,183.9 441,185.4 441.9,190.6 442.5,192.4 443.1,193.3 443.7,193.8 444,193.9 444.9,194 445.2,194.1 445.5,194.5 446.1,195.7 447.9,201.3 448.8,203.4 449.4,204.4 449.7,204.7 450,204.8 450.3,204.7 450.6,204.5 451.5,203 452.4,200.7 453.3,198 454.5,193.8 457.2,182.5 457.8,180.5 458.4,178.9 459.3,177.2 460.5,175.6 461.1,175 461.7,174.6 462.6,174.4 463.2,174.5 463.8,175 464.4,175.9 465,177.2 467.1,182.8 470.4,193.4 471.6,196.8 472.8,199.6 474,201.7 474.6,202.5 475.5,203.4 476.1,203.8 477,204.2 478.2,204.5 479.4,204.7 481.5,204.7 483.3,204.7"/>
<path fill="none" stroke="#000" stroke-width="3.4" d="M81,202 82.5,202.3 84.6,203 85.5,203.6 87.6,205.2 88.2,205.6 88.5,205.6 88.8,205.5 89.4,204.8 90.3,203.2 90.9,202.3 91.2,202 91.5,202 91.8,202.1 92.4,202.7 93.9,205 94.5,205.5 94.8,205.6 95.1,205.6 95.7,205.1 96.3,204.4 98.1,201.8 98.7,201.3 99,201.3 99.3,201.4 99.9,202.1 100.8,204 101.4,205 101.7,205.2 102,205.2 102.3,205 102.6,204.6 103.5,202.9 105.6,198.8 107.7,194.2 108.3,193.4 108.6,193.1 108.9,193.1 109.2,193.2 109.5,193.4 110.1,194.4 112.2,198.9 114.3,202.9 115.2,204.3 115.8,204.8 116.4,205.1 119.1,205.4 120,205.2 120.6,204.7 121.2,204.1 123.6,200.9 126.6,196.4 127.2,195.7 127.5,195.5 127.8,195.5 128.1,195.7 129.3,197.6 129.6,197.9 129.9,198 130.2,197.9 130.5,197.4 131.1,195.5 131.4,193.8 132,188.1 132.3,183.8 133.2,165 134.7,122.4 135,116.6 135.3,113.2 135.6,112.7 135.9,115.1 136.2,120.1 137.4,154.7 138,169.5 138.9,183.3 139.8,191.6 140.7,197.2 141.9,202.6 142.5,204.6 142.8,205.3 143.1,205.8 143.4,205.9 143.7,205.6 144,205 144.6,203 145.8,197.2 147.3,187.4 147.6,186.2 147.9,185.7 148.2,186 148.8,188.1 151.8,202.5 152.4,204.6 152.7,205.3 153,205.6 153.3,205.6 153.6,205.1 153.9,204.4 155.4,199.3 156.6,196.2 157.2,195 157.5,194.6 157.8,194.4 158.1,194.4 158.4,194.6 159,195.1 165.6,202.2 166.8,203.3 167.4,203.6 167.7,203.6 168,203.5 168.3,203.1 170.1,199.8 171.6,197.6 172.2,197 172.5,196.9 172.8,196.9 173.1,197 173.7,197.7 175.5,201.2 176.4,202.6 177.9,204.4 178.8,205.2 179.4,205.5 180,205.5 180.6,205.3 181.8,204.6 182.4,204.4 183,204.5 184.5,205.4 185.1,205.6 185.4,205.5 186.3,204.9 192,200.3 192.9,199.4 193.5,197.9 195,191.3 195.6,189.3 196.2,187.7 196.8,186.6 197.4,185.9 197.7,185.7 198.3,185.8 199.2,186.3 199.8,186.4 200.4,186.2 201.3,185.4 201.6,185.2 201.9,185.2 202.2,185.5 202.5,186.1 203.4,188.2 203.7,188.6 204,188.6 204.3,188.3 204.6,187.8 205.8,185 206.1,184.5 206.4,184.3 206.7,184.3 207,184.5 207.3,184.9 207.9,186.3 209.1,191.9 209.4,193 209.7,193.4 210,193.2 210.6,191.5 213.9,178.1 214.2,177.3 214.5,176.9 214.8,177.1 215.1,178.1 216.6,186.2 217.2,189 217.5,189.9 217.8,190.3 218.1,190.1 218.4,189.4 218.7,188.2 219.9,182.4 220.5,180.3 222.3,175.1 222.9,172.1 223.5,166.4 224.7,148.3 225,144.9 225.3,143.8 225.6,145.5 225.9,149.8 227.1,173.3 228,186.6 228.9,194.2 229.5,197.7 230.1,200.5 230.7,202.1 231,202.4 231.3,202.5 231.9,201.9 234.9,197.5 235.5,197 235.8,197 236.1,197.3 236.4,197.8 237.6,201.2 238.2,202.7 238.5,203.2 239.1,203.9 240.6,205 241.8,205.5 243,205.6 243.6,205.4 244.2,205.2 245.1,204.4 245.7,203.8 246.6,202.4 247.2,201.1 248.1,198.2 249.6,192.3 250.2,190.3 251.1,188.1 252,186.6 252.9,185.8 253.2,185.7 253.5,185.7 253.8,186 254.1,186.4 255.3,189.3 255.6,189.8 255.9,190.1 256.2,190.1 256.5,189.8 256.8,189.3 258.6,184.8 259.2,183.8 260.1,182.6 260.7,182.1 261,182 261.3,182 261.9,182.6 262.8,183.9 263.1,184.1 263.4,184.2 263.7,184 264,183.5 264.3,182.6 264.9,180.2 265.5,176.8 266.1,171.5 266.7,161.9 267.3,146.8 269.1,89.8 269.4,83.5 269.7,81.2 270,83.6 270.6,98.2 272.4,163.5 273,180.3 273.3,186.1 273.9,193.2 274.2,195.1 274.5,196.3 274.8,196.8 275.1,196.9 275.4,196.8 276.9,195.4 277.5,195.1 277.8,195 278.1,195 278.7,195.2 280.2,196.2 280.8,196.4 281.1,196.4 281.4,196.1 281.7,195.6 282.3,193.7 282.9,190.6 283.5,186 284.4,177.6 285,173.3 285.3,171.9 285.6,171.1 285.9,170.8 286.2,171.1 286.5,172 287.1,175.2 289.2,193.1 290.1,199 290.7,202 291.3,204 291.6,204.7 291.9,205.1 292.2,205.4 292.5,205.4 292.8,205.4 293.4,205 294,204.5 294.9,203.4 295.5,202.4 296.1,201.2 296.4,200.3 297,197.5 297.9,192.4 298.2,191.3 298.5,190.9 298.8,190.9 299.7,191.8 300,191.6 300.3,191 300.6,189.9 301.2,186.7 303.9,170 304.5,167.2 304.8,166.8 305.1,167.2 305.4,168.5 306.3,173.6 306.6,174.8 306.9,175.5 307.5,176.3 309.3,177.6 310.2,178.5 312,181 313.2,183.2 314.1,185.3 314.7,187.2 317.4,196.4 318.6,199.6 319.8,202.2 321,204.2 321.9,205.1 322.5,205.4 323.1,205.5 323.7,205.3 324,205.1 324.9,204 325.8,202.4 326.4,200.7 327,197.8 327.9,190.5 329.4,174.3 330.6,163.1 331.5,156.8 331.8,155.6 332.1,155.1 332.4,155.3 332.7,156 333,157.1 334.8,166.6 335.4,169.1 336.3,171.9 338.1,176.6 339.6,179.8 339.9,180.2 340.2,180.4 340.5,180.3 340.8,179.6 341.4,176.9 342.3,169.5 343.2,158 344.4,139.4 344.7,136.5 345,135.7 345.3,137.3 345.6,140.8 348,178.7 348.3,182.1 348.9,186.5 349.2,187.6 349.5,188.3 349.8,188.7 350.4,189.2 350.7,189.1 351,188.9 351.3,188.5 352.5,185.9 352.8,185.7 353.1,185.9 353.4,186.3 354,187.8 355.5,192.2 357.3,197.8 358.5,202 358.8,202.8 359.1,203.3 359.4,203.4 359.7,203.1 360,202.6 363.6,192.5 363.9,191.9 364.2,191.5 364.5,191.4 364.8,191.8 365.1,192.4 367.5,200.8 368.4,203.5 369,204.8 369.3,205.2 369.6,205.5 369.9,205.5 370.2,205.4 370.8,204.7 371.7,203.4 377.1,193.2 377.7,191.9 378.3,190.2 379.2,186 381.3,173.3 383.7,160.1 384,159 384.6,157.6 384.9,157.2 385.2,157.1 386.1,157 386.7,157.1 387.3,157.4 387.9,158.3 388.2,159 389.1,161.8 391.8,171.7 392.7,174.7 393.3,176.3 393.6,176.8 393.9,177.1 394.2,177.2 395.4,176.5 395.7,176.5 396,176.7 396.3,177.3 397.2,180.1 402,198 402.9,200.8 403.5,202.3 404.4,203.9 405,204.6 405.6,205.1 406.5,205.5 407.4,205.7 408,205.6 408.6,205.3 408.9,205 409.5,204.1 410.4,202 412.2,197.1 414.6,190 415.2,188.5 415.8,187.2 416.7,186 418.8,184.8 419.7,183.8 420.6,182.2 421.8,179.6 422.4,178.1 423.3,175.4 423.6,174.7 423.9,174.3 424.2,174.3 424.5,174.7 425.1,176.1 425.4,176.5 425.7,176.4 426,176 426.9,173 427.8,168.8 430.8,151.5 431.7,148.2 432.3,147 432.6,146.7 432.9,146.8 433.2,147.4 433.5,148.4 434.1,152.2 434.7,157.7 436.5,177.9 436.8,180.3 437.4,183.3 437.7,184.1 438,184.6 438.3,184.8 438.6,184.8 438.9,184.6 439.2,184.2 439.8,183.2 440.1,182.9 440.4,183 440.7,183.9 441.6,189.1 442.2,191.6 442.8,192.9 443.4,193.6 444,193.9 444.9,194 445.2,194.1 445.5,194.4 445.8,195 446.4,196.7 448.2,202.6 448.8,204.2 449.4,205.3 449.7,205.6 450,205.7 450.3,205.6 450.6,205.2 451.2,203.9 452.1,201.1 453.3,196.7 454.5,191.7 457.5,177 458.7,172.9 459.6,170.7 460.8,168.6 461.7,167.7 462.3,167.4 462.6,167.4 463.2,167.6 463.8,168.3 464.4,169.5 465,171.2 466.8,177.3 470.1,190.3 471.3,194.6 472.8,199.1 474.3,202.4 475.5,204.2 476.1,204.8 477,205.3 478.2,205.7 479.4,205.9 481.5,206 483.3,205.9"/>
</g>
<g stroke="#1a1a1a" stroke-width="1.4" fill="none">
<path d="M81.0,39.2 V207.3 H483.3"/>
<path d="M74.9,207.3 H81.0"/>
<path d="M74.9,165.3 H81.0"/>
<path d="M74.9,123.3 H81.0"/>
<path d="M74.9,81.3 H81.0"/>
<path d="M74.9,39.3 H81.0"/>
<path d="M81.0,207.3 V213.3"/>
<path d="M153.0,207.3 V213.3"/>
<path d="M225.0,207.3 V213.3"/>
<path d="M297.0,207.3 V213.3"/>
<path d="M369.0,207.3 V213.3"/>
<path d="M441.0,207.3 V213.3"/>
</g>
<g font-family='"Liberation Sans", Arial, Helvetica, sans-serif' fill="#111" font-size="18.3">
<text x="68.4" y="213.3" text-anchor="end">0.00</text>
<text x="68.4" y="171.3" text-anchor="end">0.05</text>
<text x="68.4" y="129.3" text-anchor="end">0.10</text>
<text x="68.4" y="87.3" text-anchor="end">0.15</text>
<text x="68.4" y="45.3" text-anchor="end">0.20</text>
<text x="81.0" y="234.4" text-anchor="middle">600</text>
<text x="153.0" y="234.4" text-anchor="middle">800</text>
<text x="225.0" y="234.4" text-anchor="middle">1000</text>
<text x="297.0" y="234.4" text-anchor="middle">1200</text>
<text x="369.0" y="234.4" text-anchor="middle">1400</text>
<text x="441.0" y="234.4" text-anchor="middle">1600</text>
</g>
<g font-family='"Liberation Sans", Arial, Helvetica, sans-serif' fill="#111" font-size="19.0">
<text x="198" y="264.6">Wavenumber (cm<tspan font-size="11.5" dy="-7.2">−1</tspan><tspan dy="7.2">)</tspan></text>
<text transform="translate(15.6,179.8) rotate(-90)" font-size="18.7">Intensity (a.u)</text>
<text transform="translate(24.0,462.4) rotate(-90)" font-size="18.7">DA-PC2</text>
<text x="245.6" y="607.1" font-size="18">DA-PC1</text>
</g>
<g font-family='"Liberation Sans", Arial, Helvetica, sans-serif' font-weight="bold" font-size="26.5" fill="#000" stroke="none">
<text x="-1.2" y="14.3">a</text>
<text x="-0.8" y="310.6">b</text>
</g>
<g font-family='"Liberation Sans", Arial, Helvetica, sans-serif' fill="#111" font-size="15.8">
<text x="498.4" y="18.3">Strains</text>
<path d="M500.2,31.5 H519.8" stroke="#000" stroke-width="2.0" fill="none"/>
<text x="525.6" y="37.1">MDS42 (parent)</text>
<path d="M500.2,51.3 H519.8" stroke="#c8502a" stroke-width="2.0" fill="none"/>
<text x="525.6" y="56.9">AMK</text>
<path d="M500.2,71.2 H519.8" stroke="#21a366" stroke-width="2.0" fill="none"/>
<text x="525.6" y="76.8">AZM</text>
<path d="M500.2,91.0 H519.8" stroke="#1f6fb8" stroke-width="2.0" fill="none"/>
<text x="525.6" y="96.6">CFIX</text>
<path d="M500.2,110.8 H519.8" stroke="#c99a4e" stroke-width="2.0" fill="none"/>
<text x="525.6" y="116.4">CP</text>
<path d="M500.2,130.6 H519.8" stroke="#4fc7b0" stroke-width="2.0" fill="none"/>
<text x="525.6" y="136.2">CPFX</text>
<path d="M500.2,150.5 H519.8" stroke="#6b3fa5" stroke-width="2.0" fill="none"/>
<text x="525.6" y="156.1">CPZ</text>
<path d="M500.2,170.3 H519.8" stroke="#f2b92c" stroke-width="2.0" fill="none"/>
<text x="525.6" y="175.9">DOXY</text>
<path d="M500.2,190.1 H519.8" stroke="#ea6fd8" stroke-width="2.0" fill="none"/>
<text x="525.6" y="195.7">ENX</text>
<path d="M500.2,210.0 H519.8" stroke="#8fc555" stroke-width="2.0" fill="none"/>
<text x="525.6" y="215.6">NM</text>
<path d="M500.2,229.8 H519.8" stroke="#3d9be0" stroke-width="2.0" fill="none"/>
<text x="525.6" y="235.4">TP</text>
</g>
<g stroke="#1a1a1a" stroke-width="1.4" fill="none">
<rect x="81.0" y="304.4" width="396.7" height="249.2"/>
<path d="M74.9,542.6 H81.0"/>
<path d="M74.9,485.4 H81.0"/>
<path d="M74.9,428.2 H81.0"/>
<path d="M74.9,371.0 H81.0"/>
<path d="M74.9,313.8 H81.0"/>
<path d="M77.8,514.0 H81.0"/>
<path d="M77.8,456.8 H81.0"/>
<path d="M77.8,399.6 H81.0"/>
<path d="M77.8,342.4 H81.0"/>
<path d="M81.0,553.6 V559.6"/>
<path d="M153.2,553.6 V559.6"/>
<path d="M225.4,553.6 V559.6"/>
<path d="M297.6,553.6 V559.6"/>
<path d="M369.8,553.6 V559.6"/>
<path d="M442.0,553.6 V559.6"/>
<path d="M117.1,553.6 V556.9"/>
<path d="M189.3,553.6 V556.9"/>
<path d="M261.5,553.6 V556.9"/>
<path d="M333.7,553.6 V556.9"/>
<path d="M405.9,553.6 V556.9"/>
<path d="M477.4,553.6 V556.9"/>
</g>
<g font-family='"Liberation Sans", Arial, Helvetica, sans-serif' fill="#111" font-size="18.3">
<text x="68.2" y="548.8" text-anchor="end"><tspan font-size="20.6" dy="0.7">−</tspan><tspan dy="-0.7">10</tspan></text>
<text x="68.2" y="491.6" text-anchor="end"><tspan font-size="20.6" dy="0.7">−</tspan><tspan dy="-0.7">5</tspan></text>
<text x="68.2" y="434.4" text-anchor="end">0</text>
<text x="68.2" y="377.2" text-anchor="end">5</text>
<text x="68.2" y="320.0" text-anchor="end">10</text>
<text x="79.8" y="580.6" text-anchor="middle"><tspan font-size="20.6" dy="0.7">−</tspan><tspan dy="-0.7">10</tspan></text>
<text x="152.0" y="580.6" text-anchor="middle"><tspan font-size="20.6" dy="0.7">−</tspan><tspan dy="-0.7">5</tspan></text>
<text x="225.4" y="580.6" text-anchor="middle">0</text>
<text x="297.6" y="580.6" text-anchor="middle">5</text>
<text x="369.8" y="580.6" text-anchor="middle">10</text>
<text x="442.0" y="580.6" text-anchor="middle">15</text>
</g>
<clipPath id="fr"><rect x="81.0" y="304.4" width="396.7" height="249.2"/></clipPath>
<g clip-path="url(#fr)">
<g fill="none" stroke="#3f66b0" stroke-width="1.15">
<ellipse cx="313.1" cy="442.6" rx="53.7" ry="45.4" transform="rotate(-11 313.1 442.6)"/>
<ellipse cx="312.3" cy="442.5" rx="19.6" ry="17.5" transform="rotate(-11 312.3 442.5)"/>
</g>
<g fill="none" stroke="#ad559f" stroke-width="1.15">
<ellipse cx="396.9" cy="378.5" rx="77.7" ry="31.0" transform="rotate(16.8 396.9 378.5)"/>
<ellipse cx="396.2" cy="378.5" rx="31.6" ry="11.5" transform="rotate(16.8 396.2 378.5)"/>
</g>
<g fill="none" stroke="#3daa8f" stroke-width="1.15">
<ellipse cx="413.7" cy="520.4" rx="48.4" ry="25.2" transform="rotate(0 413.7 520.4)"/>
<ellipse cx="411.2" cy="520.4" rx="16" ry="8.8" transform="rotate(0 411.2 520.4)"/>
</g>
<g fill="none" stroke="#c9c23a" stroke-width="1.15">
<ellipse cx="220.1" cy="372.6" rx="36.0" ry="28.0" transform="rotate(12 220.1 372.6)"/>
<ellipse cx="220.1" cy="372.6" rx="14.2" ry="12.2" transform="rotate(12 220.1 372.6)"/>
</g>
<g fill="none" stroke="#8cba3a" stroke-width="1.15">
<ellipse cx="258.75" cy="341.0" rx="33.4" ry="26.0" transform="rotate(51 258.75 341.0)"/>
<ellipse cx="258.7" cy="341.1" rx="12.0" ry="10.6" transform="rotate(51 258.7 341.1)"/>
</g>
<g fill="none" stroke="#d9812e" stroke-width="1.15">
<ellipse cx="185.6" cy="355.7" rx="40.3" ry="17.5" transform="rotate(-27.7 185.6 355.7)"/>
<ellipse cx="185.6" cy="355.7" rx="15.5" ry="7.0" transform="rotate(-27.7 185.6 355.7)"/>
</g>
<g fill="none" stroke="#3fa556" stroke-width="1.15">
<ellipse cx="182.2" cy="417.1" rx="36.1" ry="16.0" transform="rotate(-20 182.2 417.1)"/>
<ellipse cx="183.0" cy="415.6" rx="11.6" ry="7.2" transform="rotate(-20 183.0 415.6)"/>
</g>
<g fill="none" stroke="#6c3fa2" stroke-width="1.15">
<ellipse cx="233.8" cy="452.0" rx="21.0" ry="16.5" transform="rotate(-51 233.8 452.0)"/>
<ellipse cx="233.8" cy="452.0" rx="7.6" ry="6.2" transform="rotate(-51 233.8 452.0)"/>
</g>
<g fill="none" stroke="#d8485c" stroke-width="1.15">
<ellipse cx="121.6" cy="471.0" rx="16.3" ry="21.8" transform="rotate(-12 121.6 471.0)"/>
<ellipse cx="121.6" cy="471.0" rx="6.0" ry="7.6" transform="rotate(-12 121.6 471.0)"/>
</g>
<g fill="none" stroke="#2f9fc9" stroke-width="1.15">
<ellipse cx="165.0" cy="477.7" rx="19.0" ry="36.0" transform="rotate(19 165.0 477.7)"/>
<ellipse cx="165.0" cy="477.7" rx="7.0" ry="12.5" transform="rotate(19 165.0 477.7)"/>
</g>
<g fill="none" stroke="#111111" stroke-width="1.15">
<ellipse cx="147.4" cy="445.2" rx="21.4" ry="26.2" transform="rotate(10 147.4 445.2)"/>
<ellipse cx="147.4" cy="445.2" rx="7.5" ry="9.5" transform="rotate(10 147.4 445.2)"/>
</g>
<g fill="#3a64b4">
<circle cx="275.2" cy="416.3" r="3.05"/>
<circle cx="311.6" cy="420" r="3.05"/>
<circle cx="323.3" cy="421.7" r="3.05"/>
<circle cx="335.5" cy="418.1" r="3.05"/>
<circle cx="341.3" cy="436.7" r="3.05"/>
<circle cx="305.2" cy="438.2" r="3.05"/>
<circle cx="301.3" cy="443.7" r="3.05"/>
<circle cx="293.8" cy="448.8" r="3.05"/>
<circle cx="311.6" cy="451.6" r="3.05"/>
<circle cx="305" cy="466.6" r="3.05"/>
<circle cx="297.5" cy="471.3" r="3.05"/>
</g>
<g fill="#fff" stroke="#3a64b4" stroke-width="2.3">
<circle cx="288.9" cy="443.5" r="4.1"/>
<circle cx="352" cy="440.3" r="4.5"/>
<circle cx="323.3" cy="455.3" r="4.5"/>
<circle cx="312" cy="468.1" r="4.5"/>
</g>
<g fill="#ba6fb7">
<circle cx="363.2" cy="356.7" r="3.05"/>
<circle cx="360.5" cy="361.2" r="3.05"/>
<circle cx="403.6" cy="363.9" r="3.05"/>
<circle cx="370.7" cy="377.2" r="3.05"/>
<circle cx="389.3" cy="385.2" r="3.05"/>
<circle cx="389" cy="371.3" r="3.05"/>
<circle cx="415.1" cy="383" r="3.05"/>
<circle cx="426.3" cy="380.7" r="3.05"/>
<circle cx="447" cy="374.5" r="3.05"/>
<circle cx="399.1" cy="394" r="3.05"/>
<circle cx="407.9" cy="406.5" r="3.05"/>
<circle cx="358.7" cy="368.7" r="3.05"/>
</g>
<g fill="#fff" stroke="#ba6fb7" stroke-width="2.3">
<circle cx="358.7" cy="368.7" r="3.9"/>
<circle cx="434.5" cy="379.9" r="4.5"/>
<circle cx="424.9" cy="407" r="4.5"/>
</g>
<g fill="#2cb4b6">
<circle cx="424.4" cy="498" r="3.05"/>
<circle cx="400" cy="510" r="3.05"/>
<circle cx="422.6" cy="509.4" r="3.05"/>
<circle cx="423.3" cy="512.7" r="3.05"/>
<circle cx="428.8" cy="518.6" r="3.05"/>
<circle cx="430.3" cy="522.6" r="3.05"/>
<circle cx="424.4" cy="528" r="3.05"/>
<circle cx="419.4" cy="530.3" r="3.05"/>
<circle cx="399.2" cy="532" r="3.05"/>
<circle cx="412.1" cy="535.3" r="3.05"/>
<circle cx="416" cy="533.5" r="3.05"/>
<circle cx="420.5" cy="524.8" r="3.05"/>
<circle cx="427" cy="515.5" r="3.05"/>
<circle cx="417.5" cy="531.5" r="3.05"/>
</g>
<g fill="#fff" stroke="#2cb4b6" stroke-width="2.3">
<circle cx="349.9" cy="516.5" r="4.2"/>
<circle cx="419.4" cy="523.7" r="3.4"/>
</g>
<g fill="#b9a41f">
<circle cx="247.7" cy="392.1" r="3.05"/>
<circle cx="236.4" cy="358.1" r="3.05"/>
<circle cx="197.6" cy="367.6" r="3.05"/>
<circle cx="225.1" cy="360" r="3.05"/>
<circle cx="231.4" cy="367.1" r="3.05"/>
<circle cx="223.9" cy="386.4" r="3.05"/>
<circle cx="221.4" cy="382.6" r="3.05"/>
<circle cx="213" cy="381" r="3.05"/>
<circle cx="217.5" cy="378" r="3.05"/>
<circle cx="224" cy="376.5" r="3.05"/>
<circle cx="228.5" cy="372.5" r="3.05"/>
<circle cx="213.9" cy="386.4" r="3.05"/>
</g>
<g fill="#fff" stroke="#b9a41f" stroke-width="2.3">
<circle cx="226.4" cy="352.6" r="4.5"/>
<circle cx="213.9" cy="386.4" r="4.2"/>
<circle cx="221.5" cy="387.5" r="3.0"/>
</g>
<g fill="#8cba2b">
<circle cx="236.8" cy="329.2" r="3.05"/>
<circle cx="281.8" cy="330" r="3.05"/>
<circle cx="273.4" cy="337.3" r="3.05"/>
<circle cx="273.4" cy="340.6" r="3.05"/>
<circle cx="269.7" cy="348.4" r="3.05"/>
<circle cx="257.2" cy="355.3" r="3.05"/>
<circle cx="259.5" cy="359.2" r="3.05"/>
<circle cx="256.6" cy="320.4" r="3.05"/>
<circle cx="251.3" cy="338.2" r="3.05"/>
<circle cx="254.6" cy="343.4" r="3.05"/>
<circle cx="260.5" cy="344" r="3.05"/>
<circle cx="252" cy="333" r="3.05"/>
<circle cx="257.5" cy="331.5" r="3.05"/>
</g>
<g fill="#fff" stroke="#8cba2b" stroke-width="2.3">
<circle cx="244.1" cy="336.8" r="3.6"/>
<circle cx="259.5" cy="367.1" r="4.7"/>
<circle cx="260.5" cy="335.5" r="3.4"/>
</g>
<g fill="#e77f24">
<circle cx="166.3" cy="353.7" r="3.05"/>
<circle cx="193.5" cy="336.4" r="3.05"/>
<circle cx="176.2" cy="354.5" r="3.05"/>
<circle cx="170.4" cy="367.6" r="3.05"/>
<circle cx="188.5" cy="371.4" r="3.05"/>
<circle cx="196.7" cy="352" r="3.05"/>
<circle cx="181" cy="339.7" r="3.05"/>
<circle cx="211.5" cy="349.5" r="3.05"/>
<circle cx="196" cy="348" r="3.05"/>
<circle cx="173.8" cy="358.8" r="3.05"/>
<circle cx="183" cy="362" r="3.05"/>
<circle cx="191" cy="346" r="3.05"/>
</g>
<g fill="#fff" stroke="#e77f24" stroke-width="2.3">
<circle cx="156.4" cy="363.5" r="3.9"/>
<circle cx="177" cy="366" r="4.2"/>
<circle cx="190.2" cy="359.6" r="3.9"/>
<circle cx="207.4" cy="339.5" r="3.9"/>
</g>
<g fill="#2a9d48">
<circle cx="187.7" cy="407" r="3.05"/>
<circle cx="190.2" cy="409.5" r="3.05"/>
<circle cx="184.4" cy="408.7" r="3.05"/>
<circle cx="202.5" cy="416" r="3.05"/>
<circle cx="209.1" cy="418.5" r="3.05"/>
<circle cx="195.9" cy="419" r="3.05"/>
<circle cx="166.3" cy="417.7" r="3.05"/>
<circle cx="161.4" cy="424.3" r="3.05"/>
<circle cx="171.3" cy="421" r="3.05"/>
<circle cx="167.1" cy="422.6" r="3.05"/>
<circle cx="174" cy="416" r="3.05"/>
<circle cx="178" cy="421.5" r="3.05"/>
<circle cx="186" cy="413" r="3.05"/>
</g>
<g fill="#fff" stroke="#2a9d48" stroke-width="2.3">
<circle cx="181.1" cy="430" r="4.2"/>
<circle cx="173.7" cy="429.2" r="4.2"/>
<circle cx="177" cy="412" r="3.6"/>
<circle cx="170.4" cy="419.3" r="3.2"/>
</g>
<g fill="#6c3fa2">
<circle cx="246.3" cy="440.5" r="3.05"/>
<circle cx="239.7" cy="441.2" r="3.05"/>
<circle cx="223.3" cy="466.2" r="3.05"/>
<circle cx="242.4" cy="461.6" r="3.05"/>
<circle cx="240.4" cy="455" r="3.05"/>
<circle cx="234.5" cy="458.9" r="3.05"/>
<circle cx="237.8" cy="444.5" r="3.05"/>
<circle cx="229.2" cy="448.4" r="3.05"/>
<circle cx="243.5" cy="463.5" r="3.05"/>
<circle cx="231" cy="456" r="3.05"/>
<circle cx="238" cy="451" r="3.05"/>
</g>
<g fill="#fff" stroke="#6c3fa2" stroke-width="2.3">
<circle cx="223.3" cy="454.3" r="3.6"/>
<circle cx="226.6" cy="457.6" r="3.6"/>
<circle cx="221.5" cy="450.5" r="3.2"/>
<circle cx="228.5" cy="452.5" r="3.4"/>
</g>
<g fill="#e0415a">
<circle cx="108.3" cy="455.6" r="3.05"/>
<circle cx="118.5" cy="465.8" r="3.05"/>
<circle cx="125.5" cy="465" r="3.05"/>
<circle cx="130.2" cy="469" r="3.05"/>
<circle cx="133.3" cy="469.7" r="3.05"/>
<circle cx="116.1" cy="473.6" r="3.05"/>
<circle cx="118.5" cy="481.5" r="3.05"/>
<circle cx="124" cy="482.3" r="3.05"/>
<circle cx="128.6" cy="481.5" r="3.05"/>
<circle cx="131.8" cy="476.8" r="3.05"/>
<circle cx="121" cy="477" r="3.05"/>
<circle cx="126" cy="471" r="3.05"/>
<circle cx="115" cy="468.5" r="3.05"/>
<circle cx="122" cy="467.5" r="3.05"/>
</g>
<g fill="#fff" stroke="#e0415a" stroke-width="2.3">
<circle cx="108.3" cy="455.6" r="3.2"/>
<circle cx="130.2" cy="476.8" r="3.4"/>
<circle cx="125.5" cy="475.4" r="3.2"/>
<circle cx="119.5" cy="478.5" r="3.0"/>
</g>
<g fill="#2cb4ec">
<circle cx="153.2" cy="493.4" r="3.05"/>
<circle cx="152.6" cy="497" r="3.05"/>
<circle cx="175.6" cy="492.4" r="3.05"/>
<circle cx="156" cy="478.3" r="3.05"/>
<circle cx="160.7" cy="487" r="3.05"/>
<circle cx="165.4" cy="488.5" r="3.05"/>
<circle cx="169.3" cy="485.4" r="3.05"/>
<circle cx="159.2" cy="462" r="3.05"/>
<circle cx="168.6" cy="467.4" r="3.05"/>
<circle cx="157.6" cy="482.3" r="3.05"/>
<circle cx="162" cy="474" r="3.05"/>
<circle cx="170.5" cy="479" r="3.05"/>
<circle cx="166" cy="483" r="3.05"/>
<circle cx="160" cy="470" r="3.05"/>
<circle cx="172" cy="472" r="3.05"/>
</g>
<g fill="#fff" stroke="#2cb4ec" stroke-width="2.3">
<circle cx="179.5" cy="459.6" r="4.4"/>
<circle cx="163.9" cy="485.4" r="3.4"/>
<circle cx="159.5" cy="476" r="3.2"/>
<circle cx="170" cy="465" r="3.2"/>
</g>
<g fill="#000000">
<circle cx="118.4" cy="460.7" r="3.05"/>
<circle cx="127" cy="449.5" r="3.05"/>
<circle cx="127" cy="460" r="3.05"/>
<circle cx="142.1" cy="434.3" r="3.05"/>
<circle cx="145.4" cy="438.3" r="3.05"/>
<circle cx="152.6" cy="436.3" r="3.05"/>
<circle cx="156.6" cy="443.6" r="3.05"/>
<circle cx="160.5" cy="442.2" r="3.05"/>
<circle cx="154.6" cy="448.2" r="3.05"/>
<circle cx="140.8" cy="450.8" r="3.05"/>
<circle cx="138.2" cy="459.3" r="3.05"/>
<circle cx="143.4" cy="456.7" r="3.05"/>
<circle cx="148" cy="462" r="3.05"/>
<circle cx="152.6" cy="453.4" r="3.05"/>
<circle cx="157.9" cy="454.7" r="3.05"/>
<circle cx="166.4" cy="462" r="3.05"/>
<circle cx="163.2" cy="460.7" r="3.05"/>
<circle cx="155.3" cy="430.4" r="3.05"/>
<circle cx="158.6" cy="433" r="3.05"/>
<circle cx="150.7" cy="441.6" r="3.05"/>
<circle cx="139.5" cy="441" r="3.05"/>
<circle cx="146" cy="443" r="3.05"/>
<circle cx="150" cy="447" r="3.05"/>
<circle cx="144" cy="448" r="3.05"/>
<circle cx="147" cy="452" r="3.05"/>
<circle cx="151" cy="457" r="3.05"/>
<circle cx="142" cy="445" r="3.05"/>
<circle cx="155" cy="452" r="3.05"/>
<circle cx="149" cy="437" r="3.05"/>
<circle cx="153" cy="441" r="3.05"/>
<circle cx="145" cy="460" r="3.05"/>
<circle cx="141" cy="455" r="3.05"/>
<circle cx="158" cy="449" r="3.05"/>
</g>
<g fill="#fff" stroke="#000000" stroke-width="2.3">
<circle cx="134.9" cy="446.2" r="3.6"/>
<circle cx="150.7" cy="425.8" r="3.6"/>
<circle cx="156.6" cy="431.7" r="3.6"/>
<circle cx="150.7" cy="467.2" r="4.1"/>
<circle cx="159.9" cy="453.4" r="3.2"/>
<circle cx="142.1" cy="458.2" r="1.9"/>
<circle cx="148.2" cy="460.2" r="1.6"/>
</g>
</g>
<g font-family='"Liberation Sans", Arial, Helvetica, sans-serif' fill="#000" font-size="16">
<path d="M307.0,442.2 H318.2 M312.6,436.6 V447.8" stroke="#000" stroke-width="2.3" fill="none"/>
<path d="M390.9,377.7 H402.1 M396.5,372.1 V383.3" stroke="#000" stroke-width="2.3" fill="none"/>
<path d="M407.6,520.0 H418.8 M413.2,514.4 V525.6" stroke="#000" stroke-width="2.3" fill="none"/>
<path d="M214.4,372.3 H225.6 M220.0,366.7 V377.9" stroke="#000" stroke-width="2.3" fill="none"/>
<path d="M253.0,340.6 H264.2 M258.6,335.0 V346.2" stroke="#000" stroke-width="2.3" fill="none"/>
<path d="M180.5,355.4 H191.7 M186.1,349.8 V361.0" stroke="#000" stroke-width="2.3" fill="none"/>
<path d="M176.3,416.9 H187.5 M181.9,411.3 V422.5" stroke="#000" stroke-width="2.3" fill="none"/>
<path d="M228.2,451.7 H239.4 M233.8,446.1 V457.3" stroke="#000" stroke-width="2.3" fill="none"/>
<path d="M116.0,471.1 H127.2 M121.6,465.5 V476.7" stroke="#000" stroke-width="2.3" fill="none"/>
<path d="M159.4,477.6 H170.6 M165.0,472.0 V483.2" stroke="#000" stroke-width="2.3" fill="none"/>
<path d="M141.8,445.3 H153.0 M147.4,439.7 V450.9" stroke="#fff" stroke-width="2.3" fill="none"/>
<text font-size="16" transform="translate(310.8,438.6) rotate(-90)">CFIX</text>
<text font-size="16" transform="translate(397.0,371.6) rotate(-90)">ENX</text>
<text font-size="16" transform="translate(412.6,513.8) rotate(-90)">CPFX</text>
<text font-size="15.3" transform="translate(217.2,366.0) rotate(-90)">DOXY</text>
<text font-size="16" transform="translate(255.7,335.6) rotate(-90)">NM</text>
<text font-size="16" transform="translate(184.6,350.6) rotate(-90)">CP</text>
<text font-size="16" transform="translate(178.0,411.8) rotate(-90)">AZM</text>
<text font-size="16" transform="translate(233.0,450.2) rotate(-90)">CPZ</text>
<text font-size="16" transform="translate(114.6,499.6) rotate(-90)">AMK</text>
<text font-size="14.2" transform="translate(186.0,484.2) rotate(-90)">TP</text>
<text font-size="16" transform="translate(138.0,441.2) rotate(-90)">MDS42</text>
</g>
<g font-family='"Liberation Sans", Arial, Helvetica, sans-serif' fill="#111" font-size="15.8">
<text x="490.8" y="313.6">Strains</text>
<circle cx="496.2" cy="329.0" r="3.4" fill="#000000"/>
<text x="506.6" y="334.6">MDS42</text>
<circle cx="496.2" cy="351.2" r="3.4" fill="#e0415a"/>
<text x="506.6" y="356.8">AMK</text>
<circle cx="496.2" cy="373.3" r="3.4" fill="#2a9d48"/>
<text x="506.6" y="378.9">AZM</text>
<circle cx="496.2" cy="395.5" r="3.4" fill="#3a64b4"/>
<text x="506.6" y="401.1">CFIX</text>
<circle cx="496.2" cy="417.6" r="3.4" fill="#e77f24"/>
<text x="506.6" y="423.2">CP</text>
<circle cx="496.2" cy="439.8" r="3.4" fill="#2cb4b6"/>
<text x="506.6" y="445.4">CPFX</text>
<circle cx="496.2" cy="462.0" r="3.4" fill="#6c3fa2"/>
<text x="506.6" y="467.6">CPZ</text>
<circle cx="496.2" cy="484.1" r="3.4" fill="#b9a41f"/>
<text x="506.6" y="489.7">DOXY</text>
<circle cx="496.2" cy="506.3" r="3.4" fill="#ba6fb7"/>
<text x="506.6" y="511.9">ENX</text>
<circle cx="496.2" cy="528.4" r="3.4" fill="#8cba2b"/>
<text x="506.6" y="534.0">NM</text>
<circle cx="496.2" cy="550.6" r="3.4" fill="#2cb4ec"/>
<text x="506.6" y="556.2">TP</text>
</g>
</svg>
</body>
</html>
